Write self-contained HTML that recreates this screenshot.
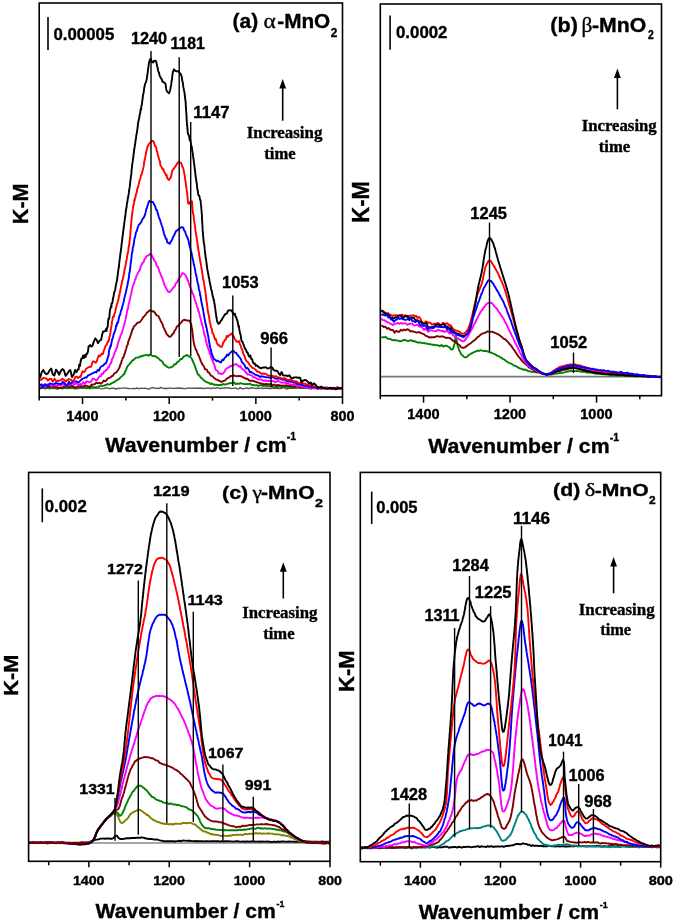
<!DOCTYPE html>
<html><head><meta charset="utf-8"><style>
html,body{margin:0;padding:0;background:#fff;}
body{width:675px;height:923px;overflow:hidden;}
svg{display:block;filter:blur(0.35px);}
</style></head><body>
<svg width="675" height="923" viewBox="0 0 675 923">
<rect width="675" height="923" fill="#fff"/>
<polyline points="40.0,389.0 41.6,388.2 43.2,388.2 44.8,388.0 46.5,388.7 48.1,387.6 49.7,389.0 51.3,388.1 52.9,388.5 54.5,388.3 56.1,388.9 57.8,387.6 59.4,388.3 61.0,388.2 62.6,388.8 64.2,388.0 65.8,388.3 67.5,388.0 69.1,388.4 70.7,388.5 72.3,388.0 73.9,388.7 75.5,388.7 77.1,388.5 78.8,388.6 80.4,388.1 82.0,388.3 83.6,388.0 85.2,388.2 86.8,388.5 88.4,388.1 90.1,388.2 91.7,388.1 93.3,388.0 94.9,388.1 96.5,388.3 98.1,387.9 99.8,388.4 101.4,388.9 103.0,388.6 104.6,388.2 106.2,388.0 107.8,388.0 109.4,388.9 111.1,388.3 112.7,388.1 114.3,388.3 115.9,389.0 117.5,388.3 119.1,388.5 120.7,388.4 122.4,388.1 124.0,387.9 125.6,388.1 127.2,388.2 128.8,388.5 130.4,388.6 132.1,388.6 133.7,388.4 135.3,388.6 136.9,388.0 138.5,388.7 140.1,388.4 141.7,388.1 143.4,388.4 145.0,388.2 146.6,388.6 148.2,388.8 149.8,389.0 151.4,387.7 153.0,387.7 154.7,388.1 156.3,388.3 157.9,388.5 159.5,388.3 161.1,387.5 162.7,388.1 164.4,388.5 166.0,388.3 167.6,388.5 169.2,388.1 170.8,388.1 172.4,388.3 174.0,388.4 175.7,388.3 177.3,388.3 178.9,388.0 180.5,388.3 182.1,388.2 183.7,388.6 185.3,388.6 187.0,388.3 188.6,388.1 190.2,388.0 191.8,388.4 193.4,388.2 195.0,388.1 196.7,388.2 198.3,388.0 199.9,388.4 201.5,388.0 203.1,388.6 204.7,388.3 206.3,388.4 208.0,387.8 209.6,388.3 211.2,388.5 212.8,387.9 214.4,388.1 216.0,388.2 217.6,387.7 219.3,388.3 220.9,388.5 222.5,387.9 224.1,388.3 225.7,387.7 227.3,388.2 229.0,387.6 230.6,388.6 232.2,388.4 233.8,388.2 235.4,387.9 237.0,388.7 238.6,388.9 240.3,387.6 241.9,388.6 243.5,388.8 245.1,388.3 246.7,387.8 248.3,388.5 249.9,388.2 251.6,388.0 253.2,387.8 254.8,388.4 256.4,388.5 258.0,388.0 259.6,388.4 261.3,387.8 262.9,388.5 264.5,388.2 266.1,388.2 267.7,388.2 269.3,388.5 270.9,388.5 272.6,388.4 274.2,388.3 275.8,388.3 277.4,388.5 279.0,388.3 280.6,388.5 282.2,388.1 283.9,387.4 285.5,388.6 287.1,389.0 288.7,388.4 290.3,388.2 291.9,388.2 293.6,388.2 295.2,388.3 296.8,387.9 298.4,388.1 300.0,387.9 301.6,388.3 303.2,388.2 304.9,388.4 306.5,388.2 308.1,388.6 309.7,388.3 311.3,389.0 312.9,387.6 314.5,388.0 316.2,388.6 317.8,389.2 319.4,388.2 321.0,388.3 322.6,388.2 324.2,388.7 325.9,388.2 327.5,388.5 329.1,388.2 330.7,387.8 332.3,388.4 333.9,388.5 335.5,388.7 337.2,388.3 338.8,388.1 340.4,388.5 342.0,388.4" fill="none" stroke="#555555" stroke-width="1.4" stroke-linejoin="round"/>
<polyline points="40.0,387.9 41.6,388.0 43.2,387.3 44.8,388.6 46.5,387.4 48.1,387.7 49.7,388.2 51.3,387.6 52.9,387.6 54.5,387.7 56.1,388.2 57.7,388.8 59.4,388.0 61.0,387.6 62.6,388.2 64.2,387.8 65.8,388.0 67.4,388.4 69.0,387.7 70.7,387.9 72.3,387.6 73.9,387.9 75.5,388.0 77.1,387.5 78.7,387.7 80.3,387.8 81.9,387.6 83.6,387.4 85.2,387.3 86.8,387.7 88.4,387.6 90.0,388.5 91.6,386.7 93.2,387.4 94.8,387.3 96.4,387.4 98.0,386.9 99.6,386.1 101.2,386.1 102.8,386.0 104.3,385.3 105.9,385.3 107.5,384.0 109.0,384.7 110.5,384.1 112.0,382.9 113.5,382.5 114.9,381.6 116.3,380.4 117.6,379.8 118.9,379.2 120.2,377.7 121.4,376.6 122.5,375.6 123.6,374.5 124.5,373.5 125.2,371.4 125.9,370.3 126.5,368.7 127.2,366.6 128.1,365.7 129.1,364.5 130.1,363.3 131.2,362.3 132.3,360.3 133.5,360.0 134.8,358.7 136.2,357.6 137.7,357.6 139.2,357.1 140.7,356.1 142.3,356.2 143.8,355.4 145.4,355.3 147.0,354.8 148.6,355.7 150.2,354.4 151.8,355.6 153.4,356.3 154.9,355.9 156.4,357.1 157.9,357.9 159.2,359.1 160.4,360.4 161.5,360.9 162.5,361.8 163.6,364.0 164.7,365.1 165.8,365.7 167.1,366.9 168.6,367.6 170.2,367.6 171.7,366.9 173.1,366.4 174.3,364.3 175.6,364.3 176.7,362.9 177.9,361.6 179.2,361.1 180.4,358.9 181.7,359.1 182.9,357.7 184.2,356.2 185.5,355.8 186.9,354.9 188.5,356.1 189.8,356.8 190.9,357.5 191.7,358.5 192.3,360.0 193.0,361.6 193.6,363.0 194.3,364.4 194.9,366.0 195.4,367.6 195.9,369.1 196.4,370.5 197.1,371.9 197.8,374.6 198.6,374.6 199.7,375.9 200.8,377.6 202.0,378.4 203.2,379.7 204.5,380.8 205.9,381.8 207.3,382.5 208.7,382.6 210.2,384.0 211.7,383.5 213.3,384.5 214.9,384.7 216.5,384.6 218.1,385.2 219.7,384.8 221.3,385.1 222.9,384.0 224.5,384.6 226.1,384.2 227.7,383.9 229.3,383.1 230.9,383.3 232.5,382.7 234.1,382.4 235.7,384.2 237.3,383.5 238.9,383.9 240.5,383.2 242.1,383.7 243.7,383.9 245.4,384.1 247.0,384.0 248.6,384.2 250.2,383.7 251.8,384.9 253.4,385.0 255.0,385.4 256.6,385.1 258.2,385.9 259.8,385.3 261.4,385.1 263.0,386.0 264.6,385.7 266.2,385.5 267.8,386.1 269.4,386.4 271.0,386.3 272.7,386.5 274.3,387.9 275.9,386.8 277.5,387.1 279.1,386.0 280.7,386.9 282.3,387.1 283.9,386.8 285.5,386.7 287.2,387.2 288.8,387.0 290.4,387.0 292.0,387.7 293.6,387.8 295.2,387.5 296.8,387.3 298.4,387.6 300.1,387.8 301.7,387.8 303.3,387.1 304.9,387.5 306.5,387.8 308.1,387.9 309.7,388.1 311.3,388.0 313.0,387.4 314.6,387.6 316.2,387.5 317.8,388.5 319.4,388.0 321.0,388.2 322.6,388.4 324.3,387.9 325.9,387.7 327.5,387.9 329.1,388.1 330.7,388.7 332.3,388.5 333.9,387.8 335.5,388.4 337.2,388.5 338.8,387.9 340.4,388.2 342.0,387.7" fill="none" stroke="#008000" stroke-width="1.9" stroke-linejoin="round"/>
<polyline points="40.0,388.3 41.6,387.3 43.2,387.1 44.8,385.8 46.4,386.9 48.1,386.8 49.7,387.0 51.3,386.7 52.9,387.1 54.5,386.8 56.1,386.2 57.7,387.7 59.3,387.7 61.0,388.3 62.6,387.1 64.2,386.7 65.8,386.6 67.4,385.9 69.0,387.6 70.6,386.1 72.2,386.0 73.9,386.7 75.5,387.8 77.1,386.9 78.7,385.9 80.3,386.0 81.9,386.9 83.5,386.2 85.1,385.7 86.7,385.9 88.3,386.4 89.9,387.1 91.5,384.5 93.1,384.7 94.7,384.2 96.3,382.7 97.8,383.3 99.4,382.8 100.9,383.8 102.4,382.3 103.8,380.6 105.3,381.4 106.7,380.0 108.1,378.1 109.4,378.0 110.7,377.2 112.0,376.1 113.2,375.4 114.3,373.3 115.4,373.0 116.4,372.3 117.4,370.9 118.2,369.7 119.0,368.3 119.7,367.0 120.4,364.3 121.0,363.7 121.6,361.0 122.1,360.1 122.7,358.0 123.2,357.8 123.8,356.4 124.3,354.2 124.9,353.6 125.4,350.9 125.9,349.8 126.4,348.2 126.8,346.1 127.3,345.3 127.8,344.4 128.2,341.5 128.7,340.9 129.2,338.8 129.8,338.2 130.3,336.1 130.8,334.7 131.3,333.1 131.9,331.4 132.5,329.2 133.1,328.9 133.9,326.3 134.8,325.7 135.9,324.7 137.2,323.0 138.5,322.5 139.8,322.1 141.1,320.5 142.2,319.0 143.3,316.9 144.2,316.5 145.1,315.3 146.0,314.0 147.0,312.5 148.1,311.9 149.4,310.5 150.9,310.5 152.4,311.3 153.8,311.5 155.0,312.8 156.2,315.0 157.3,315.6 158.3,315.9 159.2,317.7 160.0,319.4 160.8,321.2 161.4,322.1 162.1,323.3 162.7,324.7 163.3,326.8 163.9,328.2 164.6,329.3 165.2,330.9 165.9,332.2 166.7,334.2 167.6,334.9 168.8,336.5 170.3,336.7 171.6,335.6 172.7,333.8 173.6,333.4 174.4,331.1 175.2,330.2 176.1,328.3 176.9,326.5 177.9,326.2 179.0,325.0 180.1,323.6 181.2,322.6 182.3,321.0 183.6,320.0 185.1,319.8 186.7,320.6 188.3,320.5 189.6,320.9 190.4,322.7 191.0,323.8 191.4,325.3 191.7,327.5 192.0,328.5 192.2,329.6 192.4,331.5 192.6,333.6 192.8,335.2 193.0,337.3 193.2,338.0 193.4,340.2 193.7,341.7 193.9,343.0 194.3,345.1 194.7,346.4 195.2,347.4 195.8,349.7 196.4,350.2 197.1,352.3 197.7,353.7 198.4,355.3 199.1,356.3 199.7,358.1 200.3,359.6 200.8,361.6 201.5,362.3 202.2,364.1 203.0,365.3 203.9,366.2 204.9,369.3 205.9,369.3 206.9,369.9 208.0,372.4 209.0,372.5 210.1,374.4 211.2,375.8 212.4,376.2 213.6,377.4 214.8,378.4 216.1,379.6 217.4,379.8 218.9,380.6 220.4,381.5 222.0,381.8 223.5,380.9 224.8,380.6 226.2,379.2 227.6,377.9 229.1,377.5 230.6,376.0 232.1,376.0 233.7,375.5 235.3,375.9 236.9,376.2 238.5,375.9 240.1,376.2 241.6,376.3 243.1,377.4 244.7,378.1 246.2,378.8 247.7,378.8 249.2,380.6 250.7,380.8 252.2,380.8 253.7,381.1 255.3,381.7 256.8,382.3 258.4,382.6 260.0,383.1 261.6,383.5 263.2,384.1 264.8,384.2 266.4,383.8 268.0,384.3 269.6,384.1 271.2,384.2 272.8,385.5 274.4,384.5 276.0,385.8 277.6,384.9 279.2,385.2 280.8,385.7 282.4,385.4 284.0,385.6 285.6,385.5 287.2,385.5 288.9,385.7 290.5,385.6 292.1,386.7 293.7,386.0 295.3,387.0 296.9,385.1 298.5,386.4 300.1,386.8 301.7,386.5 303.3,387.2 304.9,387.1 306.6,386.7 308.2,387.1 309.8,388.3 311.4,387.2 313.0,387.3 314.6,387.0 316.2,387.4 317.8,386.8 319.4,387.4 321.1,388.6 322.7,388.1 324.3,387.9 325.9,388.2 327.5,388.6 329.1,388.1 330.7,388.8 332.3,388.4 333.9,388.1 335.6,388.8 337.2,387.1 338.8,387.9 340.4,388.4 342.0,387.9" fill="none" stroke="#800000" stroke-width="1.9" stroke-linejoin="round"/>
<polyline points="40.0,386.0 41.6,386.4 43.2,385.0 44.8,386.5 46.4,385.4 48.0,384.3 49.6,385.0 51.3,386.1 52.9,385.8 54.5,384.3 56.1,385.8 57.7,385.1 59.3,385.4 60.9,385.2 62.5,383.8 64.1,385.0 65.7,384.1 67.3,385.9 68.9,385.1 70.5,384.4 72.1,383.3 73.7,384.2 75.3,384.1 76.9,382.8 78.6,385.7 80.2,383.9 81.7,384.9 83.3,382.1 84.9,384.3 86.5,381.3 88.1,381.6 89.6,382.3 91.2,381.3 92.7,378.6 94.1,379.0 95.5,380.0 96.9,380.3 98.2,378.3 99.5,376.3 100.8,376.2 102.0,373.4 103.2,373.8 104.3,371.1 105.4,371.1 106.5,369.7 107.4,369.3 108.3,366.9 109.1,366.9 109.9,364.3 110.7,363.5 111.4,362.0 112.0,359.1 112.6,358.6 113.2,357.1 113.8,355.1 114.3,354.2 114.9,351.8 115.4,351.4 116.0,349.8 116.5,348.2 117.0,347.8 117.5,345.2 118.0,343.5 118.5,341.5 119.0,340.5 119.5,338.3 120.0,338.0 120.5,335.4 121.0,334.3 121.6,333.8 122.1,331.9 122.6,329.8 123.1,328.9 123.6,326.6 124.0,325.5 124.5,323.5 124.9,321.5 125.3,320.7 125.6,319.4 126.0,317.1 126.3,315.1 126.7,313.8 127.0,311.2 127.3,310.6 127.7,308.8 128.0,308.9 128.3,306.0 128.7,303.8 129.1,303.6 129.4,301.5 129.7,300.0 130.1,298.5 130.4,296.9 130.8,295.1 131.1,294.2 131.5,292.4 131.8,290.3 132.2,288.9 132.6,286.9 133.0,286.0 133.5,284.7 134.0,283.2 134.5,281.6 135.0,279.7 135.6,279.1 136.2,276.7 136.9,275.3 137.6,273.7 138.3,272.5 139.0,270.8 139.7,270.6 140.3,268.3 141.0,265.6 141.7,264.9 142.4,262.9 143.1,262.7 143.8,261.5 144.6,259.1 145.4,258.3 146.3,256.5 147.3,255.6 148.5,255.3 150.0,253.9 151.3,254.3 152.3,256.7 153.1,258.0 153.9,259.5 154.6,261.1 155.2,261.7 155.9,262.4 156.5,265.5 157.2,266.2 157.9,267.2 158.6,268.7 159.3,271.4 159.9,272.4 160.5,273.9 161.0,275.8 161.6,276.4 162.1,277.7 162.6,279.4 163.2,280.7 163.7,282.7 164.3,283.9 164.9,285.9 165.6,287.1 166.4,288.7 167.2,290.4 168.4,291.9 169.9,292.1 171.2,290.3 172.3,289.2 173.2,287.5 174.1,287.0 174.9,285.9 175.8,283.4 176.7,282.8 177.7,280.9 178.5,279.6 179.4,278.4 180.2,276.7 181.0,276.1 182.0,273.5 183.4,273.2 184.7,274.4 185.6,275.2 186.4,277.4 187.0,277.9 187.6,280.2 188.2,280.9 188.8,283.1 189.4,284.9 190.1,287.3 190.7,288.2 191.2,290.0 191.8,290.7 192.3,293.3 192.9,293.5 193.4,295.1 193.9,296.0 194.4,298.4 194.9,300.4 195.4,301.0 195.9,302.6 196.4,304.1 196.8,305.7 197.3,307.1 197.8,308.3 198.3,311.3 198.7,311.0 199.2,313.1 199.6,315.3 200.1,317.3 200.5,318.1 200.9,319.7 201.3,321.4 201.7,322.8 202.1,325.0 202.5,325.8 202.9,327.1 203.2,328.9 203.6,330.8 204.0,333.0 204.3,334.8 204.7,335.2 205.1,336.2 205.5,337.8 205.9,341.3 206.3,341.5 206.7,343.5 207.1,345.9 207.6,346.0 208.0,347.8 208.5,349.1 209.1,350.3 209.6,352.9 210.2,354.6 210.7,354.5 211.2,357.5 211.7,358.4 212.3,360.1 212.8,361.7 213.4,362.3 214.0,364.4 214.6,365.5 215.2,368.6 216.0,370.2 216.7,370.4 217.6,371.1 218.8,373.5 220.2,373.4 221.7,374.2 223.1,373.4 224.3,372.1 225.4,369.9 226.6,368.5 227.9,367.7 229.3,367.2 230.6,365.8 231.9,366.1 233.4,365.1 234.9,364.3 236.5,364.2 238.0,365.5 239.3,366.8 240.5,366.1 241.6,368.4 242.8,369.2 243.9,370.1 245.1,371.5 246.3,372.8 247.6,374.6 249.0,374.5 250.3,375.1 251.7,375.4 253.1,377.3 254.6,377.2 256.1,378.1 257.6,379.2 259.1,379.3 260.7,379.5 262.2,379.9 263.8,380.8 265.4,380.5 267.0,380.8 268.6,381.0 270.2,380.8 271.8,381.3 273.4,381.1 275.0,382.0 276.6,381.8 278.2,380.8 279.8,381.8 281.4,382.8 283.0,382.3 284.6,382.5 286.2,383.6 287.7,382.8 289.3,383.8 290.9,384.4 292.5,384.9 294.0,384.2 295.6,384.5 297.2,386.4 298.7,385.5 300.3,386.2 301.9,386.9 303.5,386.8 305.0,386.8 306.6,387.8 308.2,387.7 309.8,387.8 311.4,388.3 313.0,388.0 314.6,388.3 316.3,388.2 317.9,388.2 319.5,388.4 321.1,388.5 322.7,388.5 324.3,388.6 325.9,388.3 327.5,388.4 329.1,388.7 330.7,388.5 332.3,388.4 334.0,388.6 335.6,388.6 337.2,388.6 338.8,388.3 340.4,388.3 342.0,388.4" fill="none" stroke="#ff00ff" stroke-width="1.9" stroke-linejoin="round"/>
<polyline points="40.0,385.2 41.6,384.3 43.2,387.3 44.8,384.3 46.4,384.6 48.0,386.2 49.6,383.4 51.2,383.7 52.9,384.5 54.5,383.8 56.1,382.8 57.7,383.8 59.3,383.6 60.9,384.5 62.5,381.9 64.1,382.9 65.7,384.9 67.3,385.5 68.9,381.7 70.5,384.0 72.1,382.0 73.7,381.8 75.2,381.4 76.8,381.5 78.3,382.4 79.7,381.4 81.1,380.0 82.5,378.7 83.9,378.3 85.3,377.4 86.7,377.6 88.1,375.2 89.5,375.1 90.9,374.1 92.3,373.4 93.6,372.9 95.0,371.9 96.4,372.3 97.7,369.9 99.0,370.8 100.2,367.7 101.4,366.4 102.6,365.9 103.7,365.0 104.7,363.7 105.7,363.6 106.5,362.0 107.2,359.9 107.8,357.5 108.2,356.2 108.5,356.2 108.8,353.4 109.1,350.1 109.4,349.2 109.7,347.8 110.1,348.1 110.6,345.2 111.0,346.2 111.4,342.9 111.9,340.8 112.3,338.8 112.8,338.1 113.3,335.9 113.7,334.0 114.2,333.3 114.7,331.4 115.2,330.6 115.7,328.3 116.2,325.1 116.7,325.8 117.2,322.7 117.7,323.2 118.2,321.8 118.7,318.9 119.1,317.0 119.6,315.3 120.0,315.1 120.5,312.9 120.9,311.1 121.3,309.8 121.7,309.6 122.1,307.0 122.6,305.7 123.0,304.2 123.4,302.8 123.8,301.2 124.2,298.6 124.6,297.3 125.0,295.5 125.4,293.9 125.7,293.5 126.1,290.9 126.5,289.6 126.8,287.7 127.2,286.2 127.5,285.4 127.8,283.1 128.1,281.5 128.4,280.5 128.6,278.9 128.9,277.5 129.1,275.6 129.3,272.8 129.6,272.6 129.8,271.0 130.0,269.7 130.2,267.0 130.4,267.4 130.6,263.6 130.8,263.1 131.0,261.1 131.2,259.2 131.4,258.4 131.6,256.2 131.8,253.3 132.1,252.4 132.3,251.8 132.5,251.3 132.8,247.5 133.1,246.8 133.4,246.1 133.7,244.0 134.0,241.8 134.3,239.6 134.7,237.8 135.1,236.9 135.4,235.6 135.8,232.9 136.3,231.7 136.7,231.3 137.2,229.4 137.7,227.6 138.3,226.3 138.9,224.6 139.6,224.2 140.4,223.2 141.2,222.1 142.1,219.9 142.9,218.6 143.7,217.6 144.4,216.3 145.0,214.7 145.5,213.0 146.0,210.4 146.5,208.3 146.9,208.2 147.4,206.1 147.9,204.6 148.5,202.6 149.3,200.9 150.6,201.7 152.0,201.9 153.1,202.1 154.0,204.3 154.8,205.6 155.5,207.2 156.1,209.7 156.6,209.9 157.2,210.7 157.6,213.0 158.1,214.1 158.6,216.3 159.1,217.7 159.7,219.3 160.2,220.2 160.7,222.3 161.2,223.3 161.7,225.5 162.1,226.5 162.6,227.6 163.0,230.1 163.5,230.9 163.9,233.7 164.4,234.7 164.9,236.2 165.4,237.5 165.9,238.9 166.6,239.0 167.3,242.6 168.3,242.7 169.7,243.8 170.8,241.7 171.6,240.6 172.3,239.1 173.0,237.1 173.6,236.2 174.3,235.1 175.1,233.2 175.9,231.3 177.0,230.5 178.0,229.7 179.1,229.1 180.3,227.9 181.8,227.2 183.1,227.4 183.9,229.9 184.6,230.8 185.3,232.2 185.9,234.3 186.5,235.6 187.1,237.1 187.6,237.6 188.0,239.5 188.5,240.4 188.9,243.1 189.3,244.5 189.7,246.6 190.1,247.7 190.5,249.0 190.8,252.0 191.2,251.7 191.6,253.1 191.9,255.1 192.3,257.3 192.6,258.4 193.0,259.9 193.3,261.0 193.7,264.2 194.0,264.5 194.3,265.8 194.7,267.9 195.0,269.1 195.3,271.0 195.6,273.5 196.0,274.0 196.3,275.8 196.6,277.2 196.9,278.9 197.3,281.1 197.6,282.5 197.9,283.5 198.2,284.8 198.6,286.8 198.9,289.0 199.2,290.0 199.5,291.5 199.8,292.1 200.1,295.4 200.4,295.5 200.7,297.2 201.0,299.3 201.3,301.1 201.6,302.7 201.9,303.8 202.2,305.6 202.5,307.0 202.8,307.9 203.1,310.4 203.4,311.7 203.7,314.0 204.0,315.2 204.3,317.5 204.6,318.9 204.9,320.6 205.2,322.3 205.5,323.6 205.9,324.7 206.2,327.2 206.5,327.4 206.9,329.5 207.2,331.6 207.5,332.5 207.8,334.6 208.1,335.3 208.4,337.1 208.7,339.3 209.0,341.0 209.3,342.8 209.5,343.7 209.8,345.5 210.1,347.2 210.5,348.7 210.8,349.2 211.2,351.2 211.6,354.0 212.1,353.9 212.7,356.5 213.3,357.4 214.2,359.6 215.3,359.7 216.6,361.2 218.0,360.6 219.6,362.0 221.1,362.2 222.4,359.7 223.5,360.1 224.6,357.8 225.8,357.1 227.0,354.5 228.2,355.7 229.4,353.5 230.6,352.6 232.0,351.3 233.5,351.0 235.0,352.7 236.2,352.8 237.3,354.9 238.2,355.5 239.2,357.1 240.1,357.9 241.1,359.8 241.9,362.4 242.7,362.6 243.5,363.9 244.4,364.7 245.3,367.0 246.2,368.5 247.3,367.8 248.5,369.1 249.8,372.2 251.1,372.0 252.4,372.8 253.8,373.7 255.2,374.7 256.7,375.2 258.2,375.5 259.7,376.8 261.3,376.5 262.8,376.5 264.4,376.9 266.0,377.3 267.6,377.4 269.2,377.6 270.8,377.9 272.4,376.8 274.0,377.8 275.6,378.6 277.2,378.7 278.8,378.4 280.4,378.7 282.0,379.6 283.5,379.5 285.1,379.8 286.6,381.0 288.2,380.7 289.7,381.5 291.3,381.7 292.8,382.2 294.3,382.3 295.9,382.8 297.4,384.0 299.0,383.7 300.5,384.5 302.1,384.7 303.6,385.3 305.2,385.7 306.8,385.8 308.3,386.5 309.9,386.5 311.5,387.0 313.1,386.8 314.7,387.3 316.3,387.6 317.9,387.4 319.5,387.4 321.1,387.7 322.7,387.7 324.3,387.8 325.9,387.8 327.5,387.8 329.1,388.1 330.8,388.0 332.4,388.0 334.0,388.3 335.6,388.2 337.2,388.6 338.8,388.2 340.4,388.2 342.0,388.2" fill="none" stroke="#0000ff" stroke-width="1.9" stroke-linejoin="round"/>
<polyline points="40.0,380.1 41.6,379.5 43.2,377.8 44.8,378.2 46.4,378.7 48.0,380.6 49.6,378.8 51.2,378.9 52.8,381.6 54.4,378.7 56.0,380.8 57.6,381.0 59.2,380.6 60.8,380.3 62.5,378.7 64.1,380.1 65.7,381.4 67.3,380.1 68.9,379.0 70.5,379.7 72.1,380.6 73.7,381.2 75.2,377.1 76.7,376.6 78.1,378.0 79.3,376.8 80.5,377.0 81.6,373.9 82.6,371.3 83.7,372.0 84.9,371.5 86.1,368.7 87.4,368.0 88.6,367.2 89.9,366.9 91.1,366.8 92.3,362.7 93.5,361.2 94.7,361.9 95.8,362.7 96.9,361.0 97.9,357.5 99.0,355.3 100.0,356.2 100.9,355.0 101.9,353.7 102.8,354.3 103.7,350.8 104.5,348.9 105.3,346.4 106.0,345.3 106.7,344.9 107.2,342.9 107.8,342.3 108.2,340.6 108.6,341.4 109.0,339.6 109.4,336.8 109.7,336.3 110.1,334.5 110.5,332.2 110.8,329.4 111.1,327.8 111.4,326.5 111.7,324.4 112.0,321.5 112.3,320.5 112.7,318.5 113.0,316.7 113.4,317.1 113.9,316.5 114.3,314.3 114.7,313.3 115.2,312.0 115.6,309.6 116.1,307.4 116.5,306.2 116.9,303.9 117.4,303.2 117.8,301.6 118.2,300.2 118.6,299.2 118.9,295.7 119.3,295.8 119.6,293.5 119.9,292.7 120.3,290.8 120.6,288.5 120.9,288.0 121.2,285.5 121.6,284.7 121.9,282.4 122.2,280.9 122.6,279.7 122.9,279.2 123.2,276.9 123.6,274.9 123.9,274.3 124.2,271.8 124.5,270.0 124.8,268.0 125.2,267.2 125.5,265.5 125.8,263.5 126.1,261.2 126.4,260.7 126.7,259.2 127.0,257.3 127.3,255.4 127.6,253.8 127.9,252.6 128.1,252.1 128.4,249.8 128.6,247.1 128.9,246.9 129.1,244.6 129.3,244.7 129.5,241.5 129.7,240.1 129.9,238.6 130.0,237.1 130.2,235.4 130.3,233.8 130.5,232.0 130.6,230.2 130.8,228.7 130.9,226.6 131.0,225.4 131.2,223.7 131.3,222.3 131.4,220.6 131.6,219.2 131.7,218.0 131.9,215.9 132.1,214.6 132.3,213.1 132.5,211.1 132.7,209.7 133.0,208.4 133.3,205.6 133.6,205.4 134.0,203.2 134.3,199.7 134.7,200.6 135.0,198.0 135.4,197.7 135.8,195.0 136.2,193.9 136.6,192.9 137.0,190.5 137.3,188.8 137.7,187.7 138.1,187.1 138.4,185.3 138.8,184.0 139.2,181.8 139.6,180.3 140.1,179.1 140.6,177.3 141.1,174.9 141.7,174.4 142.2,172.1 142.7,170.4 143.0,169.4 143.3,167.7 143.6,166.7 143.9,164.7 144.1,162.7 144.4,161.3 144.7,159.5 145.1,158.0 145.3,157.4 145.6,155.3 145.9,153.3 146.2,151.7 146.6,150.0 147.0,148.7 147.5,146.4 148.1,146.1 148.8,144.2 149.6,143.4 150.6,142.2 151.9,140.9 153.1,141.0 153.9,142.3 154.6,144.9 155.2,146.4 155.8,146.6 156.3,148.3 156.8,151.1 157.3,152.0 157.7,154.7 158.1,155.4 158.4,157.2 158.8,158.2 159.1,159.5 159.5,160.5 159.9,161.3 160.4,165.1 161.0,166.4 161.7,167.1 162.6,169.4 163.5,169.2 164.3,172.4 165.1,173.1 165.9,175.3 166.5,174.7 167.2,178.0 168.0,179.1 169.1,179.9 170.2,178.1 170.8,177.4 171.2,175.8 171.6,173.7 172.0,171.7 172.6,170.4 173.2,169.2 173.9,168.7 174.6,167.3 175.5,166.3 176.6,164.4 177.9,162.4 179.4,162.2 180.9,162.6 181.7,164.4 182.4,166.9 183.0,167.4 183.4,168.8 183.8,171.0 184.1,172.7 184.4,174.4 184.6,174.8 184.8,176.5 185.1,178.3 185.3,180.6 185.6,181.9 185.8,182.8 186.0,186.1 186.2,186.2 186.4,188.0 186.6,189.7 186.8,190.8 187.1,192.9 187.3,194.5 187.5,196.2 187.6,197.9 187.7,199.0 187.9,200.3 188.1,203.1 188.6,203.8 189.6,203.5 190.3,201.7 191.2,201.6 191.9,201.2 192.1,201.9 192.2,204.3 192.3,206.8 192.4,208.8 192.6,210.3 192.8,211.3 193.0,213.4 193.3,213.5 193.5,215.3 193.7,216.7 193.9,219.2 194.2,221.2 194.4,222.1 194.6,223.9 194.8,224.9 195.1,226.6 195.3,228.5 195.5,230.9 195.7,231.9 196.0,233.5 196.2,235.4 196.4,236.7 196.7,237.5 196.9,240.6 197.1,241.0 197.4,242.7 197.6,244.3 197.8,246.3 198.1,247.4 198.3,249.3 198.6,251.7 198.8,251.8 199.1,252.7 199.3,256.2 199.6,257.2 199.8,259.0 200.1,260.6 200.4,261.5 200.6,263.4 200.9,263.9 201.2,266.5 201.4,268.1 201.7,269.0 202.0,270.8 202.2,272.8 202.5,274.6 202.8,275.9 203.0,278.4 203.3,279.6 203.6,281.2 203.9,281.3 204.1,283.7 204.4,285.6 204.6,286.9 204.9,288.8 205.1,289.9 205.4,291.4 205.6,293.4 205.8,295.1 206.0,296.5 206.2,298.2 206.4,300.4 206.6,301.7 206.9,303.5 207.1,305.0 207.3,306.3 207.5,307.6 207.7,310.5 208.0,311.1 208.2,313.0 208.4,313.8 208.7,314.9 209.0,316.6 209.3,318.7 209.5,319.8 209.9,322.5 210.2,323.4 210.6,324.9 211.0,327.7 211.4,328.1 211.9,329.6 212.4,333.0 212.9,333.2 213.4,334.5 214.0,335.7 214.6,338.2 215.2,339.6 215.8,339.0 216.5,341.8 217.2,343.5 218.0,345.0 219.0,345.2 220.3,346.7 221.6,346.9 222.5,345.2 223.2,342.5 224.0,341.8 224.8,339.9 225.8,339.5 226.7,336.0 227.7,337.0 228.8,335.4 230.0,334.9 231.6,333.6 232.7,335.3 233.6,336.1 234.4,338.4 235.3,339.6 236.5,341.7 237.9,341.7 239.1,341.0 239.8,343.9 240.5,345.3 241.1,347.3 241.6,348.7 242.1,349.3 242.6,351.1 243.2,353.5 243.7,353.9 244.3,355.9 244.9,356.7 245.5,359.4 246.3,360.9 247.1,361.6 248.0,362.3 249.0,363.9 250.0,365.3 251.1,366.4 252.3,367.8 253.5,368.1 254.7,369.1 256.1,370.2 257.4,371.9 258.8,371.7 260.3,373.0 261.8,374.0 263.3,373.4 264.8,373.7 266.4,374.1 267.9,375.5 269.5,375.8 271.1,375.8 272.7,375.8 274.2,376.6 275.8,376.1 277.4,377.3 279.0,377.5 280.5,377.8 282.1,378.8 283.7,378.1 285.2,378.4 286.8,379.5 288.3,380.2 289.9,379.7 291.5,380.0 293.0,380.8 294.6,381.5 296.1,381.3 297.7,382.5 299.3,383.4 300.8,382.8 302.4,383.1 303.9,383.9 305.5,383.8 307.1,384.6 308.6,385.0 310.1,385.1 311.7,385.8 313.2,386.4 314.8,386.5 316.4,386.6 317.9,387.1 319.5,387.7 321.1,387.4 322.7,387.9 324.3,387.6 325.9,387.8 327.5,387.9 329.1,388.0 330.8,388.2 332.4,388.2 334.0,388.1 335.6,388.2 337.2,388.2 338.8,388.2 340.4,388.2 342.0,388.2" fill="none" stroke="#ff0000" stroke-width="1.9" stroke-linejoin="round"/>
<polyline points="40.0,378.2 41.6,372.5 43.2,369.9 44.8,372.8 46.4,374.3 48.0,373.2 49.6,370.4 51.2,368.5 52.8,374.4 54.4,375.6 56.0,369.6 57.6,371.7 59.2,374.7 60.8,371.0 62.4,369.0 64.0,370.5 65.6,375.9 67.2,373.9 68.8,371.3 70.4,370.1 72.0,377.1 73.6,374.7 75.1,370.0 76.3,372.2 77.3,370.6 78.0,369.2 78.6,369.4 79.2,364.6 79.9,366.1 80.6,361.6 81.4,358.4 82.2,358.5 83.1,355.4 83.9,358.1 84.7,355.1 85.6,356.9 86.4,353.7 87.2,353.9 88.0,351.4 88.6,346.1 89.4,346.0 90.2,345.0 91.2,346.6 92.4,346.0 93.8,341.6 95.3,338.3 96.6,339.8 97.9,343.1 99.0,341.6 100.1,340.2 101.2,339.9 102.1,334.7 103.1,331.5 103.9,331.6 104.7,331.2 105.4,330.8 106.0,329.1 106.5,331.0 107.1,327.8 107.6,327.0 108.0,322.8 108.4,318.7 108.9,318.6 109.2,318.6 109.6,313.9 109.9,311.1 110.3,308.6 110.6,307.8 110.9,307.6 111.2,305.4 111.4,307.4 111.5,303.9 111.8,303.2 112.0,303.7 112.4,302.8 112.8,299.8 113.1,297.9 113.5,296.8 113.9,294.1 114.3,291.7 114.7,291.6 115.1,290.2 115.4,288.4 115.7,286.0 116.1,284.8 116.3,283.0 116.6,281.6 116.9,281.0 117.1,279.6 117.4,277.4 117.6,275.8 117.8,274.3 118.0,272.3 118.3,270.6 118.5,268.7 118.7,267.5 118.9,267.3 119.1,264.8 119.3,262.5 119.5,260.9 119.7,259.0 119.9,258.2 120.1,256.6 120.3,253.9 120.5,253.5 120.7,251.2 120.9,250.8 121.1,248.5 121.3,247.8 121.5,244.9 121.7,243.4 121.9,242.2 122.1,241.1 122.3,239.2 122.5,236.5 122.7,235.8 122.9,234.1 123.1,232.2 123.3,230.5 123.5,230.3 123.7,227.4 123.9,225.6 124.1,224.9 124.3,223.0 124.5,221.3 124.7,220.2 124.9,218.4 125.2,216.8 125.4,215.5 125.6,213.5 125.8,211.4 126.1,210.0 126.3,208.3 126.6,207.1 126.8,204.8 127.1,202.7 127.3,202.3 127.6,199.9 127.8,197.9 128.1,197.7 128.4,195.5 128.6,194.6 128.9,192.4 129.1,190.5 129.4,188.8 129.6,187.7 129.8,186.2 130.0,184.3 130.2,183.0 130.4,180.7 130.6,180.0 130.8,177.3 130.9,176.7 131.1,175.6 131.3,174.3 131.4,173.1 131.6,169.5 131.8,169.3 131.9,168.0 132.1,166.2 132.3,163.5 132.5,162.7 132.7,162.0 133.0,158.4 133.2,158.0 133.4,156.8 133.6,154.1 133.8,153.3 134.0,150.7 134.3,149.3 134.5,147.7 134.7,146.7 134.9,144.9 135.2,144.0 135.4,141.2 135.7,140.1 135.9,139.2 136.1,137.4 136.4,134.6 136.6,134.3 136.9,132.0 137.1,130.9 137.3,129.3 137.5,128.2 137.8,126.0 138.0,123.2 138.2,121.9 138.5,121.6 138.8,119.4 139.1,118.7 139.4,116.6 139.7,114.4 140.1,113.9 140.4,111.2 140.7,108.9 141.1,109.8 141.4,105.8 141.6,105.8 141.9,104.4 142.1,102.3 142.4,99.6 142.6,99.7 142.8,96.6 143.0,95.1 143.3,94.1 143.5,93.2 143.8,91.3 144.0,90.0 144.3,87.7 144.6,86.3 145.0,84.1 145.5,83.1 146.0,82.1 146.5,80.1 146.8,79.0 147.1,76.7 147.3,75.1 147.5,73.9 147.7,72.2 147.9,71.1 148.0,69.2 148.2,68.6 148.5,65.8 148.8,64.2 149.1,62.2 149.4,61.2 149.8,60.1 150.7,58.5 151.4,60.4 152.0,62.3 153.1,62.4 154.1,60.9 155.1,60.6 156.1,61.2 156.5,62.9 156.9,65.0 157.2,66.5 157.5,67.2 157.8,68.7 158.1,70.7 158.5,72.0 159.0,72.5 159.6,75.9 160.3,76.6 160.9,78.5 161.6,78.8 162.4,81.7 163.4,81.8 164.7,83.1 165.5,83.7 165.8,86.0 166.0,87.5 166.2,89.2 166.8,91.0 167.7,92.1 169.1,93.3 169.9,91.0 170.3,89.2 170.5,88.2 170.7,87.0 171.0,85.7 171.3,83.9 171.6,80.8 171.8,80.5 172.0,79.5 172.2,77.1 172.4,75.2 172.6,74.1 172.9,72.0 173.2,71.1 174.0,69.3 175.3,70.9 176.6,71.3 178.1,71.1 179.5,72.6 180.5,74.0 181.1,74.6 181.5,76.3 181.8,76.7 182.1,80.2 182.3,80.9 182.6,81.6 182.9,83.3 183.2,85.9 183.5,88.0 183.8,89.1 184.1,91.0 184.3,91.7 184.6,93.1 184.8,96.0 185.0,97.4 185.2,98.7 185.4,101.0 185.6,101.3 185.7,103.2 185.8,105.7 185.9,107.8 186.0,108.3 186.1,110.9 186.2,111.1 186.3,113.3 186.4,114.6 186.5,115.3 186.6,118.0 186.7,120.0 186.8,121.0 186.9,122.6 187.0,125.1 187.2,125.1 187.3,126.6 187.4,128.7 187.6,130.0 187.8,133.1 188.1,134.0 188.6,134.9 189.2,136.5 189.7,140.1 190.2,139.6 190.5,141.0 190.9,143.3 191.2,145.0 191.5,146.4 191.8,147.3 192.0,148.7 192.3,151.3 192.6,152.5 192.8,153.1 193.1,156.4 193.3,157.8 193.5,158.8 193.7,160.3 193.9,162.2 194.1,163.3 194.3,164.5 194.5,167.1 194.7,167.6 194.9,170.3 195.1,170.8 195.3,173.2 195.5,174.8 195.7,177.5 195.9,177.4 196.1,178.8 196.3,180.8 196.5,182.1 196.8,184.0 197.0,186.2 197.2,188.0 197.5,190.1 197.8,190.3 198.1,193.9 198.4,195.1 198.8,195.3 199.3,195.6 199.8,198.4 200.2,200.1 200.5,200.2 200.8,203.2 201.0,204.7 201.2,205.9 201.3,208.4 201.5,210.2 201.6,210.9 201.7,212.9 201.8,214.0 201.9,215.5 202.0,217.6 202.0,219.5 202.1,220.5 202.2,221.1 202.3,224.4 202.4,224.7 202.5,227.3 202.6,229.9 202.7,230.4 202.8,231.3 202.9,232.7 203.1,235.9 203.2,236.8 203.4,238.7 203.6,240.6 203.7,241.6 203.9,243.0 204.1,244.2 204.3,244.5 204.5,247.1 204.7,249.5 204.9,251.1 205.1,253.0 205.3,254.3 205.5,256.0 205.7,258.0 205.9,258.6 206.1,260.5 206.4,261.3 206.6,264.5 206.8,265.5 207.1,267.4 207.3,269.6 207.6,270.9 207.9,271.8 208.1,273.9 208.4,274.1 208.7,276.8 209.0,278.2 209.3,278.8 209.6,282.1 209.9,282.5 210.2,284.9 210.6,285.8 210.9,288.2 211.2,289.9 211.6,290.2 211.9,291.4 212.3,293.8 212.6,295.9 213.0,296.8 213.3,298.2 213.7,300.4 214.0,300.0 214.3,302.9 214.6,304.0 214.9,306.6 215.1,307.6 215.3,309.0 215.5,311.0 215.7,311.9 216.0,314.4 216.2,315.6 216.4,317.3 216.7,318.7 217.1,321.3 217.6,322.2 218.5,323.8 219.8,323.0 220.7,320.9 221.5,320.3 222.3,318.8 223.1,317.4 224.1,315.7 225.1,314.4 226.0,313.8 227.0,313.4 228.1,310.4 229.5,310.4 231.0,310.1 232.2,311.8 233.2,312.9 234.1,314.6 234.9,313.7 235.6,316.4 236.3,317.6 236.9,319.7 237.4,320.8 237.8,322.4 238.2,324.8 238.6,327.1 238.9,325.8 239.2,328.9 239.5,330.8 239.8,332.2 240.1,333.8 240.5,334.2 240.8,336.1 241.2,339.2 241.6,341.0 242.1,341.4 242.6,341.9 243.2,344.1 243.9,345.4 244.6,347.8 245.3,349.0 246.1,349.9 246.8,352.3 247.7,352.5 248.5,355.5 249.4,356.8 250.3,355.4 251.2,358.8 252.1,359.1 253.0,362.7 253.9,363.6 254.8,363.5 255.7,365.8 256.8,365.3 258.1,366.5 259.5,367.7 261.1,368.4 262.7,367.5 264.3,367.6 265.9,367.2 267.5,368.6 269.1,368.2 270.7,367.1 272.2,367.5 273.6,370.0 274.9,370.7 276.2,370.7 277.5,371.1 278.8,373.5 280.2,375.1 281.6,372.0 283.1,375.4 284.6,375.6 286.2,375.4 287.7,376.3 289.3,375.3 290.9,377.6 292.5,378.4 294.0,377.4 295.5,377.4 297.0,377.5 298.6,377.8 300.1,377.7 301.6,382.4 303.1,380.7 304.6,380.0 306.1,380.3 307.6,381.6 309.1,383.3 310.7,382.4 312.2,385.5 313.7,383.4 315.2,384.3 316.7,386.3 318.2,388.0 319.7,387.9 321.3,386.6 322.8,387.9 324.4,388.2 326.0,388.6 327.6,388.6 329.2,388.0 330.8,387.8 332.4,388.7 334.0,387.9 335.6,389.4 337.2,388.6 338.8,388.0 340.4,388.4 342.0,388.2" fill="none" stroke="#000000" stroke-width="1.9" stroke-linejoin="round"/>
<line x1="151.00" y1="51.10" x2="151.00" y2="354.50" stroke="#000" stroke-width="1.4"/>
<line x1="179.20" y1="57.30" x2="179.20" y2="356.90" stroke="#000" stroke-width="1.4"/>
<line x1="190.70" y1="122.00" x2="190.70" y2="356.00" stroke="#000" stroke-width="1.4"/>
<line x1="232.80" y1="295.40" x2="232.80" y2="386.10" stroke="#000" stroke-width="1.4"/>
<line x1="271.10" y1="347.60" x2="271.10" y2="387.30" stroke="#000" stroke-width="1.4"/>
<rect x="39.20" y="3.00" width="303.30" height="394.10" fill="none" stroke="#000" stroke-width="1.6"/>
<line x1="82.53" y1="397.10" x2="82.53" y2="404.10" stroke="#000" stroke-width="1.5"/>
<line x1="169.19" y1="397.10" x2="169.19" y2="404.10" stroke="#000" stroke-width="1.5"/>
<line x1="255.84" y1="397.10" x2="255.84" y2="404.10" stroke="#000" stroke-width="1.5"/>
<line x1="342.50" y1="397.10" x2="342.50" y2="404.10" stroke="#000" stroke-width="1.5"/>
<line x1="39.20" y1="397.10" x2="39.20" y2="400.60" stroke="#000" stroke-width="1.5"/>
<line x1="125.86" y1="397.10" x2="125.86" y2="400.60" stroke="#000" stroke-width="1.5"/>
<line x1="212.51" y1="397.10" x2="212.51" y2="400.60" stroke="#000" stroke-width="1.5"/>
<line x1="299.17" y1="397.10" x2="299.17" y2="400.60" stroke="#000" stroke-width="1.5"/>
<line x1="48.00" y1="17.00" x2="48.00" y2="50.00" stroke="#000" stroke-width="1.6"/>
<text x="53.50" y="40.00" font-family='"Liberation Sans", sans-serif' font-weight="bold" font-size="16.20" textLength="60.74" lengthAdjust="spacingAndGlyphs" fill="#000" stroke="#000" stroke-width="0.35">0.00005</text>
<text x="232.63" y="28.20" font-family='"Liberation Sans", sans-serif' font-weight="bold" font-size="20.80" textLength="25.59" lengthAdjust="spacingAndGlyphs" fill="#000" stroke="#000" stroke-width="0.35">(a)</text>
<text x="263.44" y="28.20" font-family='"Liberation Serif", serif' font-weight="normal" font-size="21.00" textLength="12.24" lengthAdjust="spacingAndGlyphs" fill="#000" stroke="#000" stroke-width="0.35">α</text>
<text x="277.25" y="28.20" font-family='"Liberation Sans", sans-serif' font-weight="bold" font-size="20.60" textLength="53.01" lengthAdjust="spacingAndGlyphs" fill="#000" stroke="#000" stroke-width="0.35">-MnO</text>
<text x="330.76" y="36.50" font-family='"Liberation Sans", sans-serif' font-weight="bold" font-size="12.50" textLength="6.55" lengthAdjust="spacingAndGlyphs" fill="#000" stroke="#000" stroke-width="0.35">2</text>
<text x="130.90" y="43.60" font-family='"Liberation Sans", sans-serif' font-weight="bold" font-size="16.20" textLength="36.28" lengthAdjust="spacingAndGlyphs" fill="#000" stroke="#000" stroke-width="0.35">1240</text>
<text x="170.52" y="49.30" font-family='"Liberation Sans", sans-serif' font-weight="bold" font-size="16.20" textLength="34.39" lengthAdjust="spacingAndGlyphs" fill="#000" stroke="#000" stroke-width="0.35">1181</text>
<text x="193.38" y="118.20" font-family='"Liberation Sans", sans-serif' font-weight="bold" font-size="16.20" textLength="36.00" lengthAdjust="spacingAndGlyphs" fill="#000" stroke="#000" stroke-width="0.35">1147</text>
<text x="221.99" y="288.00" font-family='"Liberation Sans", sans-serif' font-weight="bold" font-size="16.20" textLength="36.61" lengthAdjust="spacingAndGlyphs" fill="#000" stroke="#000" stroke-width="0.35">1053</text>
<text x="260.29" y="344.30" font-family='"Liberation Sans", sans-serif' font-weight="bold" font-size="16.20" textLength="27.77" lengthAdjust="spacingAndGlyphs" fill="#000" stroke="#000" stroke-width="0.35">966</text>
<line x1="282.70" y1="87.00" x2="282.70" y2="120.70" stroke="#000" stroke-width="1.6"/>
<path d="M282.70,79.00 L286.10,88.50 L279.30,88.50 Z" fill="#000"/>
<text x="246.79" y="137.80" font-family='"Liberation Serif", serif' font-weight="bold" font-size="16.00" textLength="75.54" lengthAdjust="spacingAndGlyphs" fill="#000" stroke="#000" stroke-width="0.35">Increasing</text>
<text x="264.33" y="158.60" font-family='"Liberation Serif", serif' font-weight="bold" font-size="16.00" textLength="31.28" lengthAdjust="spacingAndGlyphs" fill="#000" stroke="#000" stroke-width="0.35">time</text>
<text transform="translate(27.82,222.82) rotate(-90)" x="-1.41" y="0" font-family='"Liberation Sans", sans-serif' font-weight="bold" font-size="22.83" textLength="40.83" lengthAdjust="spacingAndGlyphs" fill="#000" stroke="#000" stroke-width="0.35">K-M</text>
<text x="66.29" y="420.70" font-family='"Liberation Sans", sans-serif' font-weight="bold" font-size="14.00" textLength="32.19" lengthAdjust="spacingAndGlyphs" fill="#000" stroke="#000" stroke-width="0.35">1400</text>
<text x="152.94" y="420.70" font-family='"Liberation Sans", sans-serif' font-weight="bold" font-size="14.00" textLength="32.19" lengthAdjust="spacingAndGlyphs" fill="#000" stroke="#000" stroke-width="0.35">1200</text>
<text x="239.60" y="420.70" font-family='"Liberation Sans", sans-serif' font-weight="bold" font-size="14.00" textLength="32.19" lengthAdjust="spacingAndGlyphs" fill="#000" stroke="#000" stroke-width="0.35">1000</text>
<text x="330.59" y="420.70" font-family='"Liberation Sans", sans-serif' font-weight="bold" font-size="14.00" textLength="24.01" lengthAdjust="spacingAndGlyphs" fill="#000" stroke="#000" stroke-width="0.35">800</text>
<text x="105.38" y="452.00" font-family='"Liberation Sans", sans-serif' font-weight="bold" font-size="21.00" textLength="181.35" lengthAdjust="spacingAndGlyphs" fill="#000" stroke="#000" stroke-width="0.35">Wavenumber / cm</text>
<text x="286.76" y="440.00" font-family='"Liberation Sans", sans-serif' font-weight="bold" font-size="10.50" textLength="9.32" lengthAdjust="spacingAndGlyphs" fill="#000" stroke="#000" stroke-width="0.35">-1</text>
<line x1="380.30" y1="376.70" x2="661.50" y2="376.70" stroke="#777777" stroke-width="1.7"/>
<polyline points="381.2,337.6 382.7,337.1 384.3,337.4 385.8,336.8 387.4,338.6 388.9,338.8 390.5,339.2 392.1,340.0 393.6,340.4 395.2,340.0 396.8,340.4 398.4,340.7 400.0,341.3 401.7,341.1 403.3,340.0 404.9,339.9 406.5,340.7 408.1,341.1 409.7,340.4 411.3,340.3 412.9,341.4 414.5,341.0 416.1,341.8 417.7,342.6 419.2,342.4 420.8,342.5 422.4,343.2 424.0,342.9 425.5,343.5 427.1,343.6 428.7,344.1 430.3,344.2 431.9,344.6 433.5,344.7 435.1,345.0 436.7,345.2 438.3,345.4 439.9,346.2 441.6,344.9 443.2,346.5 444.8,345.9 446.4,345.6 447.9,346.5 449.4,347.3 450.5,348.7 451.4,349.5 452.7,349.4 453.4,347.9 453.9,346.0 454.3,344.6 454.7,343.3 454.9,341.8 455.1,340.2 455.3,338.5 455.4,336.9 455.9,335.7 456.3,337.5 456.5,338.7 456.7,340.4 456.9,342.1 457.2,343.3 457.6,345.5 458.0,346.6 458.5,348.3 459.1,350.3 459.7,351.2 460.4,352.7 461.3,354.4 462.3,355.2 463.5,356.4 464.9,357.4 466.4,357.2 467.6,356.2 468.8,355.0 470.1,354.2 471.5,353.4 473.0,352.7 474.5,351.8 476.0,351.3 477.6,350.7 479.2,350.8 480.8,350.1 482.4,350.7 484.0,351.1 485.6,350.8 487.2,351.3 488.7,351.8 490.2,352.6 491.8,352.8 493.3,353.5 494.7,354.1 496.2,354.9 497.6,355.9 499.0,356.3 500.4,357.3 501.8,358.1 503.2,359.2 504.5,359.6 505.8,361.0 507.2,361.8 508.6,362.7 510.0,363.3 511.4,363.7 512.9,364.7 514.3,365.7 515.8,366.2 517.2,366.8 518.7,367.9 520.2,368.6 521.7,368.7 523.2,369.7 524.7,369.5 526.3,370.0 527.8,371.0 529.4,371.2 531.0,371.7 532.6,371.9 534.2,372.1 535.8,372.4 537.4,372.6 539.0,372.5 540.5,373.2 542.1,373.6 543.6,374.4 545.2,374.2 546.8,374.6 548.4,374.5 550.0,374.5 551.6,374.6 553.2,374.2 554.8,373.7 556.4,373.6 558.0,373.4 559.6,372.9 561.2,372.8 562.8,372.8 564.4,372.4 566.0,371.9 567.6,371.5 569.2,371.3 570.8,370.8 572.4,371.2 574.0,371.1 575.6,371.1 577.2,370.9 578.8,371.1 580.4,371.5 582.1,371.7 583.7,371.7 585.3,372.1 586.9,372.5 588.5,372.4 590.1,372.6 591.7,372.8 593.3,373.0 594.9,373.6 596.5,373.7 598.1,373.9 599.7,373.7 601.3,373.9 602.9,374.2 604.5,374.3 606.1,374.5 607.7,374.5 609.3,374.9 610.9,375.2 612.6,375.3 614.2,375.4 615.8,375.2 617.4,375.5 619.0,375.3 620.6,375.7 622.2,375.5 623.9,375.6 625.5,375.6 627.1,376.0 628.7,376.0 630.3,376.1 631.9,375.9 633.5,376.2 635.2,375.9 636.8,376.6 638.4,376.3 640.0,376.4 641.6,376.4 643.2,376.2 644.8,376.3 646.5,376.6 648.1,377.0 649.7,376.5 651.3,376.6 652.9,376.8 654.5,376.5 656.2,376.5 657.8,376.8 659.4,377.0 661.0,376.9" fill="none" stroke="#008000" stroke-width="1.9" stroke-linejoin="round"/>
<polyline points="381.2,325.8 382.6,325.9 384.0,327.2 385.5,326.7 387.0,328.8 388.5,328.0 390.0,329.5 391.5,330.0 393.0,330.0 394.6,332.7 396.2,330.9 397.8,331.7 399.4,331.8 400.8,329.8 402.3,330.7 403.9,329.5 405.5,330.3 407.1,329.3 408.7,329.6 410.2,331.3 411.8,331.3 413.4,331.5 414.9,332.2 416.4,332.6 418.0,332.2 419.4,332.1 420.9,333.1 422.4,333.7 423.9,334.1 425.4,335.6 426.9,336.2 428.4,337.0 430.0,337.5 431.6,337.2 433.2,337.2 434.8,337.2 436.4,336.3 438.0,336.3 439.6,336.7 441.2,336.4 442.8,336.5 444.4,337.0 446.0,338.0 447.6,337.8 449.1,337.9 450.6,338.5 451.9,339.7 453.2,341.1 454.5,341.0 455.9,342.6 457.2,343.5 458.5,344.5 459.7,345.2 460.8,347.0 462.2,347.7 463.7,347.8 465.2,347.2 466.5,346.0 467.7,345.2 469.1,344.2 470.4,343.5 471.6,342.4 472.9,341.3 474.1,340.4 475.4,339.4 476.6,338.3 477.8,336.9 479.0,336.3 480.3,334.9 481.6,334.0 483.0,333.4 484.5,332.9 486.0,332.4 487.5,331.4 489.1,331.8 490.7,331.9 492.3,331.8 493.8,332.4 495.3,333.0 496.7,333.7 498.2,334.4 499.5,335.1 500.9,336.3 502.2,337.3 503.5,338.6 504.7,339.0 506.0,339.9 507.2,341.4 508.3,342.4 509.4,343.8 510.4,344.9 511.4,346.0 512.3,347.4 513.3,349.0 514.2,350.2 515.1,351.3 516.0,353.0 516.9,353.9 517.8,355.4 518.7,356.9 519.7,357.8 520.7,359.1 521.7,360.6 522.8,361.7 524.0,362.8 525.2,363.8 526.4,364.8 527.7,365.8 529.0,367.6 530.3,367.8 531.6,369.1 533.0,369.5 534.4,370.7 535.8,371.4 537.3,372.0 538.7,372.4 540.3,372.8 541.8,373.8 543.3,373.8 544.9,374.1 546.5,374.7 548.1,374.6 549.7,374.0 551.3,373.5 552.8,373.0 554.4,372.7 555.9,372.1 557.4,371.4 559.0,371.1 560.5,370.9 562.1,370.1 563.7,369.8 565.2,369.6 566.8,369.5 568.3,368.8 569.9,368.4 571.5,368.5 573.1,367.8 574.7,367.9 576.3,368.3 577.9,368.6 579.5,368.7 581.1,368.4 582.6,369.4 584.2,369.8 585.8,370.0 587.4,370.4 588.9,370.9 590.5,371.0 592.1,371.2 593.6,371.4 595.2,372.1 596.8,372.3 598.4,372.6 600.0,372.8 601.5,373.3 603.1,373.6 604.7,373.7 606.3,373.5 607.9,374.1 609.6,374.1 611.2,373.7 612.8,374.4 614.4,374.0 616.0,374.3 617.6,374.9 619.2,374.9 620.8,374.8 622.4,374.8 624.0,375.2 625.6,374.9 627.2,375.4 628.8,375.4 630.4,375.7 632.0,375.6 633.7,375.5 635.3,375.9 636.9,375.8 638.5,375.7 640.1,375.9 641.7,376.0 643.3,376.3 644.9,376.5 646.5,376.4 648.1,376.3 649.7,376.5 651.3,376.8 653.0,376.9 654.6,376.6 656.2,376.9 657.8,376.9 659.4,376.6 661.0,376.8" fill="none" stroke="#800000" stroke-width="1.9" stroke-linejoin="round"/>
<polyline points="381.2,318.5 382.7,320.1 384.2,320.1 385.7,321.1 387.2,322.3 388.6,322.4 390.1,323.7 391.5,324.1 393.0,325.1 394.6,323.6 396.2,323.6 397.8,322.9 399.3,323.8 400.9,322.9 402.5,323.7 404.1,323.4 405.7,323.3 407.3,324.9 408.9,324.0 410.5,323.8 412.1,323.4 413.7,325.3 415.2,325.5 416.8,324.6 418.3,325.8 419.7,326.8 421.1,326.3 422.5,328.0 424.0,329.9 425.4,328.4 427.0,330.4 428.5,331.7 430.1,330.2 431.7,330.4 433.3,330.9 434.9,331.1 436.6,331.0 438.2,329.7 439.8,330.3 441.4,331.0 443.0,330.8 444.6,332.0 446.2,331.1 447.8,331.4 449.3,333.5 450.6,333.1 451.8,333.5 453.1,335.2 454.4,336.1 455.7,337.2 457.1,338.0 458.4,338.7 459.7,339.6 461.1,340.4 462.6,341.4 464.1,341.1 465.3,339.6 466.3,338.5 467.2,337.2 468.2,335.7 469.0,334.3 469.8,332.9 470.6,331.2 471.3,330.0 472.0,328.8 472.7,327.5 473.4,325.8 474.2,324.3 474.9,323.1 475.7,321.9 476.4,319.9 477.1,318.5 477.8,317.1 478.5,315.9 479.3,314.2 480.1,313.0 480.9,311.4 481.8,310.4 482.8,308.9 483.7,307.6 484.7,306.5 485.7,304.9 486.8,303.8 488.0,303.1 489.5,302.6 491.1,302.9 492.3,303.4 493.4,305.1 494.5,306.3 495.5,307.4 496.6,308.3 497.6,310.1 498.5,311.6 499.5,312.6 500.4,314.1 501.2,315.1 502.1,316.6 502.9,317.8 503.7,319.1 504.5,320.7 505.2,322.0 506.0,323.5 506.7,324.9 507.4,326.4 508.1,327.9 508.7,329.5 509.4,330.6 510.2,332.4 510.9,333.4 511.6,335.2 512.3,336.7 513.0,337.7 513.7,339.5 514.4,341.2 515.1,342.5 515.8,343.8 516.5,345.2 517.3,346.8 518.0,348.2 518.7,349.8 519.4,351.1 520.1,352.7 520.8,354.1 521.5,355.3 522.2,356.7 523.0,358.2 523.8,359.8 524.7,360.9 525.6,362.5 526.6,363.3 527.7,364.7 528.9,365.6 530.2,366.9 531.5,367.8 532.8,368.6 534.2,369.3 535.6,370.1 537.0,370.9 538.5,372.0 539.9,372.3 541.4,373.2 542.9,373.9 544.4,374.1 546.0,374.3 547.6,373.8 549.1,373.8 550.6,373.4 552.1,372.4 553.6,372.0 555.0,371.3 556.4,370.5 557.9,369.7 559.4,369.3 560.9,368.6 562.5,368.1 564.0,368.2 565.5,367.2 567.1,366.8 568.7,366.6 570.2,366.3 571.8,366.2 573.5,365.8 575.1,365.9 576.7,366.1 578.2,366.7 579.8,367.1 581.4,367.2 582.9,367.6 584.5,368.1 586.0,368.3 587.6,368.8 589.2,369.5 590.7,369.5 592.3,370.2 593.8,370.8 595.4,370.8 596.9,371.6 598.5,371.7 600.1,371.9 601.7,372.4 603.3,372.5 604.9,372.7 606.5,372.8 608.1,372.9 609.7,373.2 611.3,373.4 612.9,373.7 614.5,373.7 616.1,373.9 617.7,373.9 619.3,374.2 620.9,374.3 622.5,374.6 624.1,374.6 625.7,374.3 627.3,374.8 628.9,374.8 630.5,375.2 632.1,375.2 633.7,375.5 635.3,375.6 636.9,375.4 638.5,375.6 640.1,375.8 641.7,375.7 643.3,376.7 644.9,376.2 646.5,375.9 648.2,376.0 649.8,376.4 651.4,376.4 653.0,376.3 654.6,376.4 656.2,376.8 657.8,376.8 659.4,377.1 661.0,377.1" fill="none" stroke="#ff00ff" stroke-width="1.9" stroke-linejoin="round"/>
<polyline points="381.2,309.8 382.5,311.4 383.8,311.9 385.1,312.5 386.5,314.0 387.9,313.0 389.3,314.3 390.8,314.9 392.4,315.7 394.0,315.4 395.6,315.3 397.2,315.4 398.8,315.4 400.4,315.3 401.9,314.6 403.5,315.9 405.2,315.3 406.8,316.8 408.4,316.0 410.0,315.6 411.6,315.6 413.2,315.1 414.7,316.5 416.2,315.9 417.6,318.0 419.0,316.9 420.3,318.5 421.7,321.7 423.0,322.7 424.4,323.3 425.8,321.3 427.3,322.2 428.8,322.8 430.4,322.8 432.0,324.6 433.6,323.8 435.2,324.0 436.8,323.4 438.4,323.0 440.0,325.5 441.6,324.2 443.2,322.7 444.8,324.7 446.4,323.1 448.0,323.8 449.5,326.0 450.6,325.1 451.7,326.9 452.7,328.3 454.0,329.6 455.4,330.4 456.9,330.6 458.4,331.6 459.7,331.8 461.1,333.0 462.5,333.9 464.1,333.4 465.4,332.5 466.5,331.3 467.4,330.1 468.2,328.6 468.9,326.8 469.5,325.5 470.0,323.9 470.4,322.6 470.8,320.6 471.2,319.2 471.6,318.1 471.9,316.3 472.3,315.2 472.7,313.1 473.1,311.0 473.5,310.2 473.9,308.5 474.3,306.8 474.6,305.0 475.0,303.7 475.4,302.3 475.7,300.7 476.1,299.1 476.6,297.6 477.0,296.0 477.5,294.2 478.1,293.0 478.7,291.5 479.3,290.3 479.9,288.4 480.5,286.7 481.1,285.7 481.6,284.0 482.1,282.2 482.5,280.6 482.9,279.5 483.2,277.3 483.5,275.9 483.8,274.5 484.1,272.7 484.5,271.3 484.8,269.9 485.2,268.1 485.7,266.4 486.3,265.1 487.0,263.7 487.7,262.5 488.6,260.7 490.0,260.8 491.2,261.4 492.1,263.2 493.0,264.7 493.8,265.9 494.6,267.0 495.4,268.8 496.2,270.1 496.9,271.4 497.7,272.7 498.4,274.1 499.0,275.6 499.7,277.6 500.4,278.7 501.0,280.1 501.7,281.4 502.3,283.1 502.9,284.5 503.5,285.9 504.0,287.6 504.6,289.0 505.1,290.6 505.6,292.1 506.0,293.5 506.5,295.3 506.9,296.9 507.4,297.7 507.8,299.8 508.3,301.4 508.7,302.9 509.1,304.8 509.6,306.1 510.0,307.5 510.5,309.0 510.9,310.8 511.3,311.9 511.7,313.8 512.2,315.3 512.6,316.9 513.0,318.4 513.4,319.8 513.9,321.4 514.3,323.1 514.7,324.5 515.2,326.5 515.6,327.9 516.1,329.1 516.6,331.0 517.0,332.4 517.5,334.0 518.0,335.8 518.4,337.2 518.9,338.4 519.4,340.2 519.9,341.6 520.4,343.4 520.9,344.7 521.4,345.9 521.9,347.1 522.3,349.2 522.8,350.7 523.2,352.3 523.7,354.4 524.2,355.5 524.8,357.2 525.5,358.3 526.3,360.0 527.2,361.1 528.2,362.1 529.3,363.6 530.5,364.7 531.7,365.6 532.9,367.1 534.2,367.8 535.6,368.4 536.9,369.1 538.3,370.6 539.6,371.4 541.0,372.3 542.3,372.8 543.8,373.6 545.3,374.4 546.9,374.3 548.4,374.0 549.9,373.4 551.3,372.7 552.6,371.4 553.9,370.6 555.2,369.8 556.6,368.7 558.0,368.2 559.4,367.0 560.9,366.8 562.4,366.1 564.0,366.0 565.5,365.4 567.1,364.9 568.7,364.7 570.3,364.3 571.9,364.6 573.5,364.4 575.1,364.5 576.7,364.9 578.3,365.2 579.9,365.5 581.4,365.8 582.9,366.7 584.5,367.0 586.1,367.3 587.6,367.9 589.2,368.1 590.7,368.9 592.3,369.0 593.8,369.5 595.4,370.0 596.9,370.3 598.5,370.7 600.1,371.0 601.7,371.2 603.2,371.7 604.8,371.8 606.4,372.4 608.0,372.2 609.6,372.3 611.2,372.5 612.8,372.9 614.4,373.0 616.0,373.0 617.6,373.5 619.2,373.2 620.9,373.4 622.5,373.7 624.1,373.9 625.7,373.9 627.3,374.5 628.9,374.6 630.5,374.6 632.1,374.7 633.7,374.8 635.3,375.0 636.9,375.3 638.5,375.4 640.1,375.5 641.7,375.5 643.3,375.4 644.9,375.5 646.5,376.0 648.1,375.8 649.8,376.1 651.4,376.5 653.0,376.5 654.6,376.5 656.2,376.7 657.8,376.9 659.4,377.0 661.0,376.8" fill="none" stroke="#ff0000" stroke-width="1.9" stroke-linejoin="round"/>
<polyline points="381.2,311.6 382.6,310.8 384.0,312.5 385.4,314.0 386.7,313.6 388.1,315.0 389.4,315.7 390.7,318.1 392.1,317.5 393.7,318.6 395.2,317.2 396.7,317.8 398.2,315.8 399.8,315.4 401.4,316.1 403.0,318.5 404.6,316.6 406.1,315.7 407.7,316.3 409.3,320.2 410.9,317.5 412.5,317.7 414.1,318.4 415.7,320.2 417.1,320.1 418.4,320.9 419.6,321.5 420.9,321.7 422.2,323.4 423.6,323.7 425.0,323.4 426.5,323.0 428.0,327.3 429.5,327.5 431.2,327.2 432.8,327.0 434.3,326.4 435.9,324.8 437.5,324.4 439.1,324.8 440.7,324.9 442.3,324.6 444.0,324.2 445.6,326.2 447.1,326.5 448.7,328.0 450.0,329.1 451.0,328.0 452.0,330.5 453.0,331.1 454.4,332.1 455.9,333.1 457.4,333.6 458.8,334.0 460.2,335.0 461.6,335.7 463.1,336.0 464.7,335.6 466.0,334.6 467.3,334.1 468.3,332.3 469.1,331.0 469.8,329.6 470.3,328.0 470.8,326.9 471.2,325.2 471.6,323.0 472.0,321.7 472.3,320.5 472.6,318.7 472.9,317.2 473.2,315.6 473.5,314.0 473.7,312.3 474.0,310.8 474.3,309.3 474.6,307.5 474.9,306.2 475.2,304.5 475.5,303.0 475.7,301.5 476.0,299.7 476.3,297.9 476.5,296.7 476.8,295.1 477.0,293.2 477.3,291.6 477.6,290.3 477.9,288.8 478.2,286.7 478.5,285.4 478.9,283.8 479.3,282.3 479.6,280.9 480.0,279.6 480.4,277.5 480.8,276.4 481.1,274.7 481.5,273.4 481.8,271.4 482.1,269.8 482.4,268.4 482.7,266.7 482.9,265.4 483.2,263.5 483.4,262.0 483.6,260.4 483.9,258.5 484.1,257.2 484.4,255.4 484.7,253.9 485.0,252.3 485.3,250.8 485.7,248.9 486.1,247.8 486.4,246.2 486.8,244.5 487.2,242.7 487.6,241.1 488.1,239.8 488.9,238.2 490.2,238.2 491.2,239.5 492.0,241.0 492.7,242.3 493.4,243.6 493.9,245.6 494.4,247.2 494.9,248.2 495.3,249.8 495.8,251.9 496.2,253.3 496.6,254.6 497.0,256.3 497.4,257.4 497.8,259.2 498.3,261.1 498.7,262.0 499.2,264.0 499.7,265.2 500.2,267.3 500.6,268.3 501.1,269.8 501.6,271.4 502.1,273.0 502.6,274.7 503.1,276.4 503.5,277.5 504.0,279.2 504.5,280.9 505.0,282.1 505.5,284.0 506.0,285.5 506.4,287.0 506.9,288.5 507.3,290.2 507.8,291.8 508.2,293.1 508.6,294.9 509.0,296.3 509.3,297.5 509.7,299.7 510.1,301.0 510.4,302.8 510.7,304.0 511.1,305.7 511.4,307.2 511.8,308.6 512.1,310.5 512.5,312.3 512.9,313.6 513.2,315.1 513.6,316.6 513.9,318.0 514.3,319.9 514.6,321.5 515.0,322.9 515.4,324.5 515.7,326.0 516.1,327.5 516.5,329.5 516.9,331.0 517.3,332.4 517.7,333.7 518.2,335.4 518.6,337.2 519.0,338.7 519.5,340.6 519.9,341.8 520.4,343.2 520.9,344.7 521.4,345.9 521.9,347.9 522.4,349.0 522.9,350.8 523.3,352.3 523.8,354.0 524.3,355.6 524.8,357.2 525.5,358.6 526.2,359.9 527.1,361.4 528.1,362.6 529.2,363.5 530.4,364.9 531.6,365.8 532.8,367.0 534.1,368.0 535.4,368.7 536.7,369.5 538.1,370.8 539.4,371.4 540.8,372.3 542.2,373.3 543.7,373.7 545.2,374.2 546.8,374.5 548.4,374.0 550.0,373.7 551.5,373.3 553.0,372.9 554.4,371.7 555.9,371.5 557.4,371.0 558.9,370.2 560.5,369.8 562.1,369.1 563.6,369.2 565.2,368.6 566.8,368.4 568.4,367.9 570.0,368.1 571.6,367.7 573.2,367.8 574.8,368.1 576.4,368.2 577.9,368.4 579.5,369.1 581.0,369.6 582.5,370.0 584.1,370.5 585.6,370.8 587.2,371.2 588.8,371.5 590.4,371.7 592.0,372.2 593.5,372.5 595.1,372.5 596.7,372.8 598.3,373.0 599.9,373.2 601.5,373.5 603.1,373.8 604.7,373.9 606.3,374.1 607.9,373.9 609.5,374.4 611.1,374.3 612.8,374.4 614.4,374.4 616.0,374.5 617.6,374.7 619.2,374.7 620.8,374.8 622.4,374.7 624.0,375.3 625.6,375.5 627.2,375.3 628.8,375.1 630.4,375.5 632.0,375.9 633.7,375.5 635.3,376.1 636.9,376.0 638.5,375.5 640.1,376.1 641.7,376.2 643.3,376.1 644.9,376.0 646.5,376.2 648.1,376.8 649.7,376.4 651.3,376.3 653.0,376.7 654.6,376.7 656.2,376.6 657.8,377.0 659.4,376.8 661.0,376.9" fill="none" stroke="#000000" stroke-width="1.9" stroke-linejoin="round"/>
<polyline points="381.2,315.3 382.6,314.4 384.1,315.2 385.5,315.7 386.9,314.3 388.3,317.5 389.6,316.7 390.9,319.5 392.3,319.5 393.8,321.8 395.4,320.2 396.7,319.6 398.1,317.5 399.6,319.0 401.2,318.1 402.8,319.2 404.4,319.7 406.0,319.9 407.6,319.1 409.2,317.5 410.8,318.5 412.4,320.9 414.0,321.3 415.5,322.1 417.0,320.8 418.3,321.3 419.6,324.3 420.8,325.3 422.2,325.2 423.6,326.0 425.0,325.2 426.5,327.2 428.0,329.4 429.5,327.4 431.2,327.9 432.8,328.1 434.3,327.7 435.9,325.7 437.5,326.9 439.1,326.7 440.7,327.0 442.3,326.9 443.9,327.4 445.5,326.4 447.1,329.7 448.6,328.0 450.0,330.9 451.0,332.1 452.0,331.8 453.1,332.6 454.5,333.2 456.0,334.0 457.5,334.8 459.0,335.5 460.5,335.9 462.0,336.5 463.6,337.3 465.1,336.0 466.3,334.6 467.4,333.9 468.4,332.2 469.1,330.4 469.7,329.5 470.2,327.8 470.6,326.4 471.0,325.3 471.5,323.3 471.9,321.5 472.3,320.6 472.8,318.1 473.3,316.8 473.8,316.0 474.3,314.5 474.9,312.5 475.4,310.9 475.9,309.6 476.4,308.1 477.0,306.5 477.5,304.8 478.0,303.1 478.6,301.7 479.2,300.3 479.7,298.8 480.3,297.2 480.8,295.8 481.4,293.9 482.0,293.1 482.5,291.7 483.1,289.7 483.8,288.0 484.5,287.0 485.3,285.7 486.0,284.1 486.8,283.0 487.7,281.2 488.9,280.0 490.4,280.8 491.5,281.4 492.4,282.8 493.3,283.7 494.1,285.5 495.0,286.8 495.9,288.3 496.7,289.9 497.5,291.1 498.3,292.2 499.1,294.2 499.9,295.4 500.6,296.9 501.4,298.2 502.1,299.6 502.8,300.7 503.5,302.1 504.2,303.8 504.8,305.3 505.4,307.0 506.1,307.6 506.7,309.8 507.2,311.2 507.8,313.2 508.4,314.3 509.0,315.8 509.5,317.4 510.1,319.0 510.6,319.9 511.2,321.6 511.7,323.6 512.3,325.1 512.8,326.5 513.3,328.4 513.9,329.2 514.4,331.1 515.0,332.5 515.5,334.2 516.1,335.4 516.7,337.2 517.3,339.3 517.8,340.3 518.4,341.7 519.0,343.5 519.6,344.8 520.2,346.7 520.8,347.4 521.4,348.8 522.0,350.1 522.5,351.9 523.0,353.2 523.5,355.6 524.1,356.7 524.7,358.3 525.5,359.7 526.3,361.0 527.2,362.2 528.3,363.1 529.5,365.0 530.7,365.6 531.9,367.2 533.2,367.9 534.5,368.3 535.9,369.4 537.2,370.3 538.6,371.1 540.0,371.8 541.4,372.7 542.8,373.3 544.3,373.9 545.9,374.4 547.5,374.3 549.1,373.7 550.6,373.3 552.0,372.4 553.4,371.8 554.8,370.9 556.2,370.4 557.7,369.0 559.1,369.2 560.7,368.1 562.2,368.1 563.7,367.1 565.3,366.8 566.8,366.6 568.4,366.0 570.0,365.7 571.6,365.6 573.2,365.9 574.8,365.2 576.4,365.8 578.0,366.5 579.6,366.5 581.1,367.4 582.7,366.9 584.2,367.5 585.8,367.9 587.4,368.1 589.0,368.4 590.6,368.9 592.2,368.7 593.8,369.2 595.4,369.4 597.0,369.5 598.6,370.3 600.2,369.9 601.8,370.7 603.4,370.2 605.0,370.7 606.6,370.9 608.2,370.8 609.8,371.4 611.4,371.7 613.0,371.8 614.6,371.8 616.2,372.3 617.8,372.4 619.4,372.5 621.0,371.8 622.6,372.7 624.2,373.2 625.8,372.9 627.4,372.6 629.0,373.4 630.6,373.7 632.2,373.6 633.8,374.1 635.4,374.5 637.0,374.3 638.6,374.6 640.2,375.3 641.8,375.1 643.4,375.0 645.0,375.6 646.6,375.8 648.2,375.8 649.8,375.9 651.4,375.9 653.0,377.0 654.6,376.2 656.2,376.6 657.8,376.9 659.4,377.2 661.0,377.0" fill="none" stroke="#0000ff" stroke-width="1.9" stroke-linejoin="round"/>
<line x1="489.50" y1="222.50" x2="489.50" y2="351.70" stroke="#000" stroke-width="1.4"/>
<line x1="573.50" y1="352.50" x2="573.50" y2="373.00" stroke="#000" stroke-width="1.4"/>
<rect x="380.30" y="4.00" width="281.20" height="391.70" fill="none" stroke="#000" stroke-width="1.6"/>
<line x1="423.55" y1="395.70" x2="423.55" y2="402.70" stroke="#000" stroke-width="1.5"/>
<line x1="510.05" y1="395.70" x2="510.05" y2="402.70" stroke="#000" stroke-width="1.5"/>
<line x1="596.55" y1="395.70" x2="596.55" y2="402.70" stroke="#000" stroke-width="1.5"/>
<line x1="380.30" y1="395.70" x2="380.30" y2="399.20" stroke="#000" stroke-width="1.5"/>
<line x1="466.80" y1="395.70" x2="466.80" y2="399.20" stroke="#000" stroke-width="1.5"/>
<line x1="553.30" y1="395.70" x2="553.30" y2="399.20" stroke="#000" stroke-width="1.5"/>
<line x1="639.80" y1="395.70" x2="639.80" y2="399.20" stroke="#000" stroke-width="1.5"/>
<line x1="390.10" y1="15.40" x2="390.10" y2="49.80" stroke="#000" stroke-width="1.6"/>
<text x="396.00" y="37.90" font-family='"Liberation Sans", sans-serif' font-weight="bold" font-size="16.20" textLength="51.47" lengthAdjust="spacingAndGlyphs" fill="#000" stroke="#000" stroke-width="0.35">0.0002</text>
<text x="550.30" y="31.50" font-family='"Liberation Sans", sans-serif' font-weight="bold" font-size="20.50" textLength="27.54" lengthAdjust="spacingAndGlyphs" fill="#000" stroke="#000" stroke-width="0.35">(b)</text>
<text x="581.49" y="31.50" font-family='"Liberation Serif", serif' font-weight="normal" font-size="20.50" textLength="10.88" lengthAdjust="spacingAndGlyphs" fill="#000" stroke="#000" stroke-width="0.35">β</text>
<text x="591.93" y="31.50" font-family='"Liberation Sans", sans-serif' font-weight="bold" font-size="19.50" textLength="54.25" lengthAdjust="spacingAndGlyphs" fill="#000" stroke="#000" stroke-width="0.35">-MnO</text>
<text x="647.91" y="38.60" font-family='"Liberation Sans", sans-serif' font-weight="bold" font-size="12.00" textLength="5.74" lengthAdjust="spacingAndGlyphs" fill="#000" stroke="#000" stroke-width="0.35">2</text>
<text x="470.39" y="219.40" font-family='"Liberation Sans", sans-serif' font-weight="bold" font-size="16.00" textLength="36.64" lengthAdjust="spacingAndGlyphs" fill="#000" stroke="#000" stroke-width="0.35">1245</text>
<text x="550.28" y="348.30" font-family='"Liberation Sans", sans-serif' font-weight="bold" font-size="16.00" textLength="36.90" lengthAdjust="spacingAndGlyphs" fill="#000" stroke="#000" stroke-width="0.35">1052</text>
<line x1="617.40" y1="76.50" x2="617.40" y2="109.30" stroke="#000" stroke-width="1.6"/>
<path d="M617.40,68.50 L620.80,78.00 L614.00,78.00 Z" fill="#000"/>
<text x="581.69" y="131.20" font-family='"Liberation Serif", serif' font-weight="bold" font-size="15.80" textLength="75.03" lengthAdjust="spacingAndGlyphs" fill="#000" stroke="#000" stroke-width="0.35">Increasing</text>
<text x="598.83" y="151.50" font-family='"Liberation Serif", serif' font-weight="bold" font-size="15.80" textLength="31.38" lengthAdjust="spacingAndGlyphs" fill="#000" stroke="#000" stroke-width="0.35">time</text>
<text transform="translate(369.12,221.32) rotate(-90)" x="-1.43" y="0" font-family='"Liberation Sans", sans-serif' font-weight="bold" font-size="23.12" textLength="41.59" lengthAdjust="spacingAndGlyphs" fill="#000" stroke="#000" stroke-width="0.35">K-M</text>
<text x="407.20" y="419.20" font-family='"Liberation Sans", sans-serif' font-weight="bold" font-size="14.00" textLength="32.40" lengthAdjust="spacingAndGlyphs" fill="#000" stroke="#000" stroke-width="0.35">1400</text>
<text x="493.70" y="419.20" font-family='"Liberation Sans", sans-serif' font-weight="bold" font-size="14.00" textLength="32.40" lengthAdjust="spacingAndGlyphs" fill="#000" stroke="#000" stroke-width="0.35">1200</text>
<text x="580.20" y="419.20" font-family='"Liberation Sans", sans-serif' font-weight="bold" font-size="14.00" textLength="32.40" lengthAdjust="spacingAndGlyphs" fill="#000" stroke="#000" stroke-width="0.35">1000</text>
<text x="428.28" y="452.50" font-family='"Liberation Sans", sans-serif' font-weight="bold" font-size="20.50" textLength="181.35" lengthAdjust="spacingAndGlyphs" fill="#000" stroke="#000" stroke-width="0.35">Wavenumber / cm</text>
<text x="609.76" y="440.50" font-family='"Liberation Sans", sans-serif' font-weight="bold" font-size="10.50" textLength="9.32" lengthAdjust="spacingAndGlyphs" fill="#000" stroke="#000" stroke-width="0.35">-1</text>
<line x1="28.60" y1="843.00" x2="330.00" y2="843.00" stroke="#888888" stroke-width="1.4"/>
<polyline points="28.6,842.6 30.2,842.6 31.8,842.8 33.4,842.5 35.1,842.9 36.7,842.5 38.3,842.8 39.9,842.8 41.5,843.0 43.1,842.9 44.7,842.8 46.4,843.1 48.0,843.2 49.6,842.9 51.2,843.1 52.8,842.9 54.4,843.1 56.0,843.1 57.7,842.9 59.3,843.1 60.9,842.9 62.5,842.9 64.1,843.0 65.7,842.8 67.3,842.9 69.0,843.1 70.6,843.2 72.2,843.2 73.8,843.0 75.4,843.1 77.0,843.2 78.6,843.1 80.3,842.7 81.9,842.5 83.5,842.8 85.1,842.8 86.7,842.5 88.3,842.4 89.9,841.9 91.3,841.2 92.8,840.6 94.4,840.1 95.9,839.6 97.5,839.5 99.1,839.1 100.7,838.6 102.3,838.6 103.9,838.5 105.5,838.7 107.1,838.4 108.7,838.5 110.4,838.7 112.0,838.7 113.5,838.1 114.6,836.6 115.6,835.7 117.0,835.7 117.9,837.2 119.0,838.2 120.4,839.1 122.1,839.0 123.7,838.9 125.3,838.5 126.9,838.3 128.5,838.2 130.1,838.3 131.7,838.0 133.3,837.9 134.9,838.0 136.5,837.8 138.1,837.6 139.8,837.7 141.4,837.5 143.0,837.6 144.6,838.0 146.2,838.6 147.8,838.7 149.4,839.0 151.0,839.0 152.6,839.1 154.2,839.6 155.8,839.5 157.4,839.5 159.0,840.2 160.5,840.6 162.1,840.8 163.7,841.2 165.3,841.3 167.0,841.3 168.6,841.2 170.2,841.3 171.8,841.1 173.4,841.2 175.0,841.5 176.6,841.1 178.2,841.0 179.9,840.8 181.5,841.2 183.1,840.4 184.7,840.6 186.3,840.9 187.9,840.6 189.5,840.7 191.1,841.0 192.8,841.1 194.4,841.2 196.0,841.0 197.6,841.3 199.2,841.1 200.8,841.2 202.4,841.2 204.1,841.4 205.7,841.3 207.3,841.2 208.9,841.4 210.5,841.2 212.1,841.3 213.7,841.3 215.4,841.3 217.0,841.2 218.6,841.2 220.2,841.6 221.8,841.1 223.4,841.5 225.0,841.3 226.7,841.3 228.3,841.2 229.9,841.4 231.5,841.4 233.1,841.6 234.7,841.4 236.3,841.3 238.0,841.3 239.6,841.6 241.2,841.6 242.8,841.4 244.4,841.7 246.0,841.5 247.7,841.5 249.3,841.6 250.9,841.4 252.5,841.5 254.1,841.4 255.7,841.6 257.3,841.6 259.0,841.5 260.6,841.7 262.2,841.5 263.8,841.6 265.4,841.6 267.0,841.4 268.6,841.7 270.3,841.8 271.9,842.1 273.5,841.6 275.1,841.7 276.7,841.9 278.3,841.5 279.9,841.9 281.6,841.4 283.2,841.5 284.8,841.6 286.4,841.6 288.0,841.8 289.6,841.5 291.2,841.6 292.9,841.6 294.5,841.7 296.1,841.8 297.7,841.8 299.3,841.7 300.9,841.8 302.6,841.7 304.2,841.5 305.8,841.4 307.4,841.8 309.0,841.5 310.6,841.6 312.2,841.8 313.9,841.7 315.5,841.6 317.1,841.6 318.7,841.8 320.3,842.0 321.9,841.5 323.5,841.7 325.2,841.9 326.8,841.8 328.4,841.7 330.0,841.8" fill="none" stroke="#000000" stroke-width="1.9" stroke-linejoin="round"/>
<polyline points="28.6,842.8 30.2,842.4 31.8,843.1 33.4,842.7 35.0,842.7 36.7,842.5 38.3,843.0 39.9,842.5 41.5,842.9 43.1,842.6 44.7,842.8 46.3,842.7 47.9,842.9 49.6,842.9 51.2,842.5 52.8,843.0 54.4,842.9 56.0,843.0 57.6,843.1 59.2,842.3 60.8,843.2 62.5,842.3 64.1,842.7 65.7,843.0 67.3,843.3 68.9,843.4 70.5,843.4 72.1,843.6 73.7,843.4 75.3,843.8 76.9,844.5 78.5,843.4 80.1,844.0 81.7,844.1 83.4,843.8 85.0,843.9 86.6,843.8 88.1,843.4 89.7,842.9 91.1,841.9 92.3,841.3 93.4,839.8 94.2,838.3 94.9,837.6 95.5,835.4 96.0,834.0 96.6,832.1 97.3,831.2 98.1,829.4 99.0,828.2 99.9,827.2 100.9,825.9 101.8,824.3 102.8,823.3 103.8,822.0 104.8,820.6 105.9,819.2 107.0,818.4 108.3,817.0 109.8,816.8 111.2,815.9 112.4,814.5 113.7,813.5 115.2,814.2 116.5,814.0 117.5,815.8 118.3,817.1 118.9,818.8 119.5,820.2 120.3,821.8 121.3,823.0 122.9,822.7 124.2,821.4 125.3,820.5 126.5,819.6 127.6,818.4 128.5,817.3 129.5,815.6 130.5,814.1 131.6,813.2 132.9,812.4 134.3,811.7 135.7,811.0 137.2,810.3 138.8,809.6 140.4,810.0 141.8,811.0 143.1,811.9 144.4,813.1 145.6,813.6 146.9,815.0 148.2,815.2 149.4,816.7 150.7,817.9 151.9,818.8 153.3,820.0 154.7,820.5 156.1,821.2 157.6,822.0 159.2,822.2 160.7,823.2 162.2,823.1 163.8,823.8 165.4,824.0 167.0,824.0 168.6,824.3 170.2,824.3 171.8,824.0 173.4,824.6 175.0,823.6 176.6,823.7 178.3,823.9 179.9,823.6 181.5,823.7 183.1,822.9 184.7,823.1 186.3,823.0 187.9,823.2 189.5,822.7 191.1,823.0 192.7,823.9 194.2,824.1 195.5,825.0 196.8,825.9 197.9,827.3 199.1,827.7 200.3,829.0 201.6,830.0 203.0,831.0 204.5,831.6 206.0,831.7 207.5,832.8 209.0,833.0 210.6,834.4 212.2,834.0 213.7,834.7 215.3,834.6 216.9,835.0 218.5,835.1 220.1,835.7 221.7,836.0 223.3,835.4 224.9,835.9 226.5,835.9 228.1,836.0 229.7,835.4 231.3,835.7 233.0,834.9 234.6,835.1 236.2,834.7 237.8,834.6 239.4,834.9 241.0,834.6 242.6,835.1 244.2,834.2 245.8,833.9 247.4,834.3 249.0,833.9 250.6,833.6 252.2,833.9 253.8,833.9 255.5,833.1 257.1,833.3 258.7,833.6 260.3,833.1 261.9,833.8 263.5,833.4 265.1,833.6 266.7,833.6 268.3,833.3 270.0,833.6 271.6,833.6 273.2,833.8 274.8,834.3 276.4,834.4 278.0,834.3 279.6,834.7 281.2,835.2 282.8,835.1 284.4,835.3 285.9,835.9 287.5,836.0 289.0,836.3 290.5,837.6 292.0,837.5 293.5,838.4 295.0,839.1 296.5,839.6 298.0,840.7 299.5,841.2 301.1,841.2 302.7,841.1 304.3,841.8 305.9,841.5 307.5,842.3 309.1,842.5 310.7,842.5 312.3,842.8 313.9,842.6 315.5,842.4 317.1,842.6 318.7,843.1 320.3,842.3 321.9,843.0 323.6,842.6 325.2,843.5 326.8,842.6 328.4,842.4 330.0,843.2" fill="none" stroke="#808000" stroke-width="1.9" stroke-linejoin="round"/>
<polyline points="28.6,843.0 30.2,842.8 31.8,842.6 33.4,843.0 35.0,843.0 36.7,842.5 38.3,842.7 39.9,842.5 41.5,842.4 43.1,843.2 44.7,842.7 46.3,842.9 47.9,842.8 49.5,842.8 51.1,842.5 52.8,842.5 54.4,842.8 56.0,843.0 57.6,842.3 59.2,842.5 60.8,842.7 62.4,843.0 64.0,843.0 65.6,843.1 67.2,843.1 68.8,842.9 70.4,843.3 72.0,843.8 73.6,843.7 75.2,843.5 76.9,844.2 78.5,844.1 80.1,844.2 81.7,844.6 83.3,843.9 84.9,843.8 86.5,843.2 88.1,843.5 89.6,843.1 91.0,842.2 92.3,841.2 93.3,840.2 94.1,838.7 94.8,837.3 95.4,835.7 96.0,834.2 96.6,832.9 97.2,831.2 98.0,829.7 98.9,828.3 99.8,827.1 100.8,825.9 101.8,824.7 102.8,823.3 103.8,822.0 104.8,820.4 105.9,819.7 107.0,818.2 108.1,817.3 109.4,816.6 110.7,815.3 111.9,814.0 113.0,813.3 114.4,812.2 116.0,811.8 117.5,812.6 118.5,813.7 119.3,815.7 120.6,815.5 121.7,814.6 122.4,813.3 123.1,812.1 123.8,810.2 124.4,809.2 125.0,807.3 125.6,805.6 126.2,804.3 126.9,802.9 127.6,801.4 128.2,799.8 128.9,798.4 129.6,797.3 130.4,795.8 131.2,794.7 132.1,792.7 133.0,791.3 134.0,790.8 134.9,789.1 136.0,787.9 137.1,786.4 138.5,785.9 140.1,785.6 141.5,786.1 142.8,787.4 144.0,788.0 145.2,789.3 146.4,789.9 147.5,791.6 148.5,792.5 149.6,794.4 150.6,794.9 151.7,796.8 153.0,797.1 154.3,797.9 155.7,799.2 157.1,800.0 158.5,800.4 160.0,801.0 161.5,801.3 163.0,802.4 164.6,802.9 166.1,802.6 167.7,803.4 169.3,804.0 170.9,803.4 172.5,804.2 174.1,804.5 175.7,804.5 177.3,805.0 178.8,805.0 180.4,805.7 182.0,806.4 183.5,806.4 185.0,806.9 186.5,807.2 188.0,808.8 189.4,809.5 190.8,809.7 192.2,810.7 193.4,811.7 194.6,813.1 195.7,813.6 196.7,815.4 197.7,816.0 198.5,818.0 199.3,819.1 199.9,821.1 200.5,822.4 201.2,823.6 202.0,825.0 203.0,826.1 204.3,827.7 205.8,828.2 207.3,828.2 208.9,828.2 210.5,828.9 212.1,829.0 213.7,829.2 215.3,829.5 216.9,829.9 218.5,829.8 220.1,830.1 221.7,830.0 223.3,830.2 224.9,830.0 226.5,830.4 228.2,830.2 229.8,830.1 231.4,830.3 233.0,830.2 234.6,830.1 236.2,830.3 237.8,830.3 239.4,829.7 241.0,830.0 242.6,829.9 244.2,829.5 245.8,829.7 247.4,829.3 249.0,829.1 250.6,828.5 252.2,828.4 253.8,828.6 255.4,828.9 257.0,828.2 258.6,827.7 260.3,828.5 261.9,828.3 263.5,828.6 265.1,828.2 266.7,828.7 268.3,828.6 269.9,828.4 271.5,828.8 273.1,829.1 274.7,829.0 276.3,829.8 277.9,829.7 279.4,830.3 281.0,830.4 282.6,831.1 284.1,831.5 285.6,831.5 287.1,832.5 288.5,833.5 289.9,834.0 291.3,835.3 292.7,836.0 294.1,836.3 295.5,837.3 297.0,838.1 298.4,838.5 299.9,839.8 301.3,840.3 302.8,840.7 304.4,841.0 305.9,841.4 307.5,841.7 309.1,842.2 310.7,842.0 312.3,842.6 313.9,843.1 315.5,842.2 317.1,842.5 318.7,843.0 320.3,842.9 322.0,842.6 323.6,842.9 325.2,842.9 326.8,843.1 328.4,842.8 330.0,842.9" fill="none" stroke="#008000" stroke-width="1.9" stroke-linejoin="round"/>
<polyline points="28.6,843.1 30.2,842.6 31.8,842.7 33.4,842.5 35.0,842.5 36.6,842.4 38.3,842.9 39.9,842.9 41.5,842.4 43.1,842.8 44.7,842.9 46.3,843.2 47.9,843.0 49.5,842.8 51.1,842.6 52.7,842.9 54.3,843.1 56.0,843.0 57.6,842.8 59.2,842.8 60.8,842.4 62.4,842.9 64.0,843.2 65.6,842.9 67.2,843.1 68.8,843.5 70.4,843.3 72.0,843.9 73.6,843.7 75.2,844.0 76.8,843.8 78.4,844.1 80.0,844.5 81.6,843.7 83.3,844.4 84.9,843.4 86.5,843.8 88.0,843.6 89.6,842.8 91.0,842.3 92.3,841.6 93.3,840.1 94.1,838.2 94.8,837.4 95.4,836.0 96.0,834.2 96.6,832.7 97.2,831.2 98.0,829.4 98.9,828.4 99.8,827.6 100.8,826.1 101.7,824.8 102.7,823.2 103.7,822.0 104.8,821.0 105.9,819.7 107.0,818.5 108.1,817.2 109.2,816.3 110.4,814.9 111.5,813.9 112.4,812.8 113.4,810.8 114.6,810.5 116.2,810.0 117.8,809.4 118.8,808.5 119.4,807.0 119.8,806.0 120.2,804.4 120.5,803.2 121.0,801.0 121.5,799.5 122.0,798.0 122.5,796.9 123.1,795.1 123.6,793.5 124.1,791.7 124.5,790.9 124.9,788.4 125.4,787.2 125.8,785.7 126.2,784.3 126.6,782.3 127.0,781.4 127.4,779.5 127.8,777.7 128.3,776.2 128.7,774.8 129.2,773.2 129.7,772.0 130.3,770.0 130.9,768.9 131.6,767.8 132.4,766.0 133.1,764.8 134.0,763.4 134.9,761.4 136.0,761.0 137.2,759.6 138.6,759.0 140.1,758.4 141.6,757.8 143.2,757.4 144.8,756.9 146.4,757.3 148.0,757.2 149.6,757.6 151.1,758.2 152.7,758.2 154.2,759.3 155.6,760.1 157.0,760.5 158.3,761.1 159.6,762.9 161.0,763.4 162.5,764.1 164.0,764.5 165.5,764.9 167.0,765.3 168.5,766.1 170.0,766.6 171.5,767.3 172.9,767.9 174.2,769.1 175.6,769.6 176.9,770.4 178.2,771.4 179.5,772.3 180.7,773.9 182.0,774.5 183.2,776.0 184.4,776.9 185.6,778.3 186.8,779.2 187.8,780.4 188.8,781.4 189.7,782.4 190.6,784.4 191.3,785.9 192.0,787.0 192.7,788.4 193.3,789.9 193.9,791.3 194.5,793.3 195.1,794.5 195.6,796.2 196.1,797.7 196.5,798.9 196.9,801.2 197.3,802.2 197.8,803.6 198.3,805.7 198.9,807.0 199.7,808.1 200.5,809.4 201.3,810.6 202.2,812.1 203.1,813.8 204.0,814.8 205.0,816.5 206.1,817.3 207.3,818.7 208.6,819.3 210.0,820.3 211.5,820.9 213.0,821.3 214.6,821.5 216.2,821.5 217.8,821.7 219.4,822.4 221.0,822.2 222.6,823.0 224.1,823.5 225.6,823.9 227.0,824.7 228.5,825.2 230.0,825.6 231.5,826.1 233.1,826.3 234.7,826.5 236.3,827.3 237.9,826.8 239.5,826.7 241.1,826.7 242.7,825.6 244.3,826.1 245.9,825.8 247.5,825.5 249.1,825.1 250.7,824.9 252.2,825.0 253.8,824.9 255.5,824.6 257.1,824.4 258.7,824.4 260.3,824.3 261.9,824.1 263.5,824.4 265.1,824.2 266.7,824.0 268.3,824.5 269.9,824.6 271.5,824.9 273.1,825.2 274.6,825.3 276.2,826.0 277.7,826.6 279.2,827.0 280.6,828.2 282.0,829.1 283.4,829.6 284.8,830.4 286.2,831.2 287.6,832.1 289.0,832.6 290.3,833.8 291.6,834.6 293.0,835.3 294.3,836.5 295.6,837.1 297.0,838.1 298.5,839.1 299.9,840.1 301.3,840.2 302.8,840.7 304.4,841.8 305.9,841.6 307.5,842.2 309.1,842.3 310.7,842.5 312.3,842.5 313.9,842.4 315.5,842.9 317.1,842.8 318.7,842.6 320.3,843.0 322.0,842.8 323.6,843.5 325.2,843.1 326.8,842.8 328.4,843.0 330.0,842.8" fill="none" stroke="#800000" stroke-width="1.9" stroke-linejoin="round"/>
<polyline points="28.6,842.9 30.2,843.1 31.8,842.6 33.4,842.6 35.0,842.5 36.6,842.7 38.3,842.6 39.9,843.2 41.5,842.3 43.1,843.0 44.7,842.5 46.3,842.7 47.9,843.3 49.5,842.4 51.1,842.8 52.7,842.4 54.3,843.0 56.0,842.5 57.6,843.0 59.2,842.6 60.8,843.3 62.4,842.1 64.0,843.5 65.6,843.1 67.2,842.7 68.8,842.7 70.4,843.5 72.0,843.4 73.6,843.5 75.2,844.3 76.8,843.9 78.4,843.5 80.0,844.5 81.6,844.2 83.2,844.2 84.9,844.1 86.5,843.8 88.0,843.3 89.6,843.1 91.0,841.8 92.3,841.3 93.3,839.6 94.1,838.7 94.8,837.0 95.4,835.8 96.0,834.1 96.6,832.7 97.2,831.1 98.0,829.9 98.9,829.0 99.8,827.5 100.8,826.3 101.7,824.4 102.7,823.7 103.7,822.4 104.8,820.8 105.9,819.5 106.9,818.5 108.1,817.3 109.2,816.5 110.4,815.3 111.5,813.9 112.6,812.3 113.6,811.6 114.5,809.9 115.4,808.9 116.3,807.6 117.0,806.2 117.5,804.7 118.0,802.8 118.4,801.4 118.8,799.4 119.2,798.5 119.6,797.0 120.0,795.2 120.4,793.4 120.7,792.2 121.1,790.4 121.5,788.9 121.9,787.9 122.3,785.8 122.7,784.0 123.1,782.8 123.4,781.1 123.8,779.2 124.2,778.0 124.6,776.7 125.0,774.7 125.5,773.6 125.9,771.6 126.3,769.8 126.7,768.7 127.1,766.8 127.5,765.7 128.0,763.7 128.4,762.3 128.8,760.7 129.3,759.3 129.7,757.9 130.2,756.2 130.6,754.3 131.1,753.4 131.5,751.8 132.0,749.6 132.5,748.8 132.9,746.9 133.4,745.5 133.9,744.1 134.4,742.8 134.8,740.9 135.3,739.3 135.8,737.9 136.3,736.4 136.8,734.4 137.2,733.1 137.7,731.6 138.2,730.0 138.7,728.6 139.2,727.1 139.7,725.6 140.2,724.3 140.7,722.4 141.2,721.1 141.7,719.5 142.2,718.4 142.7,717.0 143.2,714.8 143.8,713.4 144.3,711.8 144.9,710.4 145.5,708.8 146.0,707.2 146.6,705.6 147.3,704.3 148.0,702.4 148.8,701.9 149.7,700.0 150.6,698.5 151.8,698.0 153.1,696.8 154.6,696.8 156.2,695.8 157.8,696.1 159.4,695.8 161.0,696.1 162.6,696.0 164.2,696.5 165.7,696.8 167.2,697.6 168.6,698.9 169.9,699.4 171.2,700.6 172.4,701.3 173.5,702.8 174.6,703.5 175.5,704.9 176.4,706.7 177.2,707.8 178.0,708.7 178.8,710.5 179.6,711.8 180.4,713.6 181.1,714.9 181.8,716.5 182.4,717.8 183.1,719.0 183.7,720.2 184.4,721.9 185.0,723.4 185.6,724.4 186.3,726.8 186.9,727.7 187.5,729.8 188.1,731.2 188.6,733.1 189.2,734.2 189.8,735.5 190.3,737.1 190.8,738.9 191.3,740.7 191.8,741.6 192.2,743.7 192.6,745.3 193.0,746.1 193.3,747.5 193.6,749.1 193.9,751.1 194.2,753.2 194.5,754.2 194.8,755.5 195.0,757.9 195.3,758.5 195.6,760.4 195.9,762.5 196.2,764.0 196.5,765.1 196.8,767.3 197.1,768.5 197.3,770.4 197.6,772.0 197.9,773.7 198.3,775.2 198.6,776.2 199.0,777.9 199.3,779.6 199.7,781.0 200.1,782.7 200.5,784.3 201.0,786.1 201.4,787.8 201.9,788.9 202.4,790.6 203.0,791.3 203.5,793.3 204.1,795.0 204.7,796.5 205.3,797.9 206.0,799.5 206.8,800.6 207.7,801.9 208.8,803.3 209.9,804.8 211.1,805.6 212.3,806.3 213.7,807.1 215.1,808.2 216.6,808.8 218.1,808.6 219.6,808.2 221.2,808.1 222.8,808.1 224.2,809.0 225.5,809.5 226.8,811.0 228.0,811.9 229.3,812.8 230.6,813.4 232.0,814.1 233.5,814.8 235.0,815.5 236.5,815.5 238.1,815.9 239.6,816.5 241.2,817.2 242.8,817.4 244.4,818.0 246.0,817.6 247.6,817.7 249.2,818.1 250.8,818.0 252.4,818.3 254.0,817.9 255.6,817.8 257.2,817.6 258.8,817.7 260.5,817.6 262.1,817.6 263.7,817.9 265.2,818.0 266.8,818.3 268.4,818.7 270.0,819.4 271.6,819.5 273.1,820.1 274.6,820.3 276.1,820.6 277.6,821.7 279.0,822.0 280.3,822.9 281.5,824.3 282.7,824.8 283.7,826.4 284.8,827.7 285.8,829.6 286.9,830.4 288.1,831.3 289.3,832.0 290.5,833.8 291.8,834.3 293.1,834.9 294.4,836.8 295.7,837.4 297.1,838.1 298.5,839.2 299.9,839.7 301.4,840.6 302.8,841.0 304.4,841.8 305.9,842.2 307.5,842.2 309.1,842.1 310.7,842.4 312.3,843.1 313.9,842.3 315.5,842.9 317.1,842.7 318.7,842.9 320.3,842.9 322.0,843.1 323.6,843.0 325.2,843.3 326.8,843.0 328.4,842.8 330.0,842.8" fill="none" stroke="#ff00ff" stroke-width="1.9" stroke-linejoin="round"/>
<polyline points="28.6,842.8 30.2,842.3 31.8,843.0 33.4,843.0 35.0,842.7 36.6,842.9 38.2,842.8 39.8,842.3 41.5,842.6 43.1,842.9 44.7,842.8 46.3,842.4 47.9,843.0 49.5,842.5 51.1,842.5 52.7,842.5 54.3,842.6 55.9,843.4 57.5,842.8 59.1,843.2 60.7,842.7 62.3,842.8 63.9,842.6 65.5,843.2 67.1,843.4 68.8,843.3 70.4,843.5 72.0,843.5 73.6,843.7 75.2,844.0 76.8,844.1 78.4,843.7 80.0,843.9 81.6,844.0 83.2,843.6 84.8,844.3 86.4,844.1 88.0,843.5 89.5,843.0 90.9,842.1 92.2,841.4 93.2,840.2 94.1,838.6 94.8,837.2 95.4,836.0 96.0,834.1 96.5,832.8 97.2,831.0 97.9,829.9 98.8,828.4 99.8,827.2 100.7,825.9 101.7,824.8 102.7,823.2 103.7,822.2 104.7,821.1 105.8,819.8 106.9,818.0 108.0,817.5 109.1,816.3 110.3,815.0 111.4,813.8 112.6,812.8 113.6,812.2 114.4,809.9 115.0,808.6 115.4,807.2 115.8,806.0 116.1,804.0 116.5,803.0 116.8,800.9 117.1,799.3 117.5,797.8 117.8,796.3 118.2,795.1 118.5,792.9 118.8,791.5 119.1,790.1 119.5,788.4 119.8,786.8 120.1,785.6 120.4,783.5 120.8,781.9 121.1,780.3 121.4,779.2 121.8,777.1 122.1,775.8 122.5,773.9 122.8,772.9 123.2,771.2 123.5,769.5 123.9,768.3 124.2,766.8 124.5,764.9 124.8,763.8 125.2,761.9 125.5,760.5 125.8,758.7 126.1,757.0 126.4,755.2 126.7,753.8 126.9,752.0 127.2,750.4 127.5,749.0 127.7,747.0 128.0,746.3 128.3,744.3 128.6,742.3 128.8,740.8 129.1,739.4 129.4,737.9 129.6,736.5 129.9,734.7 130.2,733.4 130.5,731.7 130.8,729.9 131.1,728.3 131.3,726.8 131.6,725.3 131.9,723.7 132.2,721.6 132.5,720.5 132.8,718.6 133.1,717.9 133.3,715.9 133.6,714.3 133.9,712.3 134.2,710.7 134.5,709.6 134.8,708.0 135.1,706.1 135.4,704.6 135.7,703.4 136.0,701.6 136.3,699.7 136.6,698.2 137.0,696.8 137.3,695.2 137.6,693.7 138.0,691.9 138.3,690.7 138.7,689.2 139.0,687.6 139.4,685.7 139.8,684.4 140.2,682.5 140.5,681.6 140.9,679.6 141.3,678.1 141.7,676.3 142.1,675.5 142.5,673.6 142.8,671.8 143.2,670.1 143.6,669.0 144.0,667.0 144.3,665.4 144.7,663.9 145.0,662.8 145.4,660.7 145.7,659.2 146.0,657.9 146.3,655.9 146.5,655.0 146.8,652.9 147.0,651.6 147.3,650.0 147.5,648.1 147.7,646.3 147.9,645.1 148.1,643.2 148.4,641.9 148.6,640.5 148.8,638.5 149.1,637.4 149.3,635.6 149.6,633.5 149.9,632.6 150.3,630.9 150.7,629.2 151.2,627.7 151.7,626.7 152.3,624.6 152.9,623.3 153.6,622.2 154.4,620.3 155.2,618.9 156.0,617.6 157.0,616.2 158.3,615.3 159.8,614.7 161.4,614.7 163.0,614.7 164.5,614.6 166.0,615.5 167.2,616.8 168.2,618.1 169.2,619.4 170.0,620.2 170.8,621.5 171.6,623.5 172.3,624.3 172.8,626.2 173.4,627.9 173.8,629.2 174.3,631.0 174.7,632.2 175.0,634.0 175.4,635.7 175.8,637.7 176.1,638.7 176.5,639.6 176.8,641.8 177.1,643.1 177.4,645.3 177.7,646.5 177.9,647.9 178.2,649.4 178.5,651.4 178.8,652.8 179.1,654.5 179.4,656.0 179.7,657.6 180.0,659.3 180.3,660.9 180.7,662.1 181.0,664.1 181.4,664.7 181.7,666.6 182.1,668.5 182.5,670.2 182.9,671.8 183.2,673.2 183.6,675.1 184.0,676.1 184.4,678.0 184.7,679.4 185.1,681.1 185.5,682.7 185.9,684.6 186.3,685.5 186.6,687.2 187.0,688.6 187.4,690.4 187.8,692.2 188.1,693.9 188.5,695.2 188.9,696.7 189.2,698.5 189.6,699.9 189.9,701.0 190.3,702.9 190.6,705.1 190.9,706.3 191.3,707.6 191.6,709.7 192.0,710.8 192.3,712.5 192.6,714.3 192.9,715.5 193.3,717.4 193.6,718.6 193.9,720.3 194.3,721.9 194.6,722.9 194.9,725.3 195.3,726.4 195.6,728.2 195.9,729.4 196.3,731.1 196.6,732.6 196.9,734.4 197.3,735.7 197.6,737.4 198.0,738.9 198.3,740.3 198.7,741.9 199.0,743.9 199.4,745.3 199.7,747.0 200.0,748.8 200.4,750.0 200.7,752.0 201.1,752.9 201.4,754.8 201.7,755.6 202.0,757.5 202.3,760.0 202.5,761.0 202.8,762.9 203.1,763.8 203.3,765.7 203.6,767.7 203.8,768.9 204.1,770.6 204.4,772.5 204.7,773.7 205.0,775.1 205.4,776.9 205.8,778.3 206.2,780.3 206.7,781.5 207.2,783.0 207.9,784.8 208.6,786.1 209.4,787.2 210.4,788.6 211.4,789.8 212.6,790.9 213.9,791.7 215.3,792.7 216.9,792.5 218.5,792.4 220.1,792.7 221.7,793.0 223.1,793.6 224.2,795.1 225.1,796.3 226.0,797.4 226.8,799.3 227.7,800.2 228.6,801.9 229.7,803.1 230.8,804.2 232.0,805.4 233.3,806.4 234.5,807.0 235.8,808.7 237.1,808.7 238.5,809.6 239.9,810.6 241.3,811.5 242.8,812.4 244.4,812.5 246.0,812.5 247.6,812.0 249.2,812.0 250.8,812.3 252.4,811.7 254.0,812.1 255.5,812.3 257.0,812.7 258.5,814.3 259.9,814.9 261.3,815.4 262.6,815.9 264.0,816.8 265.4,817.6 266.9,818.7 268.4,819.1 269.9,819.7 271.5,819.9 273.0,820.7 274.6,821.1 276.1,820.9 277.7,821.5 279.1,822.5 280.4,823.2 281.6,824.2 282.7,825.0 283.7,826.7 284.8,827.5 285.8,829.1 286.9,830.3 288.1,831.7 289.4,832.7 290.6,833.5 291.8,834.2 293.1,835.7 294.4,836.5 295.8,837.2 297.2,838.1 298.5,838.8 299.9,839.9 301.4,840.6 302.9,840.9 304.4,841.5 306.0,841.6 307.5,842.2 309.1,842.1 310.7,842.2 312.3,842.6 313.9,842.9 315.5,842.8 317.1,843.0 318.8,843.3 320.4,842.7 322.0,843.2 323.6,843.4 325.2,842.6 326.8,842.9 328.4,842.7 330.0,843.0" fill="none" stroke="#0000ff" stroke-width="1.9" stroke-linejoin="round"/>
<polyline points="28.6,843.1 30.2,842.7 31.8,842.9 33.4,842.9 35.0,842.8 36.6,842.8 38.2,842.7 39.8,842.8 41.4,843.0 43.0,843.1 44.7,842.9 46.3,842.9 47.9,842.6 49.5,842.5 51.1,843.0 52.7,842.6 54.3,842.7 55.9,842.6 57.5,842.7 59.1,842.6 60.7,842.6 62.3,842.9 63.9,842.9 65.5,842.8 67.1,843.1 68.7,842.9 70.3,843.4 71.9,842.8 73.5,843.8 75.1,843.5 76.7,843.8 78.3,844.4 79.9,844.7 81.5,844.0 83.1,844.1 84.7,844.1 86.3,843.6 87.9,843.9 89.4,843.1 90.9,842.4 92.2,841.6 93.2,839.9 94.1,839.1 94.8,837.4 95.4,835.9 95.9,834.6 96.5,832.5 97.1,831.5 97.9,830.4 98.8,828.9 99.7,827.6 100.7,826.2 101.6,824.7 102.6,823.6 103.6,822.4 104.7,821.1 105.7,819.5 106.8,819.2 107.9,817.5 109.1,816.3 110.3,815.1 111.4,813.9 112.5,813.0 113.6,811.7 114.4,810.5 114.9,808.8 115.3,807.0 115.7,805.7 115.9,804.1 116.2,802.3 116.5,801.0 116.7,799.0 117.0,797.6 117.4,796.4 117.7,794.7 118.0,793.4 118.3,791.8 118.6,790.2 118.9,788.3 119.2,787.0 119.5,785.2 119.8,783.8 120.1,782.1 120.4,780.6 120.7,778.7 120.9,777.3 121.2,776.1 121.5,773.7 121.8,772.2 122.1,771.1 122.3,769.5 122.6,768.0 122.9,766.5 123.2,764.9 123.4,763.1 123.7,761.6 124.0,760.0 124.2,758.2 124.5,756.5 124.7,754.9 125.0,753.3 125.2,752.2 125.5,750.7 125.7,749.2 126.0,747.4 126.2,745.8 126.4,744.3 126.7,742.5 126.9,740.8 127.1,739.4 127.3,737.8 127.5,735.6 127.7,734.2 127.9,733.0 128.1,731.4 128.3,729.8 128.4,727.9 128.6,726.7 128.8,724.8 129.0,723.6 129.2,722.0 129.3,720.4 129.5,718.1 129.7,717.4 129.8,715.4 130.0,714.3 130.2,712.2 130.4,710.7 130.5,709.0 130.7,707.3 130.9,705.9 131.0,704.3 131.2,702.4 131.4,701.0 131.6,700.0 131.8,698.3 131.9,696.3 132.1,694.8 132.3,692.6 132.5,691.4 132.7,690.1 132.9,688.4 133.1,686.7 133.3,685.2 133.6,683.9 133.8,681.9 134.0,680.0 134.2,678.7 134.4,677.2 134.7,675.5 134.9,673.8 135.1,672.8 135.4,670.3 135.6,668.9 135.8,667.4 136.1,666.3 136.3,664.5 136.6,662.6 136.8,661.4 137.1,659.0 137.3,658.3 137.5,656.5 137.8,655.0 138.0,653.0 138.3,651.7 138.5,650.3 138.8,648.6 139.1,647.1 139.3,645.3 139.6,644.1 139.8,642.3 140.1,640.7 140.4,639.3 140.7,637.5 140.9,635.9 141.2,633.9 141.5,631.9 141.8,631.0 142.1,629.6 142.4,627.9 142.7,626.0 143.0,624.7 143.3,623.5 143.6,621.7 144.0,619.8 144.3,618.4 144.6,617.4 144.9,615.5 145.2,614.0 145.5,612.0 145.7,610.6 146.0,609.0 146.3,607.7 146.5,605.8 146.8,604.0 147.0,603.1 147.2,601.3 147.4,599.9 147.7,598.8 147.9,596.2 148.1,594.2 148.3,592.9 148.5,592.1 148.7,590.2 149.0,588.3 149.2,587.0 149.5,585.2 149.8,583.3 150.1,581.7 150.4,580.6 150.7,578.9 151.0,577.4 151.3,575.9 151.6,574.3 151.9,572.8 152.3,571.0 152.7,569.8 153.1,567.9 153.5,566.4 154.0,565.2 154.7,563.1 155.3,562.1 156.1,560.5 157.1,558.8 158.3,558.5 159.9,558.0 161.5,557.6 163.0,558.0 164.5,559.0 165.9,559.7 167.0,560.5 167.9,562.2 168.7,563.6 169.4,564.6 170.0,566.4 170.5,567.9 171.0,569.4 171.4,570.9 171.9,572.6 172.3,574.6 172.7,575.5 173.1,577.2 173.5,578.7 173.9,580.0 174.2,582.0 174.6,583.5 175.0,585.2 175.4,586.6 175.8,588.4 176.1,589.8 176.5,591.4 176.9,592.9 177.2,594.2 177.5,596.0 177.9,597.2 178.2,599.0 178.5,600.1 178.8,602.1 179.1,604.0 179.5,605.1 179.8,607.0 180.1,608.7 180.4,610.6 180.7,611.2 181.0,613.5 181.3,615.1 181.6,616.4 181.9,617.6 182.2,619.6 182.5,620.8 182.8,622.8 183.1,624.2 183.4,626.2 183.7,627.2 184.0,628.5 184.3,630.3 184.6,631.7 184.9,633.5 185.2,635.4 185.5,637.4 185.8,638.5 186.1,640.1 186.4,641.6 186.7,643.1 187.0,644.7 187.3,646.8 187.5,647.9 187.8,649.9 188.1,651.4 188.4,652.4 188.7,654.3 188.9,655.7 189.2,657.2 189.5,659.2 189.7,660.4 190.0,662.4 190.2,663.5 190.5,665.3 190.8,666.4 191.0,668.3 191.2,670.3 191.5,671.8 191.7,672.9 192.0,674.5 192.2,676.6 192.4,678.1 192.7,679.9 192.9,680.8 193.1,682.7 193.4,684.4 193.6,686.5 193.8,687.9 194.0,689.0 194.3,690.6 194.5,692.3 194.7,693.7 195.0,695.8 195.2,697.2 195.4,699.1 195.7,700.6 195.9,702.2 196.1,703.2 196.4,705.0 196.6,707.0 196.9,708.1 197.1,709.9 197.4,711.1 197.6,713.5 197.9,714.9 198.1,716.1 198.4,717.7 198.6,719.2 198.9,720.7 199.1,722.5 199.4,724.1 199.6,726.1 199.9,727.1 200.1,728.6 200.4,730.4 200.6,731.8 200.8,733.0 201.0,735.2 201.2,736.9 201.4,738.3 201.5,740.2 201.7,741.5 201.9,743.3 202.1,744.7 202.3,746.3 202.5,747.7 202.7,749.8 202.9,751.5 203.2,752.4 203.4,754.2 203.7,756.0 204.0,757.3 204.3,758.7 204.6,761.0 205.0,761.8 205.4,764.2 205.9,764.9 206.4,766.7 206.9,768.4 207.4,769.5 208.0,771.5 208.6,772.6 209.4,774.0 210.2,775.4 211.2,777.3 212.4,778.0 213.8,778.8 215.4,778.7 217.0,779.3 218.6,779.1 220.2,779.2 221.6,780.4 222.7,781.7 223.7,782.8 224.6,784.5 225.4,785.2 226.2,786.8 227.0,788.1 227.8,789.7 228.8,791.1 229.7,792.3 230.6,793.1 231.5,795.2 232.4,795.8 233.3,797.7 234.2,798.9 235.1,800.1 236.1,801.6 237.0,802.8 238.0,804.0 239.1,805.5 240.2,806.2 241.3,807.8 242.6,808.6 244.0,809.0 245.6,809.7 247.2,809.3 248.8,809.3 250.4,809.3 252.0,809.1 253.6,809.8 255.1,811.0 256.5,811.0 257.9,811.7 259.2,812.8 260.5,813.6 261.7,815.1 263.0,815.9 264.3,816.6 265.6,817.9 267.0,818.3 268.4,818.7 269.9,819.6 271.5,820.3 273.0,820.8 274.6,820.7 276.2,821.1 277.7,821.8 279.1,822.5 280.4,823.3 281.6,824.4 282.7,825.5 283.8,826.5 284.8,827.9 285.9,828.9 287.0,830.7 288.2,831.1 289.4,832.3 290.6,833.4 291.9,834.9 293.2,835.5 294.5,836.1 295.8,837.6 297.2,838.0 298.6,839.0 300.0,839.5 301.4,840.6 302.9,841.3 304.4,841.3 306.0,841.8 307.6,842.0 309.1,842.3 310.7,842.4 312.3,842.8 314.0,843.2 315.6,843.0 317.2,842.8 318.8,842.6 320.4,843.4 322.0,843.2 323.6,842.9 325.2,843.3 326.8,843.0 328.4,842.6 330.0,843.0" fill="none" stroke="#ff0000" stroke-width="1.9" stroke-linejoin="round"/>
<polyline points="28.6,842.9 30.2,843.2 31.8,842.7 33.4,842.5 35.0,842.8 36.6,843.2 38.2,842.9 39.8,842.7 41.4,842.6 43.0,842.6 44.6,842.8 46.2,842.1 47.8,842.6 49.5,842.3 51.1,842.8 52.7,843.0 54.3,842.6 55.9,842.7 57.5,842.6 59.1,842.8 60.7,842.7 62.3,842.5 63.9,842.8 65.5,843.0 67.1,843.2 68.7,843.3 70.3,843.1 71.9,843.6 73.5,843.6 75.1,843.7 76.7,843.7 78.3,844.0 79.9,844.3 81.5,844.4 83.1,843.7 84.7,844.2 86.3,843.7 87.9,843.6 89.4,843.1 90.8,842.6 92.1,841.3 93.2,840.3 94.0,838.9 94.7,837.2 95.4,836.2 95.9,834.5 96.5,832.7 97.1,831.7 97.9,830.0 98.8,829.1 99.7,827.4 100.6,826.1 101.6,825.1 102.6,823.9 103.6,822.6 104.6,820.9 105.7,820.0 106.8,818.1 107.9,817.6 109.0,815.9 110.2,815.5 111.3,814.1 112.5,812.7 113.5,812.1 114.3,810.5 114.9,809.0 115.3,807.6 115.7,806.0 116.0,804.3 116.2,802.7 116.5,801.5 116.7,799.1 117.0,797.6 117.3,796.2 117.5,794.8 117.7,793.2 117.9,792.0 118.1,789.6 118.3,788.3 118.5,786.8 118.7,785.4 118.9,783.4 119.1,782.0 119.3,780.1 119.5,779.0 119.7,777.3 119.9,774.9 120.1,774.2 120.4,772.4 120.7,770.7 120.9,769.4 121.2,768.1 121.5,766.0 121.8,764.1 122.1,763.3 122.4,762.0 122.6,759.8 122.9,758.2 123.1,756.7 123.3,754.9 123.5,753.5 123.7,751.9 123.9,750.7 124.0,748.5 124.2,747.3 124.3,745.6 124.4,744.1 124.6,742.3 124.7,740.7 124.9,739.7 125.0,737.7 125.2,735.8 125.3,734.0 125.5,732.6 125.7,730.9 125.9,729.4 126.1,727.7 126.2,726.3 126.4,724.9 126.6,723.5 126.8,721.8 127.0,720.2 127.2,718.5 127.5,717.2 127.7,715.2 127.9,713.6 128.1,712.3 128.3,710.4 128.5,708.8 128.7,707.2 128.9,705.7 129.1,704.3 129.3,702.1 129.5,700.9 129.7,699.2 129.9,697.6 130.1,696.4 130.3,694.6 130.5,693.3 130.7,691.4 130.9,689.9 131.1,687.9 131.3,686.6 131.5,685.2 131.7,683.9 131.9,681.7 132.1,680.2 132.3,678.2 132.5,677.0 132.7,675.5 132.8,673.8 133.0,672.8 133.2,670.7 133.4,669.4 133.6,667.3 133.8,665.7 134.0,664.8 134.2,662.7 134.4,660.9 134.6,659.9 134.8,657.7 135.0,656.1 135.2,654.8 135.4,653.0 135.6,651.2 135.8,650.0 136.1,648.1 136.3,646.8 136.5,645.0 136.8,643.8 137.0,643.0 137.2,640.3 137.5,638.7 137.8,636.6 138.0,635.7 138.3,633.8 138.6,632.8 138.8,631.1 139.1,629.1 139.3,628.0 139.6,626.1 139.8,625.1 140.1,623.0 140.3,621.8 140.5,619.3 140.7,617.8 140.9,616.3 141.1,615.1 141.2,614.1 141.4,612.4 141.5,610.0 141.7,608.4 141.8,607.0 142.0,605.3 142.1,604.0 142.3,602.2 142.4,600.3 142.6,599.2 142.8,597.6 142.9,596.0 143.1,594.7 143.3,592.7 143.4,591.1 143.6,589.3 143.8,587.9 143.9,586.2 144.1,584.6 144.3,583.1 144.5,581.2 144.6,580.3 144.8,578.6 145.0,576.8 145.2,575.2 145.4,573.5 145.6,572.0 145.8,570.2 145.9,568.7 146.1,567.2 146.4,565.9 146.6,563.8 146.8,562.8 147.0,560.8 147.2,559.2 147.4,557.9 147.6,556.3 147.8,554.4 148.1,552.7 148.3,550.7 148.5,549.7 148.7,548.3 148.9,546.5 149.2,545.1 149.4,544.2 149.7,541.9 149.9,540.2 150.2,538.8 150.4,537.0 150.7,535.5 151.0,533.5 151.3,532.6 151.7,530.9 152.0,529.2 152.4,527.5 152.8,526.0 153.2,524.3 153.6,523.3 154.1,521.5 154.6,520.1 155.2,518.4 156.0,516.9 156.8,516.0 157.7,514.7 158.8,512.8 159.9,511.7 161.4,511.5 163.0,511.9 164.4,512.7 165.6,513.4 166.7,514.6 167.6,516.1 168.4,517.9 169.1,518.9 169.7,520.7 170.3,521.9 170.9,523.0 171.4,525.1 171.9,526.5 172.3,528.2 172.7,529.1 173.1,531.1 173.5,532.6 173.8,534.3 174.2,535.6 174.5,537.7 174.8,538.9 175.1,540.5 175.4,542.0 175.6,543.6 175.9,545.2 176.2,546.9 176.4,548.8 176.7,550.0 176.9,551.8 177.2,553.2 177.5,554.9 177.7,556.2 178.0,558.0 178.2,559.8 178.5,561.7 178.7,562.6 179.0,564.0 179.3,565.9 179.5,566.9 179.8,569.1 180.0,570.4 180.3,571.8 180.5,573.8 180.7,575.3 181.0,577.2 181.2,578.3 181.4,580.2 181.7,581.6 181.9,583.0 182.1,585.2 182.3,586.5 182.6,587.9 182.8,589.9 183.0,591.0 183.2,593.1 183.4,594.3 183.7,595.7 183.9,597.9 184.1,599.4 184.4,601.1 184.6,602.3 184.8,603.5 185.1,605.3 185.3,607.1 185.5,608.7 185.8,610.0 186.0,611.9 186.2,613.1 186.4,615.1 186.6,616.7 186.9,618.1 187.1,619.7 187.3,621.6 187.5,622.8 187.7,624.5 187.9,626.1 188.1,627.8 188.3,629.5 188.5,631.0 188.6,632.5 188.8,634.4 189.0,635.5 189.2,637.4 189.4,638.9 189.6,640.6 189.8,641.6 190.0,643.7 190.1,645.2 190.3,646.6 190.5,648.5 190.7,650.3 190.9,651.4 191.1,652.9 191.3,654.9 191.5,656.4 191.7,657.9 192.0,659.3 192.2,661.3 192.4,663.2 192.6,664.4 192.9,666.3 193.1,667.2 193.3,669.4 193.6,671.2 193.8,672.2 194.1,673.6 194.3,675.3 194.6,676.6 194.8,678.6 195.1,679.9 195.3,681.8 195.6,683.4 195.8,685.4 196.1,686.9 196.3,687.9 196.6,689.7 196.8,690.9 197.1,692.9 197.3,694.5 197.5,695.9 197.8,697.5 198.0,699.0 198.2,700.8 198.4,703.0 198.7,704.1 198.9,705.5 199.1,707.3 199.3,709.0 199.4,710.6 199.6,712.1 199.8,713.5 199.9,715.1 200.1,716.4 200.2,718.1 200.4,719.8 200.5,721.3 200.7,722.9 200.8,724.8 200.9,726.6 201.1,727.8 201.2,729.7 201.4,731.1 201.6,732.9 201.7,734.0 201.9,736.2 202.1,737.6 202.4,739.3 202.6,740.6 202.9,742.5 203.1,743.9 203.4,745.2 203.6,746.7 203.9,749.1 204.2,750.1 204.5,751.8 204.8,753.4 205.2,755.2 205.6,756.6 206.0,757.4 206.5,759.6 207.1,760.6 207.7,762.8 208.4,764.4 209.2,765.2 210.1,766.2 211.2,767.8 212.5,768.8 214.0,769.4 215.5,769.4 217.0,770.1 218.6,770.5 220.0,771.5 221.3,772.8 222.3,773.5 223.1,775.2 223.8,776.5 224.5,777.9 225.2,779.6 225.9,780.8 226.7,781.9 227.5,783.1 228.3,785.2 229.0,786.3 229.8,787.8 230.5,789.0 231.2,790.6 232.0,791.9 232.7,793.7 233.5,794.9 234.3,796.4 235.1,797.9 235.9,798.9 236.7,800.6 237.6,801.5 238.6,802.9 239.6,804.2 240.7,806.0 242.0,806.5 243.4,807.3 244.9,807.3 246.5,807.8 248.1,807.5 249.7,807.8 251.3,807.3 252.8,808.2 254.2,808.5 255.4,810.3 256.5,811.2 257.7,812.2 258.9,813.2 260.2,814.6 261.5,815.3 262.8,816.2 264.2,817.1 265.6,818.1 267.0,818.3 268.5,819.6 270.0,819.8 271.5,819.7 273.1,820.4 274.7,820.8 276.2,821.0 277.7,822.0 279.2,822.6 280.4,823.5 281.6,824.8 282.7,825.5 283.8,826.7 284.8,827.8 285.9,829.2 287.0,829.9 288.2,830.9 289.4,832.8 290.6,833.2 291.9,834.7 293.2,835.4 294.5,836.3 295.8,837.5 297.2,838.1 298.6,838.9 300.0,839.7 301.4,840.6 302.9,841.0 304.4,841.5 306.0,842.6 307.6,842.3 309.2,842.5 310.8,841.9 312.4,842.8 314.0,842.9 315.6,842.2 317.2,842.9 318.8,843.1 320.4,842.8 322.0,842.8 323.6,843.0 325.2,843.1 326.8,842.9 328.4,843.1 330.0,843.2" fill="none" stroke="#000000" stroke-width="1.9" stroke-linejoin="round"/>
<polyline points="28.6,842.9 30.3,843.0 31.9,843.1 33.6,842.7 35.2,843.0 36.9,842.9 38.5,843.0 40.2,843.0 41.8,843.0 43.5,842.8 45.1,842.9 46.8,842.8 48.4,842.7 50.1,842.9 51.7,842.9 53.4,842.7 55.0,842.9 56.7,842.9 58.3,843.0 60.0,842.8 61.6,842.8 63.3,842.9 64.9,842.7 66.6,842.9 68.2,842.8 69.9,842.6 71.5,842.9 73.2,842.6 74.8,842.7 76.5,842.6 78.1,842.8 79.8,842.6 81.4,842.4 83.1,842.5 84.7,842.6 86.4,842.5 88.0,842.6" fill="none" stroke="#800000" stroke-width="1.9" stroke-linejoin="round"/>
<polyline points="304.0,841.5 305.8,841.9 307.6,841.8 309.5,842.1 311.3,842.2 313.1,842.4 314.9,842.4 316.7,842.9 318.6,842.9 320.4,842.9 322.2,843.3 324.0,843.3 325.9,843.3 327.7,843.4 329.5,843.7" fill="none" stroke="#800000" stroke-width="1.9" stroke-linejoin="round"/>
<line x1="166.80" y1="503.20" x2="166.80" y2="823.00" stroke="#000" stroke-width="1.4"/>
<line x1="138.30" y1="580.60" x2="138.30" y2="834.80" stroke="#000" stroke-width="1.4"/>
<line x1="193.30" y1="611.70" x2="193.30" y2="822.00" stroke="#000" stroke-width="1.4"/>
<line x1="222.90" y1="764.40" x2="222.90" y2="841.80" stroke="#000" stroke-width="1.4"/>
<line x1="253.30" y1="796.70" x2="253.30" y2="842.20" stroke="#000" stroke-width="1.4"/>
<line x1="115.00" y1="798.00" x2="115.00" y2="840.70" stroke="#000" stroke-width="1.4"/>
<rect x="28.60" y="472.40" width="301.40" height="388.90" fill="none" stroke="#000" stroke-width="1.6"/>
<line x1="88.88" y1="861.30" x2="88.88" y2="867.30" stroke="#000" stroke-width="1.5"/>
<line x1="169.25" y1="861.30" x2="169.25" y2="867.30" stroke="#000" stroke-width="1.5"/>
<line x1="249.63" y1="861.30" x2="249.63" y2="867.30" stroke="#000" stroke-width="1.5"/>
<line x1="330.00" y1="861.30" x2="330.00" y2="867.30" stroke="#000" stroke-width="1.5"/>
<line x1="48.69" y1="861.30" x2="48.69" y2="865.30" stroke="#000" stroke-width="1.5"/>
<line x1="129.07" y1="861.30" x2="129.07" y2="865.30" stroke="#000" stroke-width="1.5"/>
<line x1="209.44" y1="861.30" x2="209.44" y2="865.30" stroke="#000" stroke-width="1.5"/>
<line x1="289.81" y1="861.30" x2="289.81" y2="865.30" stroke="#000" stroke-width="1.5"/>
<line x1="42.30" y1="488.40" x2="42.30" y2="522.20" stroke="#000" stroke-width="1.6"/>
<text x="44.80" y="511.60" font-family='"Liberation Sans", sans-serif' font-weight="bold" font-size="16.00" textLength="41.93" lengthAdjust="spacingAndGlyphs" fill="#000" stroke="#000" stroke-width="0.35">0.002</text>
<text x="222.11" y="498.80" font-family='"Liberation Sans", sans-serif' font-weight="bold" font-size="18.00" textLength="26.13" lengthAdjust="spacingAndGlyphs" fill="#000" stroke="#000" stroke-width="0.35">(c)</text>
<text x="252.48" y="498.80" font-family='"Liberation Serif", serif' font-weight="normal" font-size="18.00" textLength="9.42" lengthAdjust="spacingAndGlyphs" fill="#000" stroke="#000" stroke-width="0.35">γ</text>
<text x="260.94" y="498.80" font-family='"Liberation Sans", sans-serif' font-weight="bold" font-size="17.50" textLength="53.53" lengthAdjust="spacingAndGlyphs" fill="#000" stroke="#000" stroke-width="0.35">-MnO</text>
<text x="315.08" y="506.60" font-family='"Liberation Sans", sans-serif' font-weight="bold" font-size="11.00" textLength="7.94" lengthAdjust="spacingAndGlyphs" fill="#000" stroke="#000" stroke-width="0.35">2</text>
<text x="153.09" y="496.20" font-family='"Liberation Sans", sans-serif' font-weight="bold" font-size="14.80" textLength="36.50" lengthAdjust="spacingAndGlyphs" fill="#000" stroke="#000" stroke-width="0.35">1219</text>
<text x="107.11" y="573.80" font-family='"Liberation Sans", sans-serif' font-weight="bold" font-size="14.80" textLength="35.86" lengthAdjust="spacingAndGlyphs" fill="#000" stroke="#000" stroke-width="0.35">1272</text>
<text x="187.40" y="604.50" font-family='"Liberation Sans", sans-serif' font-weight="bold" font-size="14.80" textLength="35.39" lengthAdjust="spacingAndGlyphs" fill="#000" stroke="#000" stroke-width="0.35">1143</text>
<text x="207.92" y="758.00" font-family='"Liberation Sans", sans-serif' font-weight="bold" font-size="14.80" textLength="35.54" lengthAdjust="spacingAndGlyphs" fill="#000" stroke="#000" stroke-width="0.35">1067</text>
<text x="244.72" y="790.00" font-family='"Liberation Sans", sans-serif' font-weight="bold" font-size="14.80" textLength="26.67" lengthAdjust="spacingAndGlyphs" fill="#000" stroke="#000" stroke-width="0.35">991</text>
<text x="79.32" y="794.00" font-family='"Liberation Sans", sans-serif' font-weight="bold" font-size="14.80" textLength="35.40" lengthAdjust="spacingAndGlyphs" fill="#000" stroke="#000" stroke-width="0.35">1331</text>
<line x1="283.30" y1="570.20" x2="283.30" y2="598.50" stroke="#000" stroke-width="1.6"/>
<path d="M283.30,562.20 L286.70,571.70 L279.90,571.70 Z" fill="#000"/>
<text x="242.19" y="618.20" font-family='"Liberation Serif", serif' font-weight="bold" font-size="16.30" textLength="75.24" lengthAdjust="spacingAndGlyphs" fill="#000" stroke="#000" stroke-width="0.35">Increasing</text>
<text x="263.23" y="638.50" font-family='"Liberation Serif", serif' font-weight="bold" font-size="16.30" textLength="31.38" lengthAdjust="spacingAndGlyphs" fill="#000" stroke="#000" stroke-width="0.35">time</text>
<text transform="translate(17.72,694.33) rotate(-90)" x="-1.41" y="0" font-family='"Liberation Sans", sans-serif' font-weight="bold" font-size="20.65" textLength="41.05" lengthAdjust="spacingAndGlyphs" fill="#000" stroke="#000" stroke-width="0.35">K-M</text>
<text x="72.95" y="885.00" font-family='"Liberation Sans", sans-serif' font-weight="bold" font-size="12.00" textLength="31.56" lengthAdjust="spacingAndGlyphs" fill="#000" stroke="#000" stroke-width="0.35">1400</text>
<text x="153.33" y="885.00" font-family='"Liberation Sans", sans-serif' font-weight="bold" font-size="12.00" textLength="31.56" lengthAdjust="spacingAndGlyphs" fill="#000" stroke="#000" stroke-width="0.35">1200</text>
<text x="233.70" y="885.00" font-family='"Liberation Sans", sans-serif' font-weight="bold" font-size="12.00" textLength="31.56" lengthAdjust="spacingAndGlyphs" fill="#000" stroke="#000" stroke-width="0.35">1000</text>
<text x="318.30" y="885.00" font-family='"Liberation Sans", sans-serif' font-weight="bold" font-size="12.00" textLength="23.59" lengthAdjust="spacingAndGlyphs" fill="#000" stroke="#000" stroke-width="0.35">800</text>
<text x="95.58" y="918.40" font-family='"Liberation Sans", sans-serif' font-weight="bold" font-size="20.80" textLength="180.34" lengthAdjust="spacingAndGlyphs" fill="#000" stroke="#000" stroke-width="0.35">Wavenumber / cm</text>
<text x="276.52" y="906.90" font-family='"Liberation Sans", sans-serif' font-weight="bold" font-size="9.50" textLength="7.81" lengthAdjust="spacingAndGlyphs" fill="#000" stroke="#000" stroke-width="0.35">-1</text>
<polyline points="360.3,847.4 361.9,847.4 363.5,847.5 365.1,847.2 366.8,847.4 368.4,847.2 370.0,847.2 371.6,848.0 373.2,847.2 374.8,847.4 376.4,847.5 378.0,847.4 379.7,847.1 381.3,847.1 382.9,847.8 384.5,847.3 386.1,846.8 387.7,847.4 389.3,847.2 391.0,847.1 392.6,847.1 394.2,847.8 395.8,847.9 397.4,847.2 399.0,847.3 400.6,847.2 402.2,847.1 403.9,847.3 405.5,847.5 407.1,847.2 408.7,847.4 410.3,847.5 411.9,847.6 413.5,847.2 415.2,847.1 416.8,847.2 418.4,847.2 420.0,846.9 421.6,846.9 423.2,846.9 424.8,847.2 426.4,847.2 428.1,847.0 429.7,847.7 431.3,847.1 432.9,847.0 434.5,847.0 436.1,847.6 437.7,847.6 439.4,847.0 441.0,847.3 442.6,847.3 444.2,846.7 445.8,846.6 447.4,846.7 449.0,847.8 450.6,847.2 452.3,847.2 453.9,847.0 455.5,846.9 457.1,847.6 458.7,846.8 460.3,847.1 461.9,847.7 463.5,846.9 465.2,847.0 466.8,846.9 468.4,846.6 470.0,846.9 471.6,847.3 473.2,846.8 474.8,846.9 476.5,846.5 478.1,846.1 479.7,847.1 481.3,846.3 482.9,846.6 484.5,846.6 486.1,847.1 487.7,846.2 489.4,846.9 491.0,846.0 492.6,846.8 494.2,846.8 495.8,846.5 497.4,846.5 499.0,846.4 500.6,846.6 502.3,846.1 503.9,847.0 505.5,846.0 507.1,846.0 508.7,845.8 510.3,845.7 511.9,845.3 513.5,845.2 515.1,844.4 516.7,844.0 518.3,844.0 519.9,844.2 521.4,844.3 523.0,843.3 524.6,843.9 526.2,843.9 527.8,844.9 529.4,844.8 531.0,846.1 532.6,845.1 534.2,845.9 535.8,845.6 537.4,845.7 539.0,846.1 540.6,845.7 542.2,846.3 543.8,846.0 545.5,846.4 547.1,846.4 548.7,845.6 550.3,846.1 551.9,846.3 553.5,846.1 555.1,846.5 556.8,846.4 558.4,846.2 560.0,846.6 561.6,846.3 563.2,846.2 564.8,846.6 566.4,846.3 568.0,846.6 569.7,846.1 571.3,846.2 572.9,846.2 574.5,846.3 576.1,845.7 577.7,846.4 579.3,846.2 580.9,846.2 582.6,845.9 584.2,846.3 585.8,846.3 587.4,846.5 589.0,846.2 590.6,846.4 592.2,846.4 593.9,846.1 595.5,846.3 597.1,845.7 598.7,845.9 600.3,846.4 601.9,846.4 603.5,846.2 605.1,846.3 606.8,846.7 608.4,846.0 610.0,846.4 611.6,845.8 613.2,846.1 614.8,846.5 616.4,846.3 618.1,846.0 619.7,846.9 621.3,846.0 622.9,845.9 624.5,846.4 626.1,846.1 627.7,846.6 629.3,846.4 631.0,846.5 632.6,846.5 634.2,846.7 635.8,846.4 637.4,846.3 639.0,846.2 640.6,846.4 642.3,846.6 643.9,846.6 645.5,846.1 647.1,846.5 648.7,846.2 650.3,846.3 651.9,847.2 653.5,846.3 655.2,846.9 656.8,846.3 658.4,846.8 660.0,846.5" fill="none" stroke="#000000" stroke-width="1.9" stroke-linejoin="round"/>
<polyline points="360.3,847.9 361.9,848.2 363.5,848.1 365.1,848.0 366.7,848.2 368.3,848.1 370.0,848.3 371.6,848.4 373.2,847.9 374.8,847.8 376.4,847.7 378.0,848.4 379.6,848.4 381.2,848.0 382.8,847.7 384.4,847.9 386.1,848.2 387.7,847.9 389.3,847.8 390.9,848.1 392.5,847.9 394.1,847.6 395.7,847.9 397.3,847.7 398.9,847.8 400.5,847.6 402.1,847.6 403.8,847.5 405.4,848.0 407.0,847.9 408.6,847.4 410.2,848.0 411.8,848.5 413.4,847.4 415.0,847.5 416.6,847.1 418.2,847.5 419.8,847.6 421.5,847.8 423.1,847.3 424.7,847.6 426.3,847.2 427.9,847.3 429.5,847.2 431.1,846.6 432.7,846.7 434.3,846.4 435.9,846.8 437.5,846.4 439.1,846.1 440.6,845.5 442.0,844.5 443.4,843.9 444.6,842.8 445.9,841.5 447.2,840.8 448.4,840.3 449.7,839.2 450.9,837.7 452.2,836.7 453.4,835.2 454.7,834.7 456.0,833.5 457.3,832.7 458.7,832.3 460.1,831.0 461.6,831.1 463.1,830.2 464.7,830.1 466.2,829.6 467.8,828.9 469.4,828.7 471.0,828.3 472.6,828.4 474.2,828.1 475.8,827.9 477.4,828.2 479.0,828.0 480.6,827.8 482.1,827.1 483.7,826.4 485.2,826.4 486.8,825.7 488.3,825.3 489.9,825.7 491.4,826.0 492.7,826.6 493.8,827.6 494.9,829.1 495.9,830.3 496.9,831.8 497.8,833.4 498.5,834.5 499.2,835.9 499.9,837.0 500.6,838.7 501.5,840.4 502.9,840.9 504.4,840.3 505.8,839.8 507.0,838.3 508.1,837.4 509.2,836.1 510.2,835.3 511.0,833.5 511.7,832.5 512.3,831.2 512.9,829.3 513.4,827.7 514.0,825.9 514.5,825.2 515.1,823.2 515.7,821.9 516.3,820.2 516.8,818.6 517.4,817.3 518.0,815.4 518.8,814.8 519.8,812.9 521.0,812.0 522.5,811.6 523.9,812.4 525.0,814.0 526.0,814.5 526.9,816.4 527.7,818.0 528.4,819.0 529.1,820.5 529.7,822.4 530.4,823.5 531.0,824.6 531.5,826.9 532.1,828.4 532.8,829.2 533.4,831.3 534.1,832.6 534.8,833.7 535.6,834.7 536.4,836.7 537.3,838.4 538.2,839.2 539.3,840.4 540.4,841.6 541.7,842.6 543.0,843.7 544.5,844.7 546.0,844.6 547.5,845.4 549.1,845.9 550.7,845.7 552.3,845.9 553.9,845.5 555.5,845.5 557.1,845.0 558.7,844.7 560.3,845.0 561.9,844.9 563.5,844.4 565.1,844.7 566.7,844.2 568.3,844.7 569.9,844.8 571.5,845.8 573.1,845.3 574.7,845.7 576.3,846.1 577.9,845.9 579.5,846.0 581.1,846.1 582.8,846.4 584.4,846.3 586.0,846.2 587.6,846.1 589.2,846.1 590.8,846.3 592.4,846.3 594.0,846.0 595.6,846.6 597.2,846.5 598.8,846.4 600.5,846.8 602.1,846.8 603.7,846.7 605.3,846.6 606.9,846.6 608.5,846.7 610.1,847.3 611.7,846.5 613.3,846.7 614.9,846.7 616.5,846.8 618.2,847.0 619.8,846.8 621.4,846.8 623.0,846.5 624.6,846.6 626.2,846.8 627.8,846.9 629.4,847.1 631.0,846.5 632.6,847.0 634.2,847.0 635.9,846.6 637.5,846.9 639.1,847.5 640.7,846.8 642.3,846.5 643.9,846.9 645.5,846.5 647.1,846.9 648.7,847.0 650.3,847.0 652.0,847.2 653.6,847.1 655.2,847.0 656.8,846.9 658.4,846.8 660.0,847.2" fill="none" stroke="#008080" stroke-width="1.9" stroke-linejoin="round"/>
<polyline points="360.3,847.9 361.9,847.6 363.5,847.6 365.1,847.8 366.7,847.9 368.4,848.0 370.0,847.9 371.6,848.4 373.2,847.9 374.8,848.0 376.4,847.8 378.0,847.7 379.6,847.8 381.2,848.1 382.8,847.5 384.5,847.2 386.1,847.5 387.7,847.9 389.3,847.5 390.9,847.8 392.5,848.0 394.1,847.8 395.7,847.1 397.3,847.6 399.0,847.4 400.6,847.4 402.2,847.1 403.8,847.5 405.4,847.6 407.0,847.3 408.6,847.1 410.2,847.1 411.8,847.9 413.4,847.3 415.1,847.2 416.7,847.5 418.3,847.1 419.9,847.0 421.5,846.7 423.1,846.9 424.7,846.6 426.3,846.6 427.8,845.9 429.4,845.4 431.0,844.9 432.5,844.8 434.0,843.9 435.5,843.5 436.9,842.6 438.3,842.2 439.5,840.6 440.6,839.3 441.6,838.4 442.6,837.0 443.5,835.6 444.3,834.6 445.2,833.2 446.2,831.9 447.1,830.9 448.1,829.0 449.0,828.1 449.9,826.4 450.9,825.3 451.8,823.2 452.6,822.4 453.5,821.3 454.3,820.0 455.1,818.4 455.9,816.7 456.7,815.9 457.6,814.6 458.4,812.4 459.3,811.5 460.1,810.3 461.0,808.9 462.0,807.1 463.0,806.3 464.0,805.0 465.1,803.7 466.1,802.8 467.3,801.7 468.6,800.5 470.2,800.6 471.8,800.0 473.4,801.0 475.0,800.3 476.6,800.6 478.0,799.3 479.4,798.9 480.7,798.0 482.1,796.8 483.4,796.3 484.8,795.0 486.2,794.3 487.7,794.0 489.2,794.6 490.3,795.8 491.3,797.1 492.2,799.0 492.9,800.0 493.5,801.3 494.0,802.8 494.4,804.3 494.9,805.9 495.4,807.2 495.9,809.4 496.4,810.5 496.8,811.8 497.3,813.4 497.7,815.3 498.2,816.7 498.7,818.0 499.2,819.5 499.7,821.0 500.2,822.9 500.6,824.2 501.1,825.4 501.7,827.5 502.5,828.1 504.0,828.9 505.2,828.4 506.2,826.9 507.0,824.8 507.8,823.8 508.5,822.3 509.2,821.3 509.8,819.7 510.3,818.4 510.8,816.7 511.2,815.1 511.5,813.1 511.8,811.7 512.1,810.1 512.4,808.3 512.7,807.4 512.9,805.5 513.2,803.4 513.4,802.5 513.6,800.4 513.8,799.2 514.1,797.3 514.3,795.6 514.5,794.0 514.8,792.3 515.1,790.9 515.3,789.1 515.6,788.0 515.9,786.1 516.2,784.7 516.6,783.3 516.9,781.3 517.2,779.6 517.5,778.9 517.8,776.4 518.1,775.0 518.4,773.8 518.8,772.2 519.1,770.5 519.5,768.7 519.8,767.7 520.1,766.0 520.4,764.2 520.7,762.6 521.1,761.3 521.6,759.9 522.8,759.5 523.4,760.9 524.0,762.6 524.4,763.4 524.9,766.0 525.3,766.8 525.7,768.6 526.1,770.4 526.5,771.7 527.0,773.6 527.5,775.3 528.1,776.4 528.6,778.0 529.2,779.5 529.7,781.2 530.2,782.4 530.6,783.9 531.1,785.5 531.4,787.1 531.8,788.9 532.1,790.0 532.3,792.0 532.6,793.4 532.9,794.9 533.1,796.1 533.4,797.9 533.6,800.0 533.9,801.2 534.2,803.3 534.5,804.3 534.8,805.8 535.1,807.8 535.4,809.0 535.7,811.0 535.9,812.7 536.2,814.2 536.5,815.6 536.8,817.0 537.1,818.9 537.4,820.5 537.8,821.9 538.1,823.5 538.6,824.9 539.1,826.6 539.7,828.1 540.5,829.4 541.3,831.0 542.2,832.4 543.2,833.6 544.2,834.7 545.3,835.8 546.5,837.2 547.8,838.0 549.1,839.1 550.6,839.7 552.1,840.4 553.7,840.0 555.3,839.7 556.9,839.3 558.4,838.8 559.9,838.1 561.4,837.5 562.8,836.8 564.3,836.8 565.2,837.7 566.1,839.2 567.1,841.0 568.5,841.2 570.1,841.9 571.6,842.1 573.2,842.3 574.8,842.5 576.5,842.8 578.1,842.5 579.7,842.3 581.3,842.4 582.9,842.5 584.5,841.8 586.1,842.6 587.7,841.8 589.3,842.2 590.9,842.5 592.6,842.4 594.2,842.5 595.8,842.5 597.4,842.3 599.0,843.1 600.6,843.6 602.2,843.0 603.8,843.1 605.4,843.2 607.0,843.4 608.6,843.5 610.2,844.0 611.8,843.7 613.4,844.5 615.0,844.0 616.6,844.1 618.2,844.5 619.8,844.8 621.4,844.8 623.0,845.1 624.6,845.1 626.2,845.2 627.8,845.4 629.4,845.3 631.0,845.5 632.6,845.7 634.3,845.4 635.9,846.4 637.5,845.5 639.1,846.1 640.7,846.3 642.3,846.3 643.9,846.6 645.5,846.5 647.1,846.4 648.7,846.7 650.3,846.9 652.0,847.1 653.6,846.7 655.2,847.0 656.8,846.9 658.4,846.7 660.0,846.5" fill="none" stroke="#800000" stroke-width="1.9" stroke-linejoin="round"/>
<polyline points="360.3,848.1 361.9,847.8 363.5,847.5 365.1,847.7 366.7,847.7 368.3,847.4 369.9,847.7 371.5,847.8 373.1,847.6 374.7,847.5 376.3,847.5 377.9,847.0 379.5,846.9 381.1,846.8 382.7,846.7 384.3,847.0 385.9,845.8 387.5,846.3 389.1,845.4 390.6,845.4 392.2,845.1 393.8,844.3 395.3,844.3 396.9,844.2 398.4,843.4 400.0,843.4 401.5,842.5 403.1,842.2 404.7,842.2 406.2,841.4 407.8,841.2 409.4,841.6 411.0,841.5 412.6,842.1 414.2,841.9 415.7,842.8 417.2,843.5 418.7,843.8 420.3,844.4 421.8,844.6 423.3,845.3 424.9,845.4 426.5,845.4 428.0,845.2 429.4,843.9 430.8,843.4 432.0,842.5 433.3,841.4 434.5,840.0 435.8,839.7 437.0,838.7 438.2,837.3 439.4,836.2 440.6,835.1 441.7,833.6 442.7,832.8 443.6,831.5 444.5,830.0 445.3,828.8 446.0,827.1 446.7,826.1 447.4,824.8 448.1,822.4 448.7,821.3 449.4,820.1 450.0,818.4 450.5,816.8 451.1,815.5 451.6,814.3 452.1,812.4 452.5,810.8 452.8,809.6 453.2,807.6 453.4,806.3 453.7,804.5 453.9,803.0 454.2,801.2 454.4,800.2 454.6,798.3 454.8,797.0 455.0,794.9 455.2,793.2 455.4,791.8 455.5,790.0 455.7,788.4 455.8,786.8 455.9,785.4 456.1,783.8 456.3,782.2 456.6,780.7 456.9,779.2 457.3,777.6 457.9,775.9 458.6,774.8 459.3,773.0 460.1,771.4 460.9,770.7 461.7,769.2 462.3,767.4 462.9,766.3 463.5,764.5 464.2,762.9 464.8,761.2 465.5,760.3 466.2,758.4 466.8,757.2 467.5,755.4 468.6,754.5 470.1,753.7 471.6,754.6 473.1,755.0 474.7,754.9 476.3,754.2 477.8,754.0 479.2,753.3 480.7,752.3 482.2,751.5 483.7,751.5 485.2,750.6 486.7,749.8 488.3,749.9 489.9,750.2 491.3,751.0 492.4,752.1 493.2,753.3 493.7,754.6 494.0,756.4 494.4,758.5 494.7,759.5 495.1,760.9 495.4,762.6 495.7,764.5 496.1,766.0 496.4,767.4 496.7,768.8 497.0,770.5 497.3,772.3 497.5,773.7 497.8,775.8 498.1,777.2 498.4,778.5 498.6,780.0 498.9,782.2 499.1,783.3 499.3,785.1 499.5,786.3 499.7,788.2 499.8,789.6 500.0,791.6 500.1,793.0 500.3,794.3 500.4,796.2 500.6,798.1 500.7,798.7 500.9,801.0 501.1,802.5 501.2,804.6 501.5,805.7 501.7,806.5 502.0,809.1 502.4,810.6 503.3,811.6 504.5,811.1 505.3,809.4 506.0,807.9 506.6,806.4 507.1,804.5 507.7,803.3 508.1,801.8 508.6,799.9 509.0,798.8 509.5,797.6 509.8,795.4 510.2,793.7 510.5,792.1 510.7,790.8 511.0,789.0 511.2,787.5 511.4,786.0 511.6,784.6 511.8,782.7 511.9,781.4 512.1,780.0 512.2,777.7 512.4,776.0 512.5,774.8 512.7,773.2 512.8,772.1 512.9,770.3 513.1,768.8 513.2,767.2 513.3,765.5 513.4,763.6 513.5,762.2 513.6,760.6 513.7,758.7 513.9,757.5 514.0,755.6 514.1,753.9 514.2,752.7 514.3,751.0 514.4,749.9 514.6,747.7 514.7,746.0 514.8,744.7 515.0,742.8 515.1,741.5 515.3,739.6 515.4,738.2 515.6,736.4 515.8,734.2 516.0,732.8 516.1,731.8 516.3,730.2 516.5,728.2 516.6,727.0 516.8,725.2 517.0,723.7 517.1,722.1 517.3,719.9 517.5,718.7 517.7,717.2 517.9,715.8 518.1,714.2 518.3,712.8 518.5,711.1 518.7,709.0 518.9,708.2 519.2,706.5 519.4,704.7 519.7,703.5 519.9,701.3 520.1,699.8 520.4,697.8 520.6,697.0 520.9,694.9 521.2,693.8 521.5,691.7 521.9,690.3 522.5,689.1 523.6,689.4 524.2,691.2 524.7,692.4 525.1,694.9 525.4,696.4 525.8,697.3 526.2,699.2 526.5,700.5 526.8,702.3 527.2,703.5 527.5,705.5 527.8,706.8 528.1,708.6 528.3,710.4 528.6,711.6 528.8,713.3 529.1,714.8 529.3,716.3 529.5,718.0 529.7,719.0 529.9,720.5 530.1,722.9 530.4,724.4 530.6,726.0 530.8,727.8 531.0,728.9 531.1,730.8 531.3,732.2 531.5,733.7 531.7,735.2 531.9,737.5 532.1,739.0 532.4,740.4 532.6,741.7 532.8,743.8 533.0,745.0 533.2,746.5 533.4,748.2 533.6,749.9 533.8,751.4 534.0,753.3 534.2,754.4 534.4,756.5 534.6,757.8 534.8,759.3 535.0,761.0 535.2,762.6 535.3,764.2 535.5,765.6 535.7,767.4 535.9,768.8 536.1,770.8 536.3,772.0 536.5,773.4 536.7,775.7 536.9,776.5 537.1,778.5 537.4,780.0 537.6,782.0 537.8,783.6 538.1,784.9 538.3,786.2 538.6,788.4 538.9,789.3 539.2,791.1 539.5,792.4 539.8,794.5 540.1,796.0 540.4,797.9 540.7,798.9 541.0,800.7 541.4,802.3 541.7,803.7 542.1,804.8 542.5,806.8 542.9,808.6 543.3,810.0 543.7,811.8 544.2,813.1 544.6,814.2 545.1,816.2 545.5,817.7 545.9,819.6 546.3,820.5 546.7,822.5 547.1,824.3 547.6,825.2 548.2,827.1 548.9,828.5 549.8,829.7 551.2,830.3 552.8,830.2 554.2,829.7 555.6,828.1 556.9,828.0 558.0,825.9 559.1,825.4 560.0,823.8 561.0,822.9 562.0,821.4 563.2,820.4 564.5,821.0 564.9,822.9 565.2,824.1 565.5,825.7 565.8,826.9 566.3,828.8 566.7,830.6 567.2,831.8 567.8,833.2 568.7,835.1 570.2,834.9 571.8,835.2 573.2,834.4 574.7,833.3 576.2,832.8 577.8,832.7 579.3,833.2 580.7,833.6 582.1,834.6 583.5,835.5 585.0,836.0 586.6,835.7 588.1,835.5 589.6,835.6 591.0,834.4 592.6,834.3 594.2,833.9 595.8,833.5 597.3,834.4 598.9,834.0 600.5,834.7 602.0,835.4 603.6,836.0 605.1,836.3 606.6,836.8 608.2,837.1 609.7,837.6 611.2,838.0 612.7,838.8 614.3,838.9 615.8,839.6 617.4,840.0 618.9,840.2 620.5,840.8 622.0,841.2 623.6,841.6 625.1,841.7 626.7,842.6 628.2,842.7 629.8,843.5 631.4,844.1 632.9,843.9 634.5,844.2 636.1,844.9 637.6,844.9 639.2,845.1 640.8,845.6 642.4,845.5 644.0,846.1 645.6,846.1 647.2,845.8 648.8,846.3 650.4,846.2 652.0,846.7 653.6,846.9 655.2,847.0 656.8,846.5 658.4,846.9 660.0,847.0" fill="none" stroke="#ff00ff" stroke-width="1.9" stroke-linejoin="round"/>
<polyline points="360.3,847.5 361.9,847.9 363.5,847.7 365.1,847.6 366.7,847.4 368.3,847.8 369.9,847.8 371.5,847.7 373.1,847.0 374.7,847.1 376.3,846.7 377.8,846.0 379.4,845.7 380.9,845.3 382.4,844.9 383.9,844.2 385.3,843.3 386.8,842.9 388.3,842.3 389.8,842.0 391.3,841.3 392.7,840.4 394.3,839.9 395.8,839.5 397.3,838.8 398.8,838.6 400.4,837.6 401.9,837.7 403.4,837.1 405.0,836.2 406.6,836.2 408.1,835.9 409.7,836.3 411.3,836.2 412.9,836.0 414.5,836.5 416.0,837.2 417.6,837.9 419.0,838.4 420.4,839.0 421.7,840.3 422.9,841.4 424.1,841.9 425.5,842.8 427.1,843.2 428.6,842.3 429.9,840.9 431.2,840.9 432.4,839.3 433.6,838.5 434.7,837.1 435.8,836.5 436.9,834.8 438.0,833.9 438.9,832.0 439.8,831.7 440.7,830.3 441.4,828.4 442.1,827.1 442.7,825.5 443.2,824.6 443.7,822.3 444.2,820.6 444.6,819.0 445.0,818.2 445.5,816.9 445.9,814.9 446.2,813.3 446.6,812.1 446.9,810.3 447.2,808.7 447.6,807.0 447.9,805.0 448.1,803.5 448.4,802.2 448.7,800.0 448.9,798.9 449.2,797.4 449.4,796.0 449.6,794.2 449.8,792.7 449.9,791.0 450.1,789.8 450.2,788.0 450.4,786.4 450.5,784.6 450.7,783.6 450.8,780.9 451.0,780.1 451.2,778.2 451.3,776.7 451.5,775.2 451.6,773.8 451.8,772.2 451.9,770.2 452.0,769.2 452.2,766.9 452.3,765.7 452.4,764.1 452.6,762.3 452.7,761.2 452.9,759.4 453.0,757.8 453.2,755.7 453.4,753.9 453.6,753.1 453.8,750.9 454.0,749.4 454.2,748.1 454.5,746.2 454.7,745.0 455.1,743.2 455.4,741.7 455.8,740.1 456.2,738.5 456.6,736.8 457.1,735.6 457.6,733.8 458.1,732.7 458.6,731.5 459.0,729.4 459.5,727.6 460.0,726.7 460.6,724.6 461.1,723.1 461.7,722.3 462.2,720.1 462.8,719.0 463.3,717.1 463.9,716.0 464.4,714.5 464.9,713.0 465.3,711.5 465.7,709.8 466.1,707.5 466.5,706.5 466.9,705.2 467.5,703.5 468.4,702.2 469.9,702.4 471.1,703.5 472.2,704.1 473.5,705.7 475.1,705.7 476.5,704.9 477.9,703.7 479.3,703.5 480.9,704.0 482.1,704.6 483.6,705.4 485.1,705.2 486.5,704.3 487.8,703.5 489.3,703.9 490.4,704.8 491.1,706.4 491.5,707.7 491.9,708.6 492.2,711.0 492.5,712.5 492.8,714.4 493.1,715.2 493.4,716.9 493.7,718.5 494.0,720.5 494.4,721.4 494.7,723.7 494.9,725.0 495.2,726.6 495.5,728.7 495.7,730.0 496.0,731.2 496.2,733.0 496.5,734.6 496.7,736.0 497.0,737.3 497.2,739.1 497.4,740.3 497.6,742.3 497.8,744.1 498.1,745.9 498.3,747.6 498.5,748.9 498.7,750.6 498.9,752.7 499.1,753.2 499.3,754.7 499.5,756.8 499.7,758.2 499.8,760.1 500.0,761.3 500.1,763.1 500.3,764.9 500.4,766.4 500.5,768.0 500.7,769.7 500.8,771.1 500.9,772.7 501.0,774.3 501.2,775.9 501.3,777.7 501.4,779.3 501.6,780.8 501.7,781.9 501.9,783.6 502.1,785.2 502.3,787.4 502.5,788.5 502.9,790.3 503.7,790.5 504.3,789.7 504.7,788.0 505.0,786.3 505.3,784.4 505.6,783.7 505.8,781.3 506.0,779.8 506.3,778.5 506.5,777.0 506.7,774.8 506.9,773.2 507.1,772.2 507.3,770.1 507.5,768.7 507.7,767.3 507.9,765.7 508.1,763.8 508.3,762.7 508.5,760.8 508.6,759.3 508.8,757.2 508.9,755.6 509.1,754.1 509.2,752.6 509.3,751.5 509.5,749.5 509.6,748.0 509.7,746.8 509.8,745.3 509.9,743.3 510.0,741.5 510.1,739.8 510.3,738.6 510.4,736.8 510.5,735.2 510.6,733.9 510.7,731.8 510.8,730.6 510.9,729.1 511.0,726.9 511.1,725.5 511.2,724.0 511.3,722.4 511.4,720.5 511.5,719.2 511.6,717.7 511.7,715.8 511.8,714.2 511.9,712.8 512.0,711.1 512.1,709.6 512.3,708.0 512.4,706.3 512.5,705.1 512.6,702.9 512.8,701.5 512.9,700.4 513.0,698.5 513.2,697.1 513.3,695.6 513.4,693.5 513.6,691.9 513.7,690.2 513.8,689.1 514.0,687.3 514.1,685.7 514.2,684.4 514.4,682.5 514.5,680.7 514.6,679.4 514.8,677.9 514.9,676.0 515.1,675.1 515.2,672.9 515.3,671.4 515.5,670.0 515.6,668.1 515.8,666.5 515.9,665.1 516.1,663.1 516.3,662.4 516.4,660.0 516.6,658.5 516.7,656.6 516.9,655.4 517.1,653.4 517.3,652.1 517.4,650.7 517.6,649.1 517.8,647.6 518.0,645.8 518.1,644.6 518.3,642.6 518.5,641.0 518.6,638.9 518.8,637.9 519.0,636.3 519.2,635.1 519.3,633.2 519.5,631.5 519.7,629.6 519.9,628.5 520.1,627.0 520.4,625.2 520.6,623.5 521.0,622.1 521.7,620.5 522.4,622.5 522.7,624.0 523.0,624.8 523.2,626.5 523.4,627.9 523.6,629.7 523.8,631.3 524.0,632.9 524.2,634.5 524.4,636.2 524.5,637.4 524.7,639.5 524.9,640.8 525.1,642.6 525.4,643.9 525.6,645.2 525.9,646.8 526.1,648.5 526.4,650.2 526.6,652.2 526.9,653.8 527.1,655.2 527.4,656.8 527.7,658.7 527.9,659.8 528.2,661.5 528.4,663.1 528.7,664.5 528.9,666.7 529.2,668.0 529.4,669.4 529.7,670.8 529.9,672.9 530.2,674.2 530.4,675.6 530.6,677.4 530.9,678.6 531.1,680.9 531.3,682.0 531.5,683.5 531.7,685.0 531.9,686.8 532.1,688.1 532.3,690.1 532.5,691.4 532.7,693.4 532.9,694.9 533.1,696.3 533.3,697.8 533.5,699.5 533.7,701.1 533.8,702.7 534.0,704.2 534.2,705.9 534.4,707.5 534.6,709.1 534.8,710.8 534.9,712.6 535.1,713.2 535.3,715.3 535.5,717.6 535.7,718.6 535.8,720.5 536.0,722.0 536.2,723.6 536.4,725.4 536.6,727.3 536.7,728.2 536.9,729.8 537.1,731.7 537.3,733.1 537.5,734.7 537.6,735.6 537.8,737.8 537.9,739.6 538.1,741.2 538.3,742.2 538.4,744.0 538.6,745.6 538.7,747.7 538.9,749.0 539.1,751.0 539.2,752.2 539.4,753.7 539.5,755.8 539.7,756.9 539.9,758.3 540.0,760.1 540.2,762.0 540.4,763.5 540.6,764.8 540.7,766.4 540.9,768.1 541.1,769.6 541.3,771.0 541.5,772.5 541.7,774.5 541.9,776.2 542.2,777.5 542.4,778.9 542.6,780.8 542.9,782.0 543.1,784.3 543.3,785.3 543.5,786.7 543.7,788.6 544.0,790.0 544.2,792.0 544.4,793.6 544.6,794.6 544.8,796.5 545.0,798.4 545.2,800.3 545.4,801.6 545.6,803.2 545.9,804.7 546.1,806.6 546.4,807.9 546.6,809.2 546.9,811.3 547.3,812.8 547.6,814.1 548.0,815.4 548.5,817.0 549.1,818.5 550.0,820.0 551.5,820.4 552.8,819.5 553.8,818.0 554.8,816.5 555.7,815.6 556.5,814.5 557.3,812.4 557.9,811.6 558.5,810.1 559.1,808.5 559.6,806.9 560.1,805.4 560.6,803.8 561.2,802.4 561.7,801.0 562.3,799.8 563.0,798.3 564.1,797.7 564.6,798.9 564.8,800.5 565.0,802.3 565.1,803.6 565.2,805.1 565.3,806.9 565.4,808.4 565.5,810.2 565.6,811.6 565.7,813.1 566.0,814.5 566.2,816.3 566.5,817.5 566.8,819.2 567.2,820.8 567.8,822.7 568.5,824.0 569.4,825.4 570.4,826.6 571.6,827.8 573.1,827.6 574.2,826.8 574.9,825.1 575.7,823.8 576.6,822.5 578.0,822.1 579.3,823.4 580.3,823.9 581.2,825.5 582.2,826.7 583.1,827.8 584.2,828.8 585.5,830.4 587.1,830.1 588.6,830.4 590.1,829.3 591.5,828.6 593.1,828.2 594.7,828.0 596.3,828.4 597.8,829.1 599.3,829.1 600.8,829.9 602.3,830.7 603.7,831.4 605.2,831.9 606.6,832.5 608.0,833.3 609.5,834.5 610.9,834.6 612.4,835.6 613.9,836.1 615.3,836.5 616.8,837.3 618.2,837.6 619.6,838.9 621.1,839.6 622.5,840.1 623.9,841.1 625.4,842.1 626.9,841.8 628.3,843.1 629.8,843.4 631.4,843.9 632.9,844.7 634.5,844.9 636.0,844.9 637.6,845.4 639.2,846.0 640.8,845.7 642.4,845.9 644.0,846.0 645.6,846.3 647.2,846.4 648.8,846.4 650.4,846.4 652.0,846.3 653.6,846.8 655.2,847.0 656.8,846.3 658.4,847.4 660.0,847.4" fill="none" stroke="#0000ff" stroke-width="1.9" stroke-linejoin="round"/>
<polyline points="360.3,848.2 361.9,848.3 363.5,847.7 365.1,848.0 366.7,847.4 368.3,847.2 369.9,847.0 371.4,846.7 372.9,845.8 374.4,845.6 375.8,844.7 377.3,843.8 378.6,842.9 380.0,842.4 381.4,841.2 382.7,840.7 384.1,839.7 385.4,839.5 386.8,837.7 388.2,837.6 389.5,836.3 390.9,835.5 392.2,834.9 393.6,834.4 394.9,833.0 396.3,831.7 397.6,831.2 399.0,830.3 400.5,829.4 402.0,829.3 403.5,828.5 405.0,828.8 406.6,827.9 408.2,827.5 409.8,828.1 411.4,827.8 413.0,827.7 414.5,828.0 416.0,829.0 417.5,829.8 418.9,830.7 420.1,831.9 421.2,832.8 422.2,833.9 423.3,835.4 424.4,836.6 425.8,836.9 427.4,837.0 428.8,836.1 429.9,835.0 431.0,834.1 432.2,832.8 433.3,831.6 434.4,830.6 435.4,829.6 436.4,828.4 437.3,826.6 438.2,824.9 438.9,824.1 439.7,822.6 440.4,821.1 441.0,820.1 441.6,818.1 442.2,816.7 442.8,815.3 443.3,813.2 443.8,812.0 444.2,810.3 444.7,808.7 445.1,807.4 445.4,805.9 445.7,804.7 446.0,802.7 446.2,801.3 446.4,800.2 446.6,798.2 446.7,796.6 446.8,794.6 447.0,793.1 447.0,791.5 447.1,789.7 447.2,788.5 447.3,787.0 447.4,785.1 447.4,783.6 447.5,781.8 447.5,780.8 447.6,779.2 447.7,776.7 447.8,775.6 447.8,773.8 447.9,772.6 448.0,770.5 448.1,769.1 448.3,767.6 448.4,765.6 448.5,764.8 448.7,762.7 448.8,761.1 448.9,759.7 449.1,757.6 449.2,756.8 449.3,755.1 449.5,753.1 449.6,751.9 449.7,749.8 449.9,748.6 450.0,746.8 450.2,745.9 450.3,743.2 450.4,741.9 450.6,740.1 450.7,738.8 450.9,737.5 451.0,735.5 451.2,734.3 451.3,731.8 451.5,731.2 451.6,729.5 451.8,728.0 451.9,726.0 452.1,724.1 452.2,722.8 452.4,721.1 452.5,719.6 452.7,717.6 452.8,716.9 453.0,715.3 453.1,713.4 453.3,711.8 453.5,710.3 453.7,709.0 453.9,706.5 454.1,705.1 454.3,704.1 454.6,702.1 454.8,700.6 455.1,699.0 455.5,697.2 455.9,695.7 456.3,694.9 456.7,692.6 457.1,691.2 457.5,689.7 457.9,688.3 458.3,686.8 458.7,684.8 459.1,683.6 459.5,682.3 459.9,680.0 460.2,679.0 460.6,677.1 461.0,675.5 461.4,673.7 461.8,672.8 462.2,671.7 462.6,669.1 463.0,668.1 463.4,666.4 463.8,664.6 464.1,663.5 464.4,661.6 464.7,660.2 465.0,658.6 465.3,656.7 465.7,656.0 466.0,653.9 466.4,652.4 467.0,650.7 468.0,649.4 469.2,650.3 469.9,651.8 470.5,653.8 471.0,655.2 471.7,656.2 472.4,657.5 473.2,659.2 474.3,659.9 475.6,661.0 477.0,662.2 478.5,663.1 480.0,663.0 481.6,663.4 483.2,663.7 484.7,663.4 486.1,662.6 487.3,661.8 488.6,660.4 490.1,661.0 491.0,662.6 491.6,664.2 492.0,665.4 492.4,666.7 492.8,668.3 493.1,670.3 493.4,671.6 493.7,673.3 494.1,674.9 494.3,676.3 494.5,678.4 494.8,679.9 494.9,681.1 495.1,682.6 495.3,684.6 495.4,686.0 495.5,688.0 495.7,689.6 495.8,690.7 495.9,692.3 496.0,693.5 496.1,695.4 496.2,696.6 496.4,698.7 496.5,700.4 496.6,701.6 496.7,703.4 496.8,705.2 496.9,706.5 497.0,708.2 497.1,710.6 497.2,711.5 497.3,713.2 497.5,715.2 497.6,716.4 497.7,717.7 497.9,719.7 498.0,720.9 498.2,722.9 498.3,724.4 498.5,725.6 498.6,727.3 498.8,728.8 498.9,730.3 499.0,732.3 499.2,734.1 499.3,735.4 499.4,737.0 499.6,738.8 499.7,740.5 499.9,741.6 500.0,743.7 500.1,744.8 500.3,746.6 500.4,748.5 500.6,749.5 500.7,751.6 500.9,752.8 501.0,754.3 501.2,756.3 501.4,757.3 501.6,759.7 501.8,761.1 502.0,762.6 502.3,763.9 502.7,765.7 503.6,766.1 504.1,765.1 504.5,763.7 504.8,761.9 505.0,760.0 505.3,758.5 505.5,757.2 505.7,755.1 505.9,754.1 506.1,752.5 506.2,750.3 506.4,749.4 506.6,747.4 506.8,746.2 506.9,744.5 507.1,742.7 507.3,741.3 507.4,739.4 507.6,738.2 507.8,736.4 507.9,734.8 508.1,733.3 508.3,731.6 508.4,729.6 508.6,728.7 508.8,727.1 508.9,725.4 509.1,724.0 509.3,722.3 509.5,720.7 509.7,718.9 509.9,717.1 510.0,715.8 510.2,714.1 510.4,712.6 510.6,711.0 510.8,709.2 510.9,707.8 511.1,706.0 511.3,704.9 511.5,702.7 511.6,701.1 511.8,699.7 512.0,698.2 512.1,696.4 512.3,695.3 512.5,693.6 512.6,692.0 512.8,690.4 512.9,688.2 513.1,687.1 513.2,685.2 513.4,684.0 513.5,682.3 513.7,681.1 513.8,679.2 513.9,677.1 514.0,676.0 514.2,674.4 514.3,672.7 514.4,671.1 514.5,669.3 514.6,667.7 514.7,666.2 514.8,664.9 514.9,663.1 515.0,661.4 515.0,659.7 515.1,658.7 515.2,656.9 515.2,655.2 515.3,653.6 515.3,652.4 515.4,650.7 515.4,648.9 515.5,646.9 515.5,645.7 515.6,643.7 515.6,642.1 515.7,640.6 515.7,638.9 515.8,636.9 515.8,636.0 515.9,634.3 515.9,632.6 516.0,631.5 516.0,629.5 516.1,627.6 516.2,626.9 516.2,624.5 516.3,622.5 516.4,621.6 516.5,619.7 516.6,618.1 516.7,616.7 516.8,614.7 516.9,613.4 517.1,612.1 517.2,610.7 517.3,608.5 517.4,607.0 517.5,605.0 517.7,604.0 517.8,602.1 518.0,600.4 518.1,599.2 518.2,597.3 518.4,595.9 518.6,594.3 518.7,592.8 518.9,591.0 519.1,589.4 519.2,587.5 519.4,586.4 519.5,584.5 519.7,582.9 519.8,581.4 520.0,579.8 520.2,578.5 520.4,576.9 520.6,575.4 521.1,574.1 521.8,575.5 522.1,576.4 522.3,577.9 522.6,579.4 522.8,581.1 523.1,582.3 523.4,584.4 523.7,586.0 524.0,587.5 524.3,588.9 524.6,590.5 524.9,591.8 525.3,593.5 525.6,595.3 525.8,596.9 526.1,598.1 526.4,600.1 526.6,602.0 526.8,603.3 527.0,604.9 527.2,606.4 527.4,607.8 527.5,609.4 527.7,611.2 527.8,612.7 527.9,614.0 528.0,615.8 528.2,617.5 528.3,619.2 528.4,621.1 528.5,622.0 528.6,624.0 528.7,625.7 528.8,627.3 528.9,628.7 529.0,630.1 529.1,631.6 529.2,633.1 529.3,635.1 529.4,636.5 529.5,638.7 529.6,639.9 529.8,641.7 529.9,642.4 530.0,644.8 530.1,646.5 530.3,647.5 530.4,649.4 530.5,651.4 530.7,652.6 530.8,654.3 530.9,655.3 531.0,658.1 531.2,658.5 531.3,660.7 531.4,661.7 531.5,664.4 531.7,665.5 531.8,667.3 531.9,668.8 532.1,670.5 532.2,671.8 532.3,673.5 532.5,675.5 532.6,676.9 532.8,678.5 532.9,679.6 533.1,681.4 533.2,682.6 533.4,684.7 533.5,685.8 533.7,687.9 533.8,689.3 534.0,691.2 534.2,692.4 534.3,694.7 534.5,695.5 534.7,697.0 534.9,698.8 535.1,700.3 535.3,702.3 535.4,704.2 535.6,704.9 535.8,706.9 536.0,708.2 536.2,710.5 536.4,711.8 536.6,713.4 536.8,714.6 537.0,716.8 537.2,718.5 537.4,720.5 537.6,721.2 537.8,722.5 538.0,724.3 538.2,725.8 538.4,727.7 538.6,729.0 538.8,730.6 539.0,732.5 539.2,733.9 539.4,735.4 539.6,737.3 539.8,738.5 540.0,740.0 540.2,742.3 540.4,743.4 540.6,744.7 540.8,746.9 541.0,748.4 541.2,750.4 541.4,751.3 541.5,752.8 541.7,754.4 541.9,756.5 542.1,757.7 542.3,759.4 542.5,761.1 542.7,762.3 542.9,764.1 543.1,766.3 543.3,767.5 543.5,768.8 543.7,771.0 543.9,772.3 544.1,773.6 544.3,775.2 544.6,777.1 544.8,778.5 545.0,780.3 545.3,781.6 545.6,783.1 545.8,784.6 546.1,786.7 546.3,788.3 546.6,789.4 546.8,791.4 547.0,793.0 547.3,794.3 547.5,795.7 547.8,797.8 548.1,798.7 548.5,800.7 548.9,801.9 549.5,803.3 550.5,805.0 551.8,804.0 552.7,802.1 553.5,801.3 554.2,799.5 554.9,798.4 555.6,797.2 556.2,794.8 556.9,794.1 557.6,792.4 558.2,791.9 558.7,789.9 559.2,788.3 559.7,786.4 560.1,784.6 560.6,783.5 561.1,781.5 561.6,780.4 562.2,778.8 563.0,777.5 563.9,779.0 564.3,780.1 564.5,781.7 564.7,783.8 564.9,784.7 565.1,786.5 565.2,788.1 565.4,790.0 565.6,791.5 565.7,792.7 565.9,794.7 566.2,796.2 566.4,797.8 566.5,799.3 566.7,801.4 566.8,802.5 567.0,804.1 567.3,805.5 567.6,807.3 568.0,808.9 568.6,810.0 569.1,811.8 569.8,813.2 570.5,815.0 571.3,816.2 572.5,816.9 573.8,816.2 574.6,815.3 575.3,813.6 576.2,812.7 577.4,811.3 578.7,812.4 579.6,813.1 580.4,814.8 581.1,815.9 581.8,817.9 582.5,819.7 583.3,820.4 584.2,821.8 585.3,823.3 586.9,822.8 588.1,822.3 589.2,820.9 590.4,820.0 591.7,818.6 593.2,818.2 594.8,819.1 596.3,819.2 597.7,820.2 599.0,820.8 600.4,822.1 601.6,823.4 602.9,824.3 604.2,824.8 605.5,825.9 606.7,826.8 608.0,827.6 609.3,828.8 610.7,829.6 612.1,830.6 613.5,831.3 614.9,831.8 616.3,832.4 617.7,833.5 619.1,833.9 620.5,835.7 621.9,835.7 623.3,836.6 624.8,837.3 626.2,838.4 627.7,839.1 629.1,839.2 630.6,840.0 632.1,840.3 633.6,841.2 635.1,841.7 636.6,842.6 638.1,842.9 639.6,843.5 641.1,843.8 642.7,844.0 644.2,844.7 645.8,844.9 647.3,845.2 648.9,845.8 650.4,846.2 652.0,846.6 653.6,846.4 655.2,846.6 656.8,847.5 658.4,846.7 660.0,847.1" fill="none" stroke="#ff0000" stroke-width="1.9" stroke-linejoin="round"/>
<polyline points="360.3,848.0 361.9,848.2 363.5,848.1 365.1,847.4 366.6,847.6 368.1,846.8 369.5,846.0 371.0,845.0 372.3,844.6 373.7,843.3 375.0,842.6 376.2,841.8 377.3,840.5 378.5,839.2 379.6,838.0 380.6,836.9 381.7,836.0 382.8,835.0 383.9,833.4 385.0,832.2 386.2,831.0 387.4,829.8 388.7,828.9 389.9,827.5 391.1,826.8 392.4,826.1 393.7,825.3 394.9,823.6 396.2,823.0 397.5,822.4 398.8,821.1 400.0,820.0 401.2,819.1 402.4,817.5 403.7,817.0 405.1,816.6 406.6,815.5 408.2,815.9 409.8,815.5 411.4,815.8 412.9,816.2 414.4,816.9 415.7,817.7 416.9,818.3 418.0,820.4 419.1,821.0 420.2,822.5 421.2,823.6 422.0,825.2 422.8,826.0 423.7,827.3 424.6,828.9 425.9,829.9 427.5,829.7 428.9,828.7 430.2,828.5 431.3,826.9 432.4,826.3 433.5,824.6 434.5,823.8 435.5,821.9 436.5,820.8 437.5,819.7 438.4,818.2 439.2,816.7 440.0,815.8 440.7,814.0 441.4,812.5 442.0,810.9 442.6,809.8 443.1,808.1 443.5,806.3 443.9,804.8 444.2,803.1 444.4,802.1 444.6,800.8 444.8,798.2 445.0,796.8 445.1,796.0 445.3,793.6 445.4,792.5 445.5,790.4 445.6,788.9 445.8,787.7 445.9,786.0 446.1,784.5 446.2,782.8 446.4,781.3 446.5,779.5 446.6,777.6 446.7,776.8 446.8,774.7 446.9,772.9 447.1,771.5 447.2,769.8 447.3,768.3 447.3,766.6 447.4,765.2 447.5,763.8 447.6,761.4 447.7,760.5 447.8,758.9 447.9,757.0 448.0,756.0 448.2,753.7 448.3,752.4 448.4,750.5 448.5,748.9 448.6,747.5 448.8,746.0 448.9,744.7 449.0,742.7 449.1,741.4 449.2,739.5 449.4,737.9 449.5,735.9 449.6,734.5 449.7,733.2 449.9,731.9 450.0,729.7 450.1,728.6 450.2,726.4 450.4,725.4 450.5,723.6 450.6,721.9 450.7,720.7 450.8,718.4 450.9,716.9 451.0,715.8 451.1,714.0 451.3,712.3 451.4,710.8 451.5,709.3 451.6,707.7 451.6,705.9 451.7,704.2 451.8,702.3 451.9,701.5 452.0,699.8 452.0,697.5 452.1,695.9 452.2,694.3 452.3,692.8 452.3,691.4 452.4,689.7 452.5,688.1 452.5,686.7 452.6,684.7 452.7,683.0 452.7,681.5 452.8,679.9 452.9,678.4 453.0,677.4 453.1,675.2 453.1,673.8 453.2,672.3 453.3,670.6 453.4,669.1 453.5,667.4 453.7,665.6 453.8,663.8 453.9,662.4 454.1,660.9 454.2,659.9 454.3,658.0 454.5,656.5 454.6,654.8 454.8,652.9 455.0,651.2 455.2,649.8 455.4,648.2 455.6,646.8 455.8,645.3 456.0,643.5 456.3,641.3 456.6,640.4 456.9,638.5 457.2,636.7 457.5,635.8 457.9,634.4 458.4,632.4 458.8,630.9 459.3,629.3 459.8,628.0 460.3,626.3 460.8,624.4 461.3,623.3 461.8,622.0 462.3,620.5 462.7,618.8 463.2,617.4 463.6,615.6 464.0,614.2 464.3,612.4 464.6,610.7 464.9,609.8 465.2,608.0 465.4,606.2 465.7,604.6 466.1,603.1 466.4,601.1 466.8,599.9 467.4,598.4 468.6,597.9 469.4,599.6 470.0,600.9 470.5,602.0 470.9,604.2 471.4,605.8 471.9,607.2 472.4,608.5 473.0,609.9 473.7,611.8 474.4,612.7 475.1,614.5 475.8,616.1 476.8,617.3 477.9,618.6 479.1,619.3 480.3,620.0 481.7,621.0 483.2,621.6 484.7,621.3 485.7,619.7 486.5,618.2 487.3,617.4 488.1,615.7 489.3,614.3 490.3,615.8 490.8,617.6 491.2,618.9 491.5,620.3 491.8,621.9 492.1,623.4 492.4,625.2 492.6,626.7 492.9,628.6 493.1,630.0 493.3,631.6 493.5,633.0 493.7,634.8 493.8,636.4 494.0,638.0 494.1,639.7 494.2,641.3 494.3,642.9 494.5,644.1 494.6,645.7 494.7,647.5 494.8,649.2 494.9,650.9 495.0,652.5 495.1,654.2 495.2,655.3 495.4,656.9 495.5,658.6 495.6,660.6 495.8,662.5 495.9,663.6 496.1,664.7 496.2,666.7 496.3,668.6 496.5,670.0 496.6,671.5 496.8,673.0 496.9,674.8 497.0,676.4 497.2,677.9 497.3,679.2 497.4,681.4 497.6,682.7 497.7,684.2 497.9,685.8 498.0,687.6 498.1,689.0 498.3,690.6 498.4,692.2 498.6,693.7 498.7,695.4 498.9,697.0 499.0,699.4 499.2,700.3 499.3,701.7 499.5,703.7 499.7,705.5 499.8,706.1 500.0,708.4 500.2,709.8 500.4,711.2 500.5,712.9 500.7,714.4 500.8,716.7 501.0,717.7 501.2,719.8 501.3,720.9 501.5,722.5 501.6,724.1 501.8,725.7 502.0,727.3 502.2,729.0 502.5,730.7 502.9,731.8 503.8,731.5 504.2,730.3 504.6,728.6 504.9,727.1 505.1,725.6 505.4,723.9 505.6,722.6 505.8,721.2 506.1,719.3 506.3,717.9 506.5,716.4 506.7,714.0 506.9,713.0 507.1,711.0 507.3,709.5 507.5,708.3 507.7,706.6 507.9,705.0 508.1,704.0 508.2,701.7 508.4,700.5 508.6,699.0 508.8,697.0 508.9,695.6 509.1,693.9 509.2,692.5 509.3,691.4 509.5,689.3 509.6,687.5 509.7,685.2 509.9,684.3 510.0,682.7 510.1,680.9 510.2,679.6 510.4,677.6 510.5,676.1 510.6,674.8 510.7,672.8 510.9,671.3 511.0,669.5 511.1,668.8 511.2,666.6 511.3,665.4 511.5,663.3 511.6,662.5 511.7,660.5 511.9,658.5 512.0,657.2 512.1,655.8 512.3,653.9 512.4,652.4 512.6,650.8 512.7,649.4 512.8,647.9 513.0,645.8 513.1,644.4 513.3,643.0 513.4,640.9 513.6,639.9 513.7,638.2 513.9,636.6 514.0,634.4 514.2,633.0 514.3,631.3 514.5,630.2 514.6,628.1 514.7,626.7 514.9,625.3 515.0,623.9 515.1,621.6 515.2,620.2 515.3,619.2 515.4,617.2 515.5,615.6 515.6,614.3 515.7,612.6 515.8,611.1 515.8,609.3 515.9,608.0 516.0,605.8 516.0,604.4 516.1,602.9 516.2,601.3 516.2,599.3 516.3,598.0 516.3,596.4 516.4,594.9 516.4,593.4 516.5,591.4 516.6,589.3 516.6,588.7 516.7,587.0 516.7,585.1 516.8,583.7 516.9,582.2 516.9,580.1 517.0,578.4 517.1,577.1 517.2,575.0 517.3,574.0 517.3,572.2 517.5,570.3 517.6,569.5 517.7,567.2 517.8,566.0 518.0,564.4 518.1,562.7 518.2,560.8 518.4,559.5 518.6,557.9 518.7,556.0 518.9,554.9 519.1,552.8 519.3,551.1 519.5,550.5 519.7,548.3 519.9,547.1 520.0,544.8 520.2,543.8 520.4,542.1 520.7,540.1 521.4,539.1 522.0,540.8 522.3,542.2 522.7,544.1 523.0,545.7 523.3,547.2 523.6,548.9 524.0,550.5 524.3,551.7 524.6,553.7 524.8,555.2 525.1,556.7 525.3,558.2 525.6,559.7 525.8,560.9 526.0,562.9 526.2,565.1 526.4,565.9 526.6,567.9 526.8,569.3 526.9,571.1 527.1,572.6 527.3,574.2 527.4,575.7 527.6,577.0 527.8,579.3 527.9,580.6 528.1,582.2 528.2,583.5 528.4,585.1 528.5,586.5 528.7,588.0 528.8,590.0 529.0,591.4 529.1,593.7 529.3,595.3 529.4,596.6 529.6,598.0 529.7,599.5 529.8,601.0 530.0,603.1 530.1,604.5 530.3,605.4 530.4,607.9 530.5,609.4 530.7,611.0 530.8,612.8 530.9,614.3 531.1,615.7 531.2,616.8 531.3,619.0 531.4,620.7 531.5,622.4 531.7,623.3 531.8,625.3 531.9,627.0 532.0,628.4 532.1,629.8 532.2,631.9 532.4,633.2 532.5,634.9 532.6,636.5 532.7,638.4 532.8,639.6 532.9,641.1 533.0,642.9 533.1,644.7 533.2,646.1 533.3,647.6 533.4,649.4 533.5,650.9 533.5,652.1 533.6,653.8 533.7,655.3 533.8,657.3 533.8,658.9 533.9,660.6 534.0,661.8 534.0,663.8 534.1,665.3 534.2,666.9 534.3,668.5 534.3,669.8 534.4,671.5 534.5,673.7 534.6,674.7 534.7,676.6 534.8,678.2 534.9,679.7 535.0,681.1 535.1,682.4 535.2,684.3 535.3,686.0 535.4,687.6 535.5,689.5 535.6,690.7 535.7,692.2 535.8,694.2 535.9,695.7 536.0,697.4 536.1,699.3 536.2,700.2 536.3,701.9 536.4,703.4 536.5,705.3 536.6,706.4 536.7,708.5 536.8,710.3 536.9,711.5 537.0,713.3 537.1,714.7 537.2,716.2 537.3,717.9 537.4,719.1 537.5,721.1 537.6,723.3 537.8,724.6 537.9,726.3 538.0,727.7 538.1,729.2 538.3,731.0 538.4,732.4 538.5,733.9 538.7,735.6 538.8,737.7 539.0,738.8 539.2,740.9 539.3,741.8 539.5,743.9 539.7,745.4 539.9,746.9 540.1,748.5 540.3,750.0 540.6,751.5 540.9,752.9 541.2,755.1 541.6,756.2 542.0,757.7 542.5,759.2 543.0,761.2 543.5,762.8 544.0,763.8 544.5,765.5 544.9,766.6 545.3,768.6 545.7,770.2 546.1,771.8 546.4,773.2 546.8,774.8 547.1,776.9 547.5,777.5 547.9,779.6 548.3,781.1 548.8,782.4 549.4,784.2 550.4,785.1 551.5,784.0 552.1,782.8 552.6,781.2 553.0,779.6 553.5,777.7 553.9,777.0 554.3,775.2 554.8,773.6 555.3,771.8 555.9,770.5 556.7,768.8 557.8,767.9 559.1,766.9 560.2,765.9 561.0,764.6 561.6,763.0 562.2,761.4 563.0,759.8 563.7,761.2 564.0,762.9 564.1,764.5 564.2,765.7 564.3,767.4 564.3,768.9 564.4,770.8 564.4,772.3 564.5,774.0 564.6,775.3 564.7,777.2 564.8,779.2 565.0,780.4 565.2,782.2 565.3,783.7 565.5,785.2 565.7,786.7 565.9,788.4 566.0,789.5 566.2,791.5 566.4,793.5 566.6,795.2 566.8,796.0 567.0,797.4 567.3,799.2 567.6,801.3 567.9,802.7 568.3,804.1 568.8,805.5 569.5,806.3 570.4,808.3 571.5,809.8 573.0,810.6 574.3,809.1 575.4,807.9 576.5,807.5 578.0,806.9 579.0,807.9 579.9,808.8 580.6,811.2 581.5,812.2 582.3,813.6 582.9,814.8 583.7,816.1 584.6,817.4 585.9,818.7 587.4,818.3 588.8,817.2 590.0,816.2 591.4,815.2 592.9,815.2 594.4,815.5 595.7,816.4 597.0,817.2 598.2,818.5 599.4,819.6 600.8,820.2 602.1,820.9 603.5,822.0 604.8,822.7 606.2,823.6 607.6,824.4 609.0,825.7 610.4,826.3 611.8,826.6 613.3,827.3 614.7,827.9 616.3,828.6 617.8,828.7 619.3,829.7 620.8,830.7 622.3,830.9 623.7,831.5 625.1,832.4 626.4,832.9 627.7,834.2 629.0,835.3 630.3,836.3 631.5,837.0 632.8,838.0 634.2,839.0 635.5,839.4 636.9,840.7 638.3,841.1 639.8,842.1 641.2,842.9 642.7,843.3 644.2,843.9 645.7,844.8 647.2,845.2 648.8,845.6 650.4,846.0 652.0,845.5 653.6,846.1 655.2,845.7 656.8,845.8 658.4,845.2 660.0,846.0" fill="none" stroke="#000000" stroke-width="1.9" stroke-linejoin="round"/>
<line x1="521.50" y1="525.70" x2="521.50" y2="812.00" stroke="#000" stroke-width="1.4"/>
<line x1="469.50" y1="576.00" x2="469.50" y2="828.90" stroke="#000" stroke-width="1.4"/>
<line x1="490.60" y1="606.10" x2="490.60" y2="827.70" stroke="#000" stroke-width="1.4"/>
<line x1="454.60" y1="627.90" x2="454.60" y2="837.20" stroke="#000" stroke-width="1.4"/>
<line x1="563.50" y1="751.70" x2="563.50" y2="843.00" stroke="#000" stroke-width="1.4"/>
<line x1="578.70" y1="784.10" x2="578.70" y2="845.70" stroke="#000" stroke-width="1.4"/>
<line x1="593.40" y1="809.00" x2="593.40" y2="842.20" stroke="#000" stroke-width="1.4"/>
<line x1="409.30" y1="803.50" x2="409.30" y2="847.80" stroke="#000" stroke-width="1.4"/>
<rect x="360.30" y="472.40" width="300.40" height="389.30" fill="none" stroke="#000" stroke-width="1.6"/>
<line x1="420.38" y1="861.70" x2="420.38" y2="867.70" stroke="#000" stroke-width="1.5"/>
<line x1="500.49" y1="861.70" x2="500.49" y2="867.70" stroke="#000" stroke-width="1.5"/>
<line x1="580.59" y1="861.70" x2="580.59" y2="867.70" stroke="#000" stroke-width="1.5"/>
<line x1="660.70" y1="861.70" x2="660.70" y2="867.70" stroke="#000" stroke-width="1.5"/>
<line x1="380.33" y1="861.70" x2="380.33" y2="865.70" stroke="#000" stroke-width="1.5"/>
<line x1="460.43" y1="861.70" x2="460.43" y2="865.70" stroke="#000" stroke-width="1.5"/>
<line x1="540.54" y1="861.70" x2="540.54" y2="865.70" stroke="#000" stroke-width="1.5"/>
<line x1="620.65" y1="861.70" x2="620.65" y2="865.70" stroke="#000" stroke-width="1.5"/>
<line x1="371.70" y1="491.60" x2="371.70" y2="524.00" stroke="#000" stroke-width="1.6"/>
<text x="376.22" y="512.80" font-family='"Liberation Sans", sans-serif' font-weight="bold" font-size="16.00" textLength="41.26" lengthAdjust="spacingAndGlyphs" fill="#000" stroke="#000" stroke-width="0.35">0.005</text>
<text x="553.11" y="496.40" font-family='"Liberation Sans", sans-serif' font-weight="bold" font-size="18.00" textLength="27.11" lengthAdjust="spacingAndGlyphs" fill="#000" stroke="#000" stroke-width="0.35">(d)</text>
<text x="584.69" y="496.40" font-family='"Liberation Serif", serif' font-weight="normal" font-size="18.00" textLength="10.54" lengthAdjust="spacingAndGlyphs" fill="#000" stroke="#000" stroke-width="0.35">δ</text>
<text x="594.73" y="496.40" font-family='"Liberation Sans", sans-serif' font-weight="bold" font-size="17.20" textLength="53.94" lengthAdjust="spacingAndGlyphs" fill="#000" stroke="#000" stroke-width="0.35">-MnO</text>
<text x="649.06" y="504.40" font-family='"Liberation Sans", sans-serif' font-weight="bold" font-size="11.00" textLength="6.66" lengthAdjust="spacingAndGlyphs" fill="#000" stroke="#000" stroke-width="0.35">2</text>
<text x="512.95" y="523.80" font-family='"Liberation Sans", sans-serif' font-weight="bold" font-size="16.20" textLength="37.07" lengthAdjust="spacingAndGlyphs" fill="#000" stroke="#000" stroke-width="0.35">1146</text>
<text x="452.39" y="570.80" font-family='"Liberation Sans", sans-serif' font-weight="bold" font-size="16.20" textLength="36.41" lengthAdjust="spacingAndGlyphs" fill="#000" stroke="#000" stroke-width="0.35">1284</text>
<text x="474.78" y="598.40" font-family='"Liberation Sans", sans-serif' font-weight="bold" font-size="16.20" textLength="36.75" lengthAdjust="spacingAndGlyphs" fill="#000" stroke="#000" stroke-width="0.35">1225</text>
<text x="424.40" y="620.60" font-family='"Liberation Sans", sans-serif' font-weight="bold" font-size="16.20" textLength="35.22" lengthAdjust="spacingAndGlyphs" fill="#000" stroke="#000" stroke-width="0.35">1311</text>
<text x="548.35" y="745.50" font-family='"Liberation Sans", sans-serif' font-weight="bold" font-size="16.20" textLength="34.15" lengthAdjust="spacingAndGlyphs" fill="#000" stroke="#000" stroke-width="0.35">1041</text>
<text x="568.40" y="781.00" font-family='"Liberation Sans", sans-serif' font-weight="bold" font-size="16.20" textLength="36.29" lengthAdjust="spacingAndGlyphs" fill="#000" stroke="#000" stroke-width="0.35">1006</text>
<text x="584.20" y="807.10" font-family='"Liberation Sans", sans-serif' font-weight="bold" font-size="16.20" textLength="27.58" lengthAdjust="spacingAndGlyphs" fill="#000" stroke="#000" stroke-width="0.35">968</text>
<text x="390.49" y="799.70" font-family='"Liberation Sans", sans-serif' font-weight="bold" font-size="16.20" textLength="36.63" lengthAdjust="spacingAndGlyphs" fill="#000" stroke="#000" stroke-width="0.35">1428</text>
<line x1="613.60" y1="565.00" x2="613.60" y2="593.30" stroke="#000" stroke-width="1.6"/>
<path d="M613.60,557.00 L617.00,566.50 L610.20,566.50 Z" fill="#000"/>
<text x="578.68" y="614.80" font-family='"Liberation Serif", serif' font-weight="bold" font-size="16.70" textLength="75.94" lengthAdjust="spacingAndGlyphs" fill="#000" stroke="#000" stroke-width="0.35">Increasing</text>
<text x="600.23" y="635.10" font-family='"Liberation Serif", serif' font-weight="bold" font-size="16.70" textLength="30.87" lengthAdjust="spacingAndGlyphs" fill="#000" stroke="#000" stroke-width="0.35">time</text>
<text transform="translate(354.12,690.53) rotate(-90)" x="-1.43" y="0" font-family='"Liberation Sans", sans-serif' font-weight="bold" font-size="21.52" textLength="41.59" lengthAdjust="spacingAndGlyphs" fill="#000" stroke="#000" stroke-width="0.35">K-M</text>
<text x="404.03" y="885.40" font-family='"Liberation Sans", sans-serif' font-weight="bold" font-size="12.00" textLength="32.40" lengthAdjust="spacingAndGlyphs" fill="#000" stroke="#000" stroke-width="0.35">1400</text>
<text x="484.14" y="885.40" font-family='"Liberation Sans", sans-serif' font-weight="bold" font-size="12.00" textLength="32.40" lengthAdjust="spacingAndGlyphs" fill="#000" stroke="#000" stroke-width="0.35">1200</text>
<text x="564.24" y="885.40" font-family='"Liberation Sans", sans-serif' font-weight="bold" font-size="12.00" textLength="32.40" lengthAdjust="spacingAndGlyphs" fill="#000" stroke="#000" stroke-width="0.35">1000</text>
<text x="648.69" y="885.40" font-family='"Liberation Sans", sans-serif' font-weight="bold" font-size="12.00" textLength="24.22" lengthAdjust="spacingAndGlyphs" fill="#000" stroke="#000" stroke-width="0.35">800</text>
<text x="418.68" y="919.30" font-family='"Liberation Sans", sans-serif' font-weight="bold" font-size="20.20" textLength="180.44" lengthAdjust="spacingAndGlyphs" fill="#000" stroke="#000" stroke-width="0.35">Wavenumber / cm</text>
<text x="599.82" y="907.50" font-family='"Liberation Sans", sans-serif' font-weight="bold" font-size="9.50" textLength="7.81" lengthAdjust="spacingAndGlyphs" fill="#000" stroke="#000" stroke-width="0.35">-1</text>
</svg>
</body></html>
